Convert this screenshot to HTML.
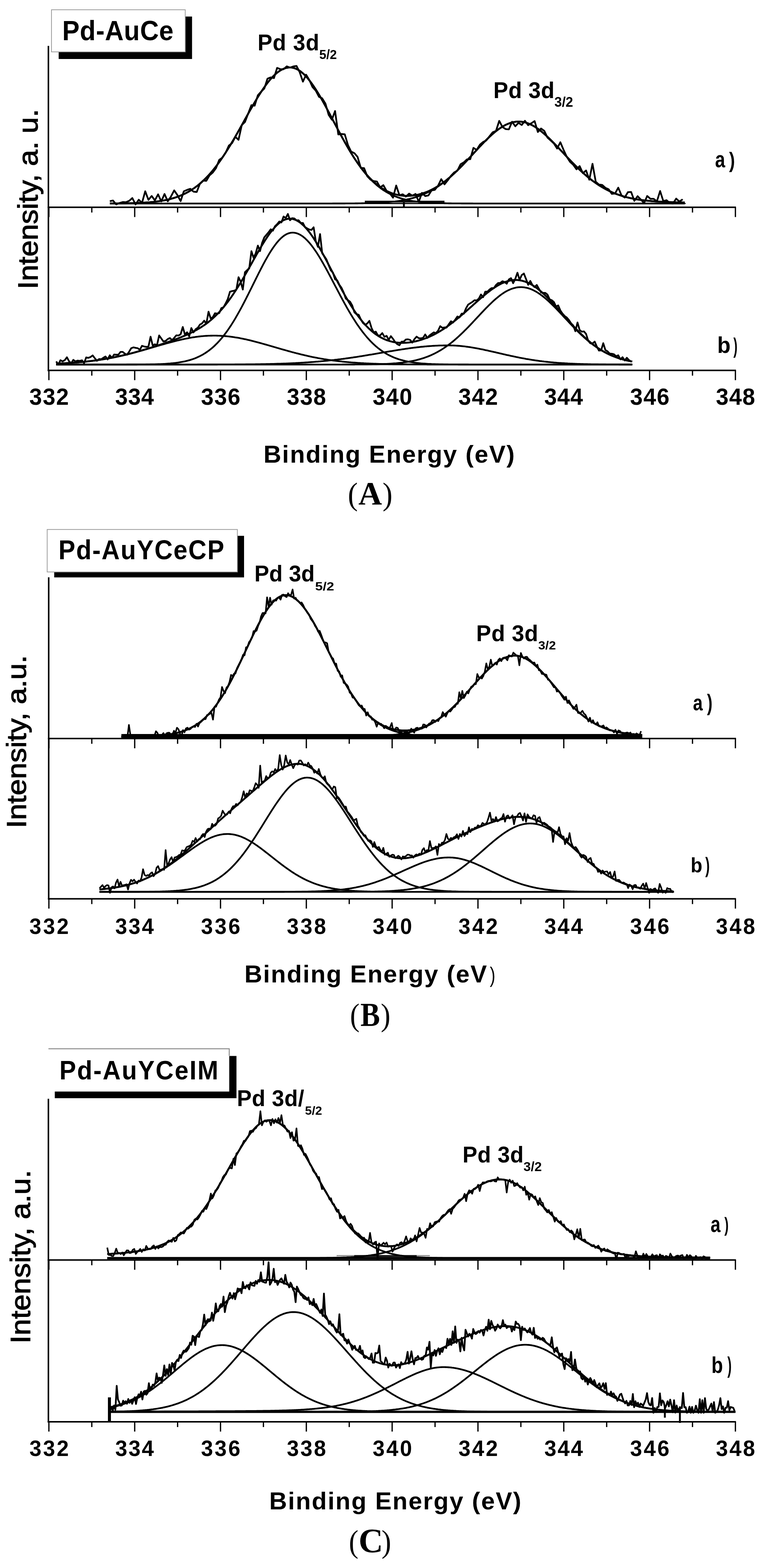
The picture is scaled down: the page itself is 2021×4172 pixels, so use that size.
<!DOCTYPE html>
<html><head><meta charset="utf-8"><title>Pd 3d XPS spectra</title>
<style>html,body{margin:0;padding:0;background:#fff;overflow:hidden;}svg{display:block;}</style></head>
<body>
<svg width="2021" height="4172" viewBox="0 0 2021 4172">
<rect width="2021" height="4172" fill="#fff"/>
<line x1="128.7" y1="122" x2="128.7" y2="987.5" stroke="#000" stroke-width="4"/>
<line x1="126.69999999999999" y1="551.5" x2="1957.1" y2="551.5" stroke="#000" stroke-width="4"/>
<line x1="130.0" y1="551.5" x2="130.0" y2="577.5" stroke="#000" stroke-width="3.4"/>
<line x1="244.1" y1="551.5" x2="244.1" y2="565.5" stroke="#000" stroke-width="3.4"/>
<line x1="358.2" y1="551.5" x2="358.2" y2="577.5" stroke="#000" stroke-width="3.4"/>
<line x1="472.3" y1="551.5" x2="472.3" y2="565.5" stroke="#000" stroke-width="3.4"/>
<line x1="586.4" y1="551.5" x2="586.4" y2="577.5" stroke="#000" stroke-width="3.4"/>
<line x1="700.5" y1="551.5" x2="700.5" y2="565.5" stroke="#000" stroke-width="3.4"/>
<line x1="814.6" y1="551.5" x2="814.6" y2="577.5" stroke="#000" stroke-width="3.4"/>
<line x1="928.7" y1="551.5" x2="928.7" y2="565.5" stroke="#000" stroke-width="3.4"/>
<line x1="1042.8" y1="551.5" x2="1042.8" y2="577.5" stroke="#000" stroke-width="3.4"/>
<line x1="1156.9" y1="551.5" x2="1156.9" y2="565.5" stroke="#000" stroke-width="3.4"/>
<line x1="1271.0" y1="551.5" x2="1271.0" y2="577.5" stroke="#000" stroke-width="3.4"/>
<line x1="1385.1" y1="551.5" x2="1385.1" y2="565.5" stroke="#000" stroke-width="3.4"/>
<line x1="1499.2" y1="551.5" x2="1499.2" y2="577.5" stroke="#000" stroke-width="3.4"/>
<line x1="1613.3" y1="551.5" x2="1613.3" y2="565.5" stroke="#000" stroke-width="3.4"/>
<line x1="1727.4" y1="551.5" x2="1727.4" y2="577.5" stroke="#000" stroke-width="3.4"/>
<line x1="1841.5" y1="551.5" x2="1841.5" y2="565.5" stroke="#000" stroke-width="3.4"/>
<line x1="1955.6" y1="551.5" x2="1955.6" y2="577.5" stroke="#000" stroke-width="3.4"/>
<line x1="126.69999999999999" y1="985.5" x2="1957.1" y2="985.5" stroke="#000" stroke-width="4"/>
<line x1="130.0" y1="985.5" x2="130.0" y2="1011.5" stroke="#000" stroke-width="3.4"/>
<line x1="244.1" y1="985.5" x2="244.1" y2="999.5" stroke="#000" stroke-width="3.4"/>
<line x1="358.2" y1="985.5" x2="358.2" y2="1011.5" stroke="#000" stroke-width="3.4"/>
<line x1="472.3" y1="985.5" x2="472.3" y2="999.5" stroke="#000" stroke-width="3.4"/>
<line x1="586.4" y1="985.5" x2="586.4" y2="1011.5" stroke="#000" stroke-width="3.4"/>
<line x1="700.5" y1="985.5" x2="700.5" y2="999.5" stroke="#000" stroke-width="3.4"/>
<line x1="814.6" y1="985.5" x2="814.6" y2="1011.5" stroke="#000" stroke-width="3.4"/>
<line x1="928.7" y1="985.5" x2="928.7" y2="999.5" stroke="#000" stroke-width="3.4"/>
<line x1="1042.8" y1="985.5" x2="1042.8" y2="1011.5" stroke="#000" stroke-width="3.4"/>
<line x1="1156.9" y1="985.5" x2="1156.9" y2="999.5" stroke="#000" stroke-width="3.4"/>
<line x1="1271.0" y1="985.5" x2="1271.0" y2="1011.5" stroke="#000" stroke-width="3.4"/>
<line x1="1385.1" y1="985.5" x2="1385.1" y2="999.5" stroke="#000" stroke-width="3.4"/>
<line x1="1499.2" y1="985.5" x2="1499.2" y2="1011.5" stroke="#000" stroke-width="3.4"/>
<line x1="1613.3" y1="985.5" x2="1613.3" y2="999.5" stroke="#000" stroke-width="3.4"/>
<line x1="1727.4" y1="985.5" x2="1727.4" y2="1011.5" stroke="#000" stroke-width="3.4"/>
<line x1="1841.5" y1="985.5" x2="1841.5" y2="999.5" stroke="#000" stroke-width="3.4"/>
<line x1="1955.6" y1="985.5" x2="1955.6" y2="1011.5" stroke="#000" stroke-width="3.4"/>
<line x1="292.0" y1="541.5" x2="1823.2" y2="541.5" stroke="#000" stroke-width="3"/>
<line x1="1074" y1="528" x2="1074" y2="551" stroke="#000" stroke-width="5"/>
<line x1="970" y1="536.5" x2="1182" y2="536.5" stroke="#111" stroke-width="5"/>
<polyline points="292.0 541.3 294.9 541.3 297.7 541.3 300.6 541.3 303.4 541.3 306.3 541.2 309.1 541.2 312.0 541.2 314.8 541.2 317.7 541.1 320.5 541.1 323.4 541.1 326.3 541.0 329.1 541.0 332.0 540.9 334.8 540.9 337.7 540.8 340.5 540.8 343.4 540.7 346.2 540.7 349.1 540.6 351.9 540.5 354.8 540.4 357.6 540.3 360.5 540.2 363.3 540.1 366.2 540.0 369.0 539.9 371.9 539.8 374.7 539.6 377.6 539.5 380.4 539.3 383.3 539.2 386.2 539.0 389.0 538.8 391.9 538.6 394.7 538.4 397.6 538.2 400.4 537.9 403.3 537.6 406.1 537.4 409.0 537.1 411.8 536.7 414.7 536.4 417.5 536.0 420.4 535.7 423.2 535.3 426.1 534.8 428.9 534.4 431.8 533.9 434.6 533.4 437.5 532.9 440.4 532.3 443.2 531.7 446.1 531.1 448.9 530.4 451.8 529.7 454.6 529.0 457.5 528.2 460.3 527.4 463.2 526.5 466.0 525.6 468.9 524.6 471.7 523.6 474.6 522.6 477.4 521.5 480.3 520.3 483.1 519.1 486.0 517.9 488.8 516.5 491.7 515.2 494.5 513.7 497.4 512.2 500.3 510.7 503.1 509.0 506.0 507.3 508.8 505.6 511.7 503.7 514.5 501.8 517.4 499.8 520.2 497.7 523.1 495.6 525.9 493.4 528.8 491.1 531.6 488.7 534.5 486.3 537.3 483.7 540.2 481.1 543.0 478.4 545.9 475.6 548.7 472.7 551.6 469.7 554.5 466.6 557.3 463.5 560.2 460.3 563.0 456.9 565.9 453.5 568.7 450.0 571.6 446.4 574.4 442.8 577.3 439.0 580.1 435.2 583.0 431.2 585.8 427.2 588.7 423.1 591.5 418.9 594.4 414.7 597.2 410.4 600.1 406.0 602.9 401.5 605.8 396.9 608.6 392.3 611.5 387.7 614.4 382.9 617.2 378.1 620.1 373.3 622.9 368.4 625.8 363.5 628.6 358.5 631.5 353.5 634.3 348.4 637.2 343.4 640.0 338.3 642.9 333.2 645.7 328.1 648.6 322.9 651.4 317.8 654.3 312.7 657.1 307.6 660.0 302.5 662.8 297.4 665.7 292.3 668.6 287.3 671.4 282.4 674.3 277.4 677.1 272.6 680.0 267.7 682.8 263.0 685.7 258.3 688.5 253.7 691.4 249.2 694.2 244.8 697.1 240.5 699.9 236.3 702.8 232.2 705.6 228.2 708.5 224.3 711.3 220.5 714.2 216.9 717.0 213.5 719.9 210.1 722.7 207.0 725.6 203.9 728.5 201.1 731.3 198.4 734.2 195.8 737.0 193.4 739.9 191.3 742.7 189.2 745.6 187.4 748.4 185.8 751.3 184.3 754.1 183.0 757.0 182.0 759.8 181.1 762.7 180.4 765.5 179.9 768.4 179.6 771.2 179.5 774.1 179.6 776.9 179.9 779.8 180.5 782.7 181.3 785.5 182.3 788.4 183.5 791.2 184.9 794.1 186.5 796.9 188.4 799.8 190.4 802.6 192.7 805.5 195.1 808.3 197.7 811.2 200.6 814.0 203.6 816.9 206.8 819.7 210.1 822.6 213.7 825.4 217.3 828.3 221.2 831.1 225.2 834.0 229.3 836.8 233.6 839.7 238.0 842.6 242.5 845.4 247.1 848.3 251.9 851.1 256.7 854.0 261.6 856.8 266.6 859.7 271.7 862.5 276.9 865.4 282.1 868.2 287.3 871.1 292.6 873.9 298.0 876.8 303.4 879.6 308.8 882.5 314.2 885.3 319.6 888.2 325.0 891.0 330.5 893.9 335.9 896.8 341.3 899.6 346.7 902.5 352.0 905.3 357.3 908.2 362.6 911.0 367.8 913.9 373.0 916.7 378.1 919.6 383.2 922.4 388.2 925.3 393.1 928.1 398.0 931.0 402.8 933.8 407.5 936.7 412.1 939.5 416.7 942.4 421.2 945.2 425.5 948.1 429.8 950.9 434.0 953.8 438.1 956.7 442.1 959.5 446.0 962.4 449.8 965.2 453.5 968.1 457.1 970.9 460.6 973.8 464.1 976.6 467.4 979.5 470.6 982.3 473.7 985.2 476.7 988.0 479.7 990.9 482.5 993.7 485.2 996.6 487.9 999.4 490.4 1002.3 492.9 1005.1 495.2 1008.0 497.5 1010.9 499.7 1013.7 501.8 1016.6 503.8 1019.4 505.8 1022.3 507.6 1025.1 509.4 1028.0 511.1 1030.8 512.8 1033.7 514.3 1036.5 515.8 1039.4 517.2 1042.2 518.6 1045.1 519.9 1047.9 521.1 1050.8 522.3 1053.6 523.4 1056.5 524.5 1059.3 525.5 1062.2 526.5 1065.0 527.4 1067.9 528.3 1070.8 529.1 1073.6 529.9 1076.5 530.6 1079.3 531.3 1082.2 531.9 1085.0 532.6 1087.9 533.1 1090.7 533.7 1093.6 534.2 1096.4 534.7 1099.3 535.2 1102.1 535.6 1105.0 536.0 1107.8 536.4 1110.7 536.7 1113.5 537.1 1116.4 537.4 1119.2 537.7 1122.1 538.0 1125.0 538.2 1127.8 538.5 1130.7 538.7 1133.5 538.9 1136.4 539.1 1139.2 539.3 1142.1 539.4 1144.9 539.6 1147.8 539.7 1150.6 539.9 1153.5 540.0 1156.3 540.1 1159.2 540.2 1162.0 540.3 1164.9 540.4 1167.7 540.5 1170.6 540.6 1173.4 540.7 1176.3 540.7 1179.1 540.8 1182.0 540.9 1184.9 540.9 1187.7 541.0 1190.6 541.0 1193.4 541.1 1196.3 541.1 1199.1 541.1 1202.0 541.2 1204.8 541.2 1207.7 541.2 1210.5 541.2 1213.4 541.3 1216.2 541.3 1219.1 541.3 1221.9 541.3 1224.8 541.3 1227.6 541.4 1230.5 541.4 1233.3 541.4 1236.2 541.4 1239.1 541.4 1241.9 541.4 1244.8 541.4 1247.6 541.4 1250.5 541.4 1253.3 541.4 1256.2 541.4 1259.0 541.5 1261.9 541.5 1264.7 541.5 1267.6 541.5 1270.4 541.5 1273.3 541.5 1276.1 541.5 1279.0 541.5 1281.8 541.5 1284.7 541.5 1287.5 541.5 1290.4 541.5 1293.2 541.5 1296.1 541.5 1299.0 541.5 1301.8 541.5 1304.7 541.5 1307.5 541.5 1310.4 541.5 1313.2 541.5 1316.1 541.5 1318.9 541.5 1321.8 541.5 1324.6 541.5 1327.5 541.5 1330.3 541.5 1333.2 541.5 1336.0 541.5 1338.9 541.5 1341.7 541.5 1344.6 541.5 1347.4 541.5 1350.3 541.5 1353.2 541.5 1356.0 541.5 1358.9 541.5 1361.7 541.5 1364.6 541.5 1367.4 541.5 1370.3 541.5 1373.1 541.5 1376.0 541.5 1378.8 541.5 1381.7 541.5 1384.5 541.5 1387.4 541.5 1390.2 541.5 1393.1 541.5 1395.9 541.5 1398.8 541.5 1401.6 541.5 1404.5 541.5 1407.3 541.5 1410.2 541.5 1413.1 541.5 1415.9 541.5 1418.8 541.5 1421.6 541.5 1424.5 541.5 1427.3 541.5 1430.2 541.5 1433.0 541.5 1435.9 541.5 1438.7 541.5 1441.6 541.5 1444.4 541.5 1447.3 541.5 1450.1 541.5 1453.0 541.5 1455.8 541.5 1458.7 541.5 1461.5 541.5 1464.4 541.5 1467.3 541.5 1470.1 541.5 1473.0 541.5 1475.8 541.5 1478.7 541.5 1481.5 541.5 1484.4 541.5 1487.2 541.5 1490.1 541.5 1492.9 541.5 1495.8 541.5 1498.6 541.5 1501.5 541.5 1504.3 541.5 1507.2 541.5 1510.0 541.5 1512.9 541.5 1515.7 541.5 1518.6 541.5 1521.4 541.5 1524.3 541.5 1527.2 541.5 1530.0 541.5 1532.9 541.5 1535.7 541.5 1538.6 541.5 1541.4 541.5 1544.3 541.5 1547.1 541.5 1550.0 541.5 1552.8 541.5 1555.7 541.5 1558.5 541.5 1561.4 541.5 1564.2 541.5 1567.1 541.5 1569.9 541.5 1572.8 541.5 1575.6 541.5 1578.5 541.5 1581.4 541.5 1584.2 541.5 1587.1 541.5 1589.9 541.5 1592.8 541.5 1595.6 541.5 1598.5 541.5 1601.3 541.5 1604.2 541.5 1607.0 541.5 1609.9 541.5 1612.7 541.5 1615.6 541.5 1618.4 541.5 1621.3 541.5 1624.1 541.5 1627.0 541.5 1629.8 541.5 1632.7 541.5 1635.5 541.5 1638.4 541.5 1641.3 541.5 1644.1 541.5 1647.0 541.5 1649.8 541.5 1652.7 541.5 1655.5 541.5 1658.4 541.5 1661.2 541.5 1664.1 541.5 1666.9 541.5 1669.8 541.5 1672.6 541.5 1675.5 541.5 1678.3 541.5 1681.2 541.5 1684.0 541.5 1686.9 541.5 1689.7 541.5 1692.6 541.5 1695.5 541.5 1698.3 541.5 1701.2 541.5 1704.0 541.5 1706.9 541.5 1709.7 541.5 1712.6 541.5 1715.4 541.5 1718.3 541.5 1721.1 541.5 1724.0 541.5 1726.8 541.5 1729.7 541.5 1732.5 541.5 1735.4 541.5 1738.2 541.5 1741.1 541.5 1743.9 541.5 1746.8 541.5 1749.6 541.5 1752.5 541.5 1755.4 541.5 1758.2 541.5 1761.1 541.5 1763.9 541.5 1766.8 541.5 1769.6 541.5 1772.5 541.5 1775.3 541.5 1778.2 541.5 1781.0 541.5 1783.9 541.5 1786.7 541.5 1789.6 541.5 1792.4 541.5 1795.3 541.5 1798.1 541.5 1801.0 541.5 1803.8 541.5 1806.7 541.5 1809.6 541.5 1812.4 541.5 1815.3 541.5 1818.1 541.5 1821.0 541.5" fill="none" stroke="#000" stroke-width="4.6" stroke-linejoin="round"/>
<polyline points="292.0 541.5 294.9 541.5 297.7 541.5 300.6 541.5 303.4 541.5 306.3 541.5 309.1 541.5 312.0 541.5 314.8 541.5 317.7 541.5 320.5 541.5 323.4 541.5 326.3 541.5 329.1 541.5 332.0 541.5 334.8 541.5 337.7 541.5 340.5 541.5 343.4 541.5 346.2 541.5 349.1 541.5 351.9 541.5 354.8 541.5 357.6 541.5 360.5 541.5 363.3 541.5 366.2 541.5 369.0 541.5 371.9 541.5 374.7 541.5 377.6 541.5 380.4 541.5 383.3 541.5 386.2 541.5 389.0 541.5 391.9 541.5 394.7 541.5 397.6 541.5 400.4 541.5 403.3 541.5 406.1 541.5 409.0 541.5 411.8 541.5 414.7 541.5 417.5 541.5 420.4 541.5 423.2 541.5 426.1 541.5 428.9 541.5 431.8 541.5 434.6 541.5 437.5 541.5 440.4 541.5 443.2 541.5 446.1 541.5 448.9 541.5 451.8 541.5 454.6 541.5 457.5 541.5 460.3 541.5 463.2 541.5 466.0 541.5 468.9 541.5 471.7 541.5 474.6 541.5 477.4 541.5 480.3 541.5 483.1 541.5 486.0 541.5 488.8 541.5 491.7 541.5 494.5 541.5 497.4 541.5 500.3 541.5 503.1 541.5 506.0 541.5 508.8 541.5 511.7 541.5 514.5 541.5 517.4 541.5 520.2 541.5 523.1 541.5 525.9 541.5 528.8 541.5 531.6 541.5 534.5 541.5 537.3 541.5 540.2 541.5 543.0 541.5 545.9 541.5 548.7 541.5 551.6 541.5 554.5 541.5 557.3 541.5 560.2 541.5 563.0 541.5 565.9 541.5 568.7 541.5 571.6 541.5 574.4 541.5 577.3 541.5 580.1 541.5 583.0 541.5 585.8 541.5 588.7 541.5 591.5 541.5 594.4 541.5 597.2 541.5 600.1 541.5 602.9 541.5 605.8 541.5 608.6 541.5 611.5 541.5 614.4 541.5 617.2 541.5 620.1 541.5 622.9 541.5 625.8 541.5 628.6 541.5 631.5 541.5 634.3 541.5 637.2 541.5 640.0 541.5 642.9 541.5 645.7 541.5 648.6 541.5 651.4 541.5 654.3 541.5 657.1 541.5 660.0 541.5 662.8 541.5 665.7 541.5 668.6 541.5 671.4 541.5 674.3 541.5 677.1 541.5 680.0 541.5 682.8 541.5 685.7 541.5 688.5 541.5 691.4 541.5 694.2 541.5 697.1 541.5 699.9 541.5 702.8 541.5 705.6 541.5 708.5 541.5 711.3 541.5 714.2 541.5 717.0 541.5 719.9 541.5 722.7 541.5 725.6 541.5 728.5 541.5 731.3 541.5 734.2 541.5 737.0 541.5 739.9 541.5 742.7 541.5 745.6 541.5 748.4 541.5 751.3 541.5 754.1 541.5 757.0 541.5 759.8 541.5 762.7 541.5 765.5 541.5 768.4 541.5 771.2 541.5 774.1 541.5 776.9 541.5 779.8 541.5 782.7 541.5 785.5 541.5 788.4 541.5 791.2 541.5 794.1 541.5 796.9 541.5 799.8 541.5 802.6 541.5 805.5 541.5 808.3 541.5 811.2 541.5 814.0 541.5 816.9 541.5 819.7 541.5 822.6 541.5 825.4 541.5 828.3 541.5 831.1 541.5 834.0 541.5 836.8 541.5 839.7 541.5 842.6 541.5 845.4 541.5 848.3 541.5 851.1 541.5 854.0 541.5 856.8 541.5 859.7 541.5 862.5 541.5 865.4 541.5 868.2 541.5 871.1 541.5 873.9 541.5 876.8 541.5 879.6 541.5 882.5 541.5 885.3 541.4 888.2 541.4 891.0 541.4 893.9 541.4 896.8 541.4 899.6 541.4 902.5 541.4 905.3 541.4 908.2 541.4 911.0 541.4 913.9 541.4 916.7 541.4 919.6 541.3 922.4 541.3 925.3 541.3 928.1 541.3 931.0 541.3 933.8 541.2 936.7 541.2 939.5 541.2 942.4 541.2 945.2 541.1 948.1 541.1 950.9 541.1 953.8 541.0 956.7 541.0 959.5 541.0 962.4 540.9 965.2 540.9 968.1 540.8 970.9 540.8 973.8 540.7 976.6 540.6 979.5 540.6 982.3 540.5 985.2 540.4 988.0 540.3 990.9 540.2 993.7 540.1 996.6 540.0 999.4 539.9 1002.3 539.8 1005.1 539.7 1008.0 539.5 1010.9 539.4 1013.7 539.2 1016.6 539.0 1019.4 538.9 1022.3 538.7 1025.1 538.5 1028.0 538.3 1030.8 538.0 1033.7 537.8 1036.5 537.5 1039.4 537.3 1042.2 537.0 1045.1 536.7 1047.9 536.3 1050.8 536.0 1053.6 535.6 1056.5 535.3 1059.3 534.9 1062.2 534.4 1065.0 534.0 1067.9 533.5 1070.8 533.0 1073.6 532.5 1076.5 531.9 1079.3 531.4 1082.2 530.8 1085.0 530.1 1087.9 529.5 1090.7 528.8 1093.6 528.0 1096.4 527.3 1099.3 526.5 1102.1 525.6 1105.0 524.7 1107.8 523.8 1110.7 522.9 1113.5 521.9 1116.4 520.9 1119.2 519.8 1122.1 518.7 1125.0 517.5 1127.8 516.3 1130.7 515.0 1133.5 513.7 1136.4 512.4 1139.2 511.0 1142.1 509.5 1144.9 508.0 1147.8 506.5 1150.6 504.9 1153.5 503.2 1156.3 501.5 1159.2 499.7 1162.0 497.9 1164.9 496.1 1167.7 494.1 1170.6 492.2 1173.4 490.1 1176.3 488.0 1179.1 485.9 1182.0 483.7 1184.9 481.5 1187.7 479.2 1190.6 476.8 1193.4 474.4 1196.3 472.0 1199.1 469.5 1202.0 466.9 1204.8 464.3 1207.7 461.7 1210.5 459.0 1213.4 456.3 1216.2 453.5 1219.1 450.7 1221.9 447.8 1224.8 445.0 1227.6 442.0 1230.5 439.1 1233.3 436.1 1236.2 433.1 1239.1 430.1 1241.9 427.0 1244.8 424.0 1247.6 420.9 1250.5 417.8 1253.3 414.7 1256.2 411.6 1259.0 408.4 1261.9 405.3 1264.7 402.2 1267.6 399.1 1270.4 396.0 1273.3 393.0 1276.1 389.9 1279.0 386.9 1281.8 383.9 1284.7 380.9 1287.5 378.0 1290.4 375.1 1293.2 372.2 1296.1 369.4 1299.0 366.6 1301.8 363.9 1304.7 361.3 1307.5 358.7 1310.4 356.2 1313.2 353.7 1316.1 351.3 1318.9 349.0 1321.8 346.8 1324.6 344.7 1327.5 342.6 1330.3 340.7 1333.2 338.8 1336.0 337.0 1338.9 335.4 1341.7 333.8 1344.6 332.3 1347.4 331.0 1350.3 329.7 1353.2 328.6 1356.0 327.5 1358.9 326.6 1361.7 325.8 1364.6 325.1 1367.4 324.6 1370.3 324.1 1373.1 323.8 1376.0 323.6 1378.8 323.5 1381.7 323.5 1384.5 323.7 1387.4 324.0 1390.2 324.4 1393.1 325.0 1395.9 325.6 1398.8 326.4 1401.6 327.3 1404.5 328.4 1407.3 329.5 1410.2 330.8 1413.1 332.1 1415.9 333.6 1418.8 335.2 1421.6 336.9 1424.5 338.7 1427.3 340.6 1430.2 342.6 1433.0 344.6 1435.9 346.8 1438.7 349.0 1441.6 351.4 1444.4 353.8 1447.3 356.2 1450.1 358.7 1453.0 361.3 1455.8 364.0 1458.7 366.7 1461.5 369.4 1464.4 372.2 1467.3 375.1 1470.1 377.9 1473.0 380.8 1475.8 383.8 1478.7 386.8 1481.5 389.7 1484.4 392.7 1487.2 395.8 1490.1 398.8 1492.9 401.8 1495.8 404.9 1498.6 407.9 1501.5 411.0 1504.3 414.0 1507.2 417.0 1510.0 420.0 1512.9 423.0 1515.7 426.0 1518.6 429.0 1521.4 431.9 1524.3 434.8 1527.2 437.7 1530.0 440.6 1532.9 443.4 1535.7 446.2 1538.6 448.9 1541.4 451.7 1544.3 454.3 1547.1 457.0 1550.0 459.6 1552.8 462.1 1555.7 464.6 1558.5 467.1 1561.4 469.5 1564.2 471.9 1567.1 474.2 1569.9 476.4 1572.8 478.7 1575.6 480.8 1578.5 482.9 1581.4 485.0 1584.2 487.0 1587.1 489.0 1589.9 490.9 1592.8 492.8 1595.6 494.6 1598.5 496.3 1601.3 498.0 1604.2 499.7 1607.0 501.3 1609.9 502.9 1612.7 504.4 1615.6 505.8 1618.4 507.3 1621.3 508.6 1624.1 509.9 1627.0 511.2 1629.8 512.5 1632.7 513.7 1635.5 514.8 1638.4 515.9 1641.3 517.0 1644.1 518.0 1647.0 519.0 1649.8 519.9 1652.7 520.8 1655.5 521.7 1658.4 522.6 1661.2 523.4 1664.1 524.1 1666.9 524.9 1669.8 525.6 1672.6 526.3 1675.5 526.9 1678.3 527.5 1681.2 528.1 1684.0 528.7 1686.9 529.2 1689.7 529.7 1692.6 530.2 1695.5 530.7 1698.3 531.1 1701.2 531.6 1704.0 532.0 1706.9 532.4 1709.7 532.7 1712.6 533.1 1715.4 533.4 1718.3 533.7 1721.1 534.0 1724.0 534.3 1726.8 534.6 1729.7 534.8 1732.5 535.1 1735.4 535.3 1738.2 535.5 1741.1 535.8 1743.9 536.0 1746.8 536.1 1749.6 536.3 1752.5 536.5 1755.4 536.7 1758.2 536.8 1761.1 537.0 1763.9 537.1 1766.8 537.2 1769.6 537.3 1772.5 537.5 1775.3 537.6 1778.2 537.7 1781.0 537.8 1783.9 537.9 1786.7 538.0 1789.6 538.1 1792.4 538.1 1795.3 538.2 1798.1 538.3 1801.0 538.4 1803.8 538.4 1806.7 538.5 1809.6 538.6 1812.4 538.6 1815.3 538.7 1818.1 538.7 1821.0 538.8" fill="none" stroke="#000" stroke-width="4.6" stroke-linejoin="round"/>
<polyline points="292.0 541.3 294.9 541.3 297.7 541.3 300.6 541.3 303.4 541.3 306.3 541.2 309.1 541.2 312.0 541.2 314.8 541.2 317.7 541.1 320.5 541.1 323.4 541.1 326.3 541.0 329.1 541.0 332.0 540.9 334.8 540.9 337.7 540.8 340.5 540.8 343.4 540.7 346.2 540.7 349.1 540.6 351.9 540.5 354.8 540.4 357.6 540.3 360.5 540.2 363.3 540.1 366.2 540.0 369.0 539.9 371.9 539.8 374.7 539.6 377.6 539.5 380.4 539.3 383.3 539.2 386.2 539.0 389.0 538.8 391.9 538.6 394.7 538.4 397.6 538.2 400.4 537.9 403.3 537.6 406.1 537.4 409.0 537.1 411.8 536.7 414.7 536.4 417.5 536.0 420.4 535.7 423.2 535.3 426.1 534.8 428.9 534.4 431.8 533.9 434.6 533.4 437.5 532.9 440.4 532.3 443.2 531.7 446.1 531.1 448.9 530.4 451.8 529.7 454.6 529.0 457.5 528.2 460.3 527.4 463.2 526.5 466.0 525.6 468.9 524.6 471.7 523.6 474.6 522.6 477.4 521.5 480.3 520.3 483.1 519.1 486.0 517.9 488.8 516.5 491.7 515.2 494.5 513.7 497.4 512.2 500.3 510.7 503.1 509.0 506.0 507.3 508.8 505.6 511.7 503.7 514.5 501.8 517.4 499.8 520.2 497.7 523.1 495.6 525.9 493.4 528.8 491.1 531.6 488.7 534.5 486.3 537.3 483.7 540.2 481.1 543.0 478.4 545.9 475.6 548.7 472.7 551.6 469.7 554.5 466.6 557.3 463.5 560.2 460.3 563.0 456.9 565.9 453.5 568.7 450.0 571.6 446.4 574.4 442.8 577.3 439.0 580.1 435.2 583.0 431.2 585.8 427.2 588.7 423.1 591.5 418.9 594.4 414.7 597.2 410.4 600.1 406.0 602.9 401.5 605.8 396.9 608.6 392.3 611.5 387.7 614.4 382.9 617.2 378.1 620.1 373.3 622.9 368.4 625.8 363.5 628.6 358.5 631.5 353.5 634.3 348.4 637.2 343.4 640.0 338.3 642.9 333.2 645.7 328.1 648.6 322.9 651.4 317.8 654.3 312.7 657.1 307.6 660.0 302.5 662.8 297.4 665.7 292.3 668.6 287.3 671.4 282.4 674.3 277.4 677.1 272.6 680.0 267.7 682.8 263.0 685.7 258.3 688.5 253.7 691.4 249.2 694.2 244.8 697.1 240.5 699.9 236.3 702.8 232.2 705.6 228.2 708.5 224.3 711.3 220.5 714.2 216.9 717.0 213.5 719.9 210.1 722.7 207.0 725.6 203.9 728.5 201.1 731.3 198.4 734.2 195.8 737.0 193.4 739.9 191.3 742.7 189.2 745.6 187.4 748.4 185.8 751.3 184.3 754.1 183.0 757.0 182.0 759.8 181.1 762.7 180.4 765.5 179.9 768.4 179.6 771.2 179.5 774.1 179.6 776.9 179.9 779.8 180.5 782.7 181.3 785.5 182.3 788.4 183.5 791.2 184.9 794.1 186.5 796.9 188.4 799.8 190.4 802.6 192.7 805.5 195.1 808.3 197.7 811.2 200.6 814.0 203.6 816.9 206.8 819.7 210.1 822.6 213.7 825.4 217.3 828.3 221.2 831.1 225.2 834.0 229.3 836.8 233.6 839.7 238.0 842.6 242.5 845.4 247.1 848.3 251.8 851.1 256.7 854.0 261.6 856.8 266.6 859.7 271.7 862.5 276.8 865.4 282.0 868.2 287.3 871.1 292.6 873.9 297.9 876.8 303.3 879.6 308.7 882.5 314.1 885.3 319.6 888.2 325.0 891.0 330.4 893.9 335.8 896.8 341.2 899.6 346.6 902.5 351.9 905.3 357.2 908.2 362.5 911.0 367.7 913.9 372.9 916.7 378.0 919.6 383.0 922.4 388.0 925.3 393.0 928.1 397.8 931.0 402.6 933.8 407.3 936.7 411.9 939.5 416.4 942.4 420.8 945.2 425.2 948.1 429.4 950.9 433.6 953.8 437.6 956.7 441.6 959.5 445.5 962.4 449.2 965.2 452.9 968.1 456.4 970.9 459.9 973.8 463.3 976.6 466.5 979.5 469.7 982.3 472.7 985.2 475.6 988.0 478.5 990.9 481.2 993.7 483.8 996.6 486.4 999.4 488.8 1002.3 491.1 1005.1 493.4 1008.0 495.5 1010.9 497.6 1013.7 499.5 1016.6 501.4 1019.4 503.1 1022.3 504.8 1025.1 506.4 1028.0 507.9 1030.8 509.3 1033.7 510.6 1036.5 511.8 1039.4 513.0 1042.2 514.1 1045.1 515.1 1047.9 516.0 1050.8 516.8 1053.6 517.6 1056.5 518.3 1059.3 518.9 1062.2 519.4 1065.0 519.9 1067.9 520.3 1070.8 520.6 1073.6 520.9 1076.5 521.0 1079.3 521.2 1082.2 521.2 1085.0 521.2 1087.9 521.1 1090.7 521.0 1093.6 520.7 1096.4 520.5 1099.3 520.1 1102.1 519.7 1105.0 519.2 1107.8 518.7 1110.7 518.1 1113.5 517.5 1116.4 516.7 1119.2 516.0 1122.1 515.1 1125.0 514.2 1127.8 513.2 1130.7 512.2 1133.5 511.1 1136.4 510.0 1139.2 508.7 1142.1 507.5 1144.9 506.1 1147.8 504.7 1150.6 503.2 1153.5 501.7 1156.3 500.1 1159.2 498.5 1162.0 496.8 1164.9 495.0 1167.7 493.1 1170.6 491.3 1173.4 489.3 1176.3 487.3 1179.1 485.2 1182.0 483.1 1184.9 480.9 1187.7 478.6 1190.6 476.3 1193.4 474.0 1196.3 471.6 1199.1 469.1 1202.0 466.6 1204.8 464.0 1207.7 461.4 1210.5 458.7 1213.4 456.0 1216.2 453.3 1219.1 450.5 1221.9 447.7 1224.8 444.8 1227.6 441.9 1230.5 439.0 1233.3 436.0 1236.2 433.0 1239.1 430.0 1241.9 426.9 1244.8 423.9 1247.6 420.8 1250.5 417.7 1253.3 414.6 1256.2 411.5 1259.0 408.4 1261.9 405.3 1264.7 402.2 1267.6 399.1 1270.4 396.0 1273.3 392.9 1276.1 389.9 1279.0 386.9 1281.8 383.9 1284.7 380.9 1287.5 377.9 1290.4 375.1 1293.2 372.2 1296.1 369.4 1299.0 366.6 1301.8 363.9 1304.7 361.3 1307.5 358.7 1310.4 356.2 1313.2 353.7 1316.1 351.3 1318.9 349.0 1321.8 346.8 1324.6 344.7 1327.5 342.6 1330.3 340.7 1333.2 338.8 1336.0 337.0 1338.9 335.4 1341.7 333.8 1344.6 332.3 1347.4 331.0 1350.3 329.7 1353.2 328.6 1356.0 327.5 1358.9 326.6 1361.7 325.8 1364.6 325.1 1367.4 324.6 1370.3 324.1 1373.1 323.8 1376.0 323.6 1378.8 323.5 1381.7 323.5 1384.5 323.7 1387.4 324.0 1390.2 324.4 1393.1 325.0 1395.9 325.6 1398.8 326.4 1401.6 327.3 1404.5 328.4 1407.3 329.5 1410.2 330.8 1413.1 332.1 1415.9 333.6 1418.8 335.2 1421.6 336.9 1424.5 338.7 1427.3 340.6 1430.2 342.6 1433.0 344.6 1435.9 346.8 1438.7 349.0 1441.6 351.4 1444.4 353.8 1447.3 356.2 1450.1 358.7 1453.0 361.3 1455.8 364.0 1458.7 366.7 1461.5 369.4 1464.4 372.2 1467.3 375.1 1470.1 377.9 1473.0 380.8 1475.8 383.8 1478.7 386.8 1481.5 389.7 1484.4 392.7 1487.2 395.8 1490.1 398.8 1492.9 401.8 1495.8 404.9 1498.6 407.9 1501.5 411.0 1504.3 414.0 1507.2 417.0 1510.0 420.0 1512.9 423.0 1515.7 426.0 1518.6 429.0 1521.4 431.9 1524.3 434.8 1527.2 437.7 1530.0 440.6 1532.9 443.4 1535.7 446.2 1538.6 448.9 1541.4 451.7 1544.3 454.3 1547.1 457.0 1550.0 459.6 1552.8 462.1 1555.7 464.6 1558.5 467.1 1561.4 469.5 1564.2 471.9 1567.1 474.2 1569.9 476.4 1572.8 478.7 1575.6 480.8 1578.5 482.9 1581.4 485.0 1584.2 487.0 1587.1 489.0 1589.9 490.9 1592.8 492.8 1595.6 494.6 1598.5 496.3 1601.3 498.0 1604.2 499.7 1607.0 501.3 1609.9 502.9 1612.7 504.4 1615.6 505.8 1618.4 507.3 1621.3 508.6 1624.1 509.9 1627.0 511.2 1629.8 512.5 1632.7 513.7 1635.5 514.8 1638.4 515.9 1641.3 517.0 1644.1 518.0 1647.0 519.0 1649.8 519.9 1652.7 520.8 1655.5 521.7 1658.4 522.6 1661.2 523.4 1664.1 524.1 1666.9 524.9 1669.8 525.6 1672.6 526.3 1675.5 526.9 1678.3 527.5 1681.2 528.1 1684.0 528.7 1686.9 529.2 1689.7 529.7 1692.6 530.2 1695.5 530.7 1698.3 531.1 1701.2 531.6 1704.0 532.0 1706.9 532.4 1709.7 532.7 1712.6 533.1 1715.4 533.4 1718.3 533.7 1721.1 534.0 1724.0 534.3 1726.8 534.6 1729.7 534.8 1732.5 535.1 1735.4 535.3 1738.2 535.5 1741.1 535.8 1743.9 536.0 1746.8 536.1 1749.6 536.3 1752.5 536.5 1755.4 536.7 1758.2 536.8 1761.1 537.0 1763.9 537.1 1766.8 537.2 1769.6 537.3 1772.5 537.5 1775.3 537.6 1778.2 537.7 1781.0 537.8 1783.9 537.9 1786.7 538.0 1789.6 538.1 1792.4 538.1 1795.3 538.2 1798.1 538.3 1801.0 538.4 1803.8 538.4 1806.7 538.5 1809.6 538.6 1812.4 538.6 1815.3 538.7 1818.1 538.7 1821.0 538.8" fill="none" stroke="#000" stroke-width="5" stroke-linejoin="round"/>
<polyline points="292.0 535.3 300.6 533.6 309.1 544.0 317.7 540.1 326.3 537.6 334.8 538.0 343.4 534.4 351.9 527.0 360.5 544.0 369.0 531.3 377.6 539.8 386.2 508.9 394.7 531.8 403.3 521.4 411.8 533.2 420.4 517.1 428.9 535.9 437.5 516.1 446.1 535.7 454.6 522.9 463.2 506.6 471.7 518.9 480.3 535.2 488.8 509.0 497.4 505.3 506.0 502.4 514.5 509.9 523.1 510.9 531.6 489.0 540.2 480.4 548.7 481.2 557.3 466.4 565.9 459.0 574.4 447.3 583.0 425.3 591.5 419.3 600.1 406.1 608.6 387.4 617.2 380.8 625.8 364.1 634.3 372.0 642.9 332.8 651.4 324.7 660.0 302.0 668.6 279.7 677.1 281.2 685.7 253.5 694.2 244.1 702.8 235.7 711.3 209.3 719.9 205.9 728.5 207.8 737.0 180.5 745.6 184.2 754.1 184.1 762.7 176.6 771.2 179.9 779.8 176.8 788.4 175.4 796.9 191.9 805.5 217.2 814.0 198.8 822.6 212.9 831.1 231.8 839.7 241.2 848.3 257.6 856.8 261.6 865.4 275.6 873.9 305.4 882.5 318.6 891.0 295.3 899.6 357.7 908.2 356.6 916.7 357.2 925.3 385.9 933.8 403.4 942.4 407.6 950.9 417.6 959.5 446.9 968.1 447.2 976.6 468.9 985.2 478.0 993.7 481.9 1002.3 483.0 1010.9 498.7 1019.4 492.7 1028.0 507.9 1036.5 514.3 1045.1 526.0 1053.6 493.6 1062.2 519.6 1070.8 516.9 1079.3 523.1 1087.9 515.2 1096.4 520.5 1105.0 516.0 1113.5 537.0 1122.1 513.2 1130.7 521.7 1139.2 520.1 1147.8 506.4 1156.3 505.2 1164.9 494.1 1173.4 476.7 1182.0 490.6 1190.6 479.8 1199.1 467.9 1207.7 458.7 1216.2 454.3 1224.8 437.1 1233.3 432.1 1241.9 424.0 1250.5 423.5 1259.0 393.4 1267.6 398.9 1276.1 385.1 1284.7 377.7 1293.2 373.6 1301.8 362.5 1310.4 351.8 1318.9 348.5 1327.5 321.7 1336.0 337.7 1344.6 343.5 1353.2 344.2 1361.7 323.8 1370.3 336.0 1378.8 326.9 1387.4 332.7 1395.9 321.4 1404.5 333.1 1413.1 327.8 1421.6 322.2 1430.2 351.2 1438.7 342.0 1447.3 348.1 1455.8 366.1 1464.4 373.8 1473.0 381.7 1481.5 395.2 1490.1 378.5 1498.6 398.6 1507.2 417.3 1515.7 430.5 1524.3 438.3 1532.9 450.5 1541.4 442.0 1550.0 460.7 1558.5 453.6 1567.1 478.2 1575.6 435.8 1584.2 483.5 1592.8 491.1 1601.3 492.0 1609.9 499.8 1618.4 503.6 1627.0 515.8 1635.5 515.0 1644.1 499.3 1652.7 520.0 1661.2 525.5 1669.8 511.3 1678.3 510.7 1686.9 534.4 1695.5 522.0 1704.0 530.8 1712.6 540.6 1721.1 521.5 1729.7 529.0 1738.2 529.0 1746.8 535.9 1755.4 508.3 1763.9 535.2 1772.5 532.6 1781.0 540.3 1789.6 541.4 1798.1 528.5 1806.7 536.4 1815.3 530.4" fill="none" stroke="#000" stroke-width="4.6" stroke-linejoin="round"/>
<line x1="149.4" y1="970" x2="1681.8" y2="970" stroke="#000" stroke-width="3"/>
<polyline points="149.4 967.6 152.2 967.4 155.1 967.3 158.0 967.2 160.8 967.1 163.7 966.9 166.5 966.8 169.4 966.6 172.2 966.5 175.1 966.3 177.9 966.1 180.8 966.0 183.6 965.8 186.5 965.6 189.3 965.4 192.2 965.2 195.0 965.0 197.9 964.8 200.7 964.6 203.6 964.4 206.4 964.1 209.3 963.9 212.2 963.6 215.0 963.4 217.9 963.1 220.7 962.8 223.6 962.6 226.4 962.3 229.3 962.0 232.1 961.7 235.0 961.3 237.8 961.0 240.7 960.7 243.5 960.3 246.4 960.0 249.2 959.6 252.1 959.2 254.9 958.9 257.8 958.5 260.6 958.0 263.5 957.6 266.3 957.2 269.2 956.8 272.1 956.3 274.9 955.9 277.8 955.4 280.6 954.9 283.5 954.4 286.3 953.9 289.2 953.4 292.0 952.9 294.9 952.3 297.7 951.8 300.6 951.2 303.4 950.7 306.3 950.1 309.1 949.5 312.0 948.9 314.8 948.3 317.7 947.7 320.5 947.0 323.4 946.4 326.3 945.7 329.1 945.1 332.0 944.4 334.8 943.7 337.7 943.0 340.5 942.3 343.4 941.6 346.2 940.9 349.1 940.2 351.9 939.4 354.8 938.7 357.6 937.9 360.5 937.2 363.3 936.4 366.2 935.6 369.0 934.8 371.9 934.1 374.7 933.3 377.6 932.5 380.4 931.7 383.3 930.9 386.2 930.0 389.0 929.2 391.9 928.4 394.7 927.6 397.6 926.7 400.4 925.9 403.3 925.1 406.1 924.3 409.0 923.4 411.8 922.6 414.7 921.8 417.5 920.9 420.4 920.1 423.2 919.3 426.1 918.4 428.9 917.6 431.8 916.8 434.6 916.0 437.5 915.2 440.4 914.4 443.2 913.6 446.1 912.8 448.9 912.0 451.8 911.2 454.6 910.5 457.5 909.7 460.3 909.0 463.2 908.2 466.0 907.5 468.9 906.8 471.7 906.1 474.6 905.4 477.4 904.7 480.3 904.0 483.1 903.4 486.0 902.8 488.8 902.2 491.7 901.6 494.5 901.0 497.4 900.4 500.3 899.9 503.1 899.3 506.0 898.8 508.8 898.3 511.7 897.8 514.5 897.4 517.4 897.0 520.2 896.5 523.1 896.1 525.9 895.8 528.8 895.4 531.6 895.1 534.5 894.8 537.3 894.5 540.2 894.3 543.0 894.0 545.9 893.8 548.7 893.6 551.6 893.5 554.5 893.3 557.3 893.2 560.2 893.1 563.0 893.1 565.9 893.0 568.7 893.0 571.6 893.0 574.4 893.0 577.3 893.1 580.1 893.2 583.0 893.3 585.8 893.4 588.7 893.6 591.5 893.7 594.4 893.9 597.2 894.2 600.1 894.4 602.9 894.7 605.8 895.0 608.6 895.3 611.5 895.6 614.4 896.0 617.2 896.4 620.1 896.8 622.9 897.2 625.8 897.7 628.6 898.1 631.5 898.6 634.3 899.1 637.2 899.6 640.0 900.2 642.9 900.7 645.7 901.3 648.6 901.9 651.4 902.5 654.3 903.1 657.1 903.8 660.0 904.4 662.8 905.1 665.7 905.8 668.6 906.5 671.4 907.2 674.3 907.9 677.1 908.7 680.0 909.4 682.8 910.2 685.7 910.9 688.5 911.7 691.4 912.5 694.2 913.3 697.1 914.1 699.9 914.9 702.8 915.7 705.6 916.5 708.5 917.3 711.3 918.1 714.2 918.9 717.0 919.8 719.9 920.6 722.7 921.4 725.6 922.3 728.5 923.1 731.3 923.9 734.2 924.7 737.0 925.6 739.9 926.4 742.7 927.2 745.6 928.1 748.4 928.9 751.3 929.7 754.1 930.5 757.0 931.3 759.8 932.1 762.7 932.9 765.5 933.7 768.4 934.5 771.2 935.3 774.1 936.1 776.9 936.9 779.8 937.6 782.7 938.4 785.5 939.1 788.4 939.9 791.2 940.6 794.1 941.3 796.9 942.0 799.8 942.8 802.6 943.4 805.5 944.1 808.3 944.8 811.2 945.5 814.0 946.1 816.9 946.8 819.7 947.4 822.6 948.0 825.4 948.7 828.3 949.3 831.1 949.9 834.0 950.4 836.8 951.0 839.7 951.6 842.6 952.1 845.4 952.7 848.3 953.2 851.1 953.7 854.0 954.2 856.8 954.7 859.7 955.2 862.5 955.7 865.4 956.1 868.2 956.6 871.1 957.0 873.9 957.5 876.8 957.9 879.6 958.3 882.5 958.7 885.3 959.1 888.2 959.5 891.0 959.8 893.9 960.2 896.8 960.5 899.6 960.9 902.5 961.2 905.3 961.5 908.2 961.8 911.0 962.2 913.9 962.4 916.7 962.7 919.6 963.0 922.4 963.3 925.3 963.5 928.1 963.8 931.0 964.0 933.8 964.3 936.7 964.5 939.5 964.7 942.4 964.9 945.2 965.1 948.1 965.3 950.9 965.5 953.8 965.7 956.7 965.9 959.5 966.1 962.4 966.2 965.2 966.4 968.1 966.6 970.9 966.7 973.8 966.9 976.6 967.0 979.5 967.1 982.3 967.3 985.2 967.4 988.0 967.5 990.9 967.6 993.7 967.7 996.6 967.8 999.4 967.9 1002.3 968.0 1005.1 968.1 1008.0 968.2 1010.9 968.3 1013.7 968.4 1016.6 968.5 1019.4 968.5 1022.3 968.6 1025.1 968.7 1028.0 968.7 1030.8 968.8 1033.7 968.9 1036.5 968.9 1039.4 969.0 1042.2 969.0 1045.1 969.1 1047.9 969.1 1050.8 969.2 1053.6 969.2 1056.5 969.3 1059.3 969.3 1062.2 969.3 1065.0 969.4 1067.9 969.4 1070.8 969.4 1073.6 969.5 1076.5 969.5 1079.3 969.5 1082.2 969.6 1085.0 969.6 1087.9 969.6 1090.7 969.6 1093.6 969.6 1096.4 969.7 1099.3 969.7 1102.1 969.7 1105.0 969.7 1107.8 969.7 1110.7 969.8 1113.5 969.8 1116.4 969.8 1119.2 969.8 1122.1 969.8 1125.0 969.8 1127.8 969.8 1130.7 969.8 1133.5 969.8 1136.4 969.9 1139.2 969.9 1142.1 969.9 1144.9 969.9 1147.8 969.9 1150.6 969.9 1153.5 969.9 1156.3 969.9 1159.2 969.9 1162.0 969.9 1164.9 969.9 1167.7 969.9 1170.6 969.9 1173.4 969.9 1176.3 969.9 1179.1 969.9 1182.0 970.0 1184.9 970.0 1187.7 970.0 1190.6 970.0 1193.4 970.0 1196.3 970.0 1199.1 970.0 1202.0 970.0 1204.8 970.0 1207.7 970.0 1210.5 970.0 1213.4 970.0 1216.2 970.0 1219.1 970.0 1221.9 970.0 1224.8 970.0 1227.6 970.0 1230.5 970.0 1233.3 970.0 1236.2 970.0 1239.1 970.0 1241.9 970.0 1244.8 970.0 1247.6 970.0 1250.5 970.0 1253.3 970.0 1256.2 970.0 1259.0 970.0 1261.9 970.0 1264.7 970.0 1267.6 970.0 1270.4 970.0 1273.3 970.0 1276.1 970.0 1279.0 970.0 1281.8 970.0 1284.7 970.0 1287.5 970.0 1290.4 970.0 1293.2 970.0 1296.1 970.0 1299.0 970.0 1301.8 970.0 1304.7 970.0 1307.5 970.0 1310.4 970.0 1313.2 970.0 1316.1 970.0 1318.9 970.0 1321.8 970.0 1324.6 970.0 1327.5 970.0 1330.3 970.0 1333.2 970.0 1336.0 970.0 1338.9 970.0 1341.7 970.0 1344.6 970.0 1347.4 970.0 1350.3 970.0 1353.2 970.0 1356.0 970.0 1358.9 970.0 1361.7 970.0 1364.6 970.0 1367.4 970.0 1370.3 970.0 1373.1 970.0 1376.0 970.0 1378.8 970.0 1381.7 970.0 1384.5 970.0 1387.4 970.0 1390.2 970.0 1393.1 970.0 1395.9 970.0 1398.8 970.0 1401.6 970.0 1404.5 970.0 1407.3 970.0 1410.2 970.0 1413.1 970.0 1415.9 970.0 1418.8 970.0 1421.6 970.0 1424.5 970.0 1427.3 970.0 1430.2 970.0 1433.0 970.0 1435.9 970.0 1438.7 970.0 1441.6 970.0 1444.4 970.0 1447.3 970.0 1450.1 970.0 1453.0 970.0 1455.8 970.0 1458.7 970.0 1461.5 970.0 1464.4 970.0 1467.3 970.0 1470.1 970.0 1473.0 970.0 1475.8 970.0 1478.7 970.0 1481.5 970.0 1484.4 970.0 1487.2 970.0 1490.1 970.0 1492.9 970.0 1495.8 970.0 1498.6 970.0 1501.5 970.0 1504.3 970.0 1507.2 970.0 1510.0 970.0 1512.9 970.0 1515.7 970.0 1518.6 970.0 1521.4 970.0 1524.3 970.0 1527.2 970.0 1530.0 970.0 1532.9 970.0 1535.7 970.0 1538.6 970.0 1541.4 970.0 1544.3 970.0 1547.1 970.0 1550.0 970.0 1552.8 970.0 1555.7 970.0 1558.5 970.0 1561.4 970.0 1564.2 970.0 1567.1 970.0 1569.9 970.0 1572.8 970.0 1575.6 970.0 1578.5 970.0 1581.4 970.0 1584.2 970.0 1587.1 970.0 1589.9 970.0 1592.8 970.0 1595.6 970.0 1598.5 970.0 1601.3 970.0 1604.2 970.0 1607.0 970.0 1609.9 970.0 1612.7 970.0 1615.6 970.0 1618.4 970.0 1621.3 970.0 1624.1 970.0 1627.0 970.0 1629.8 970.0 1632.7 970.0 1635.5 970.0 1638.4 970.0 1641.3 970.0 1644.1 970.0 1647.0 970.0 1649.8 970.0 1652.7 970.0 1655.5 970.0 1658.4 970.0 1661.2 970.0 1664.1 970.0 1666.9 970.0 1669.8 970.0 1672.6 970.0 1675.5 970.0 1678.3 970.0 1681.2 970.0" fill="none" stroke="#000" stroke-width="4.6" stroke-linejoin="round"/>
<polyline points="149.4 970.0 152.2 970.0 155.1 970.0 158.0 970.0 160.8 970.0 163.7 970.0 166.5 970.0 169.4 970.0 172.2 970.0 175.1 970.0 177.9 970.0 180.8 970.0 183.6 970.0 186.5 970.0 189.3 970.0 192.2 970.0 195.0 970.0 197.9 970.0 200.7 970.0 203.6 970.0 206.4 970.0 209.3 970.0 212.2 970.0 215.0 970.0 217.9 970.0 220.7 970.0 223.6 970.0 226.4 970.0 229.3 970.0 232.1 970.0 235.0 970.0 237.8 970.0 240.7 970.0 243.5 970.0 246.4 970.0 249.2 970.0 252.1 970.0 254.9 970.0 257.8 970.0 260.6 970.0 263.5 970.0 266.3 970.0 269.2 970.0 272.1 970.0 274.9 970.0 277.8 970.0 280.6 970.0 283.5 970.0 286.3 970.0 289.2 970.0 292.0 970.0 294.9 970.0 297.7 970.0 300.6 970.0 303.4 970.0 306.3 970.0 309.1 970.0 312.0 970.0 314.8 970.0 317.7 970.0 320.5 970.0 323.4 970.0 326.3 970.0 329.1 970.0 332.0 970.0 334.8 970.0 337.7 969.9 340.5 969.9 343.4 969.9 346.2 969.9 349.1 969.9 351.9 969.9 354.8 969.9 357.6 969.9 360.5 969.9 363.3 969.9 366.2 969.8 369.0 969.8 371.9 969.8 374.7 969.8 377.6 969.8 380.4 969.7 383.3 969.7 386.2 969.7 389.0 969.6 391.9 969.6 394.7 969.5 397.6 969.5 400.4 969.4 403.3 969.4 406.1 969.3 409.0 969.3 411.8 969.2 414.7 969.1 417.5 969.0 420.4 968.9 423.2 968.8 426.1 968.7 428.9 968.6 431.8 968.5 434.6 968.3 437.5 968.2 440.4 968.0 443.2 967.8 446.1 967.6 448.9 967.4 451.8 967.2 454.6 966.9 457.5 966.6 460.3 966.4 463.2 966.0 466.0 965.7 468.9 965.4 471.7 965.0 474.6 964.6 477.4 964.1 480.3 963.6 483.1 963.1 486.0 962.6 488.8 962.0 491.7 961.4 494.5 960.7 497.4 960.0 500.3 959.3 503.1 958.5 506.0 957.7 508.8 956.8 511.7 955.8 514.5 954.8 517.4 953.8 520.2 952.7 523.1 951.5 525.9 950.2 528.8 948.9 531.6 947.5 534.5 946.0 537.3 944.5 540.2 942.9 543.0 941.1 545.9 939.4 548.7 937.5 551.6 935.5 554.5 933.4 557.3 931.3 560.2 929.0 563.0 926.7 565.9 924.2 568.7 921.7 571.6 919.0 574.4 916.2 577.3 913.3 580.1 910.4 583.0 907.3 585.8 904.0 588.7 900.7 591.5 897.3 594.4 893.7 597.2 890.0 600.1 886.2 602.9 882.3 605.8 878.3 608.6 874.2 611.5 869.9 614.4 865.6 617.2 861.1 620.1 856.6 622.9 851.9 625.8 847.1 628.6 842.2 631.5 837.2 634.3 832.2 637.2 827.0 640.0 821.8 642.9 816.5 645.7 811.1 648.6 805.6 651.4 800.1 654.3 794.5 657.1 788.9 660.0 783.2 662.8 777.5 665.7 771.7 668.6 766.0 671.4 760.2 674.3 754.4 677.1 748.7 680.0 742.9 682.8 737.2 685.7 731.5 688.5 725.8 691.4 720.2 694.2 714.6 697.1 709.1 699.9 703.7 702.8 698.4 705.6 693.2 708.5 688.1 711.3 683.1 714.2 678.2 717.0 673.4 719.9 668.8 722.7 664.4 725.6 660.1 728.5 656.0 731.3 652.1 734.2 648.3 737.0 644.8 739.9 641.4 742.7 638.3 745.6 635.4 748.4 632.7 751.3 630.2 754.1 628.0 757.0 626.0 759.8 624.3 762.7 622.7 765.5 621.5 768.4 620.5 771.2 619.7 774.1 619.3 776.9 619.0 779.8 619.0 782.7 619.3 785.5 619.8 788.4 620.5 791.2 621.4 794.1 622.6 796.9 624.0 799.8 625.6 802.6 627.4 805.5 629.4 808.3 631.7 811.2 634.1 814.0 636.8 816.9 639.6 819.7 642.7 822.6 645.9 825.4 649.3 828.3 652.9 831.1 656.6 834.0 660.5 836.8 664.6 839.7 668.7 842.6 673.1 845.4 677.5 848.3 682.1 851.1 686.8 854.0 691.6 856.8 696.5 859.7 701.5 862.5 706.6 865.4 711.7 868.2 716.9 871.1 722.2 873.9 727.5 876.8 732.9 879.6 738.3 882.5 743.7 885.3 749.1 888.2 754.6 891.0 760.0 893.9 765.4 896.8 770.9 899.6 776.3 902.5 781.7 905.3 787.1 908.2 792.4 911.0 797.7 913.9 802.9 916.7 808.1 919.6 813.2 922.4 818.3 925.3 823.3 928.1 828.2 931.0 833.0 933.8 837.8 936.7 842.5 939.5 847.1 942.4 851.6 945.2 856.0 948.1 860.4 950.9 864.6 953.8 868.7 956.7 872.8 959.5 876.7 962.4 880.5 965.2 884.3 968.1 887.9 970.9 891.4 973.8 894.9 976.6 898.2 979.5 901.4 982.3 904.5 985.2 907.6 988.0 910.5 990.9 913.3 993.7 916.0 996.6 918.6 999.4 921.2 1002.3 923.6 1005.1 926.0 1008.0 928.2 1010.9 930.4 1013.7 932.4 1016.6 934.4 1019.4 936.3 1022.3 938.2 1025.1 939.9 1028.0 941.6 1030.8 943.2 1033.7 944.7 1036.5 946.1 1039.4 947.5 1042.2 948.8 1045.1 950.1 1047.9 951.3 1050.8 952.4 1053.6 953.5 1056.5 954.5 1059.3 955.5 1062.2 956.4 1065.0 957.2 1067.9 958.1 1070.8 958.8 1073.6 959.6 1076.5 960.3 1079.3 960.9 1082.2 961.5 1085.0 962.1 1087.9 962.6 1090.7 963.1 1093.6 963.6 1096.4 964.1 1099.3 964.5 1102.1 964.9 1105.0 965.2 1107.8 965.6 1110.7 965.9 1113.5 966.2 1116.4 966.5 1119.2 966.8 1122.1 967.0 1125.0 967.2 1127.8 967.4 1130.7 967.6 1133.5 967.8 1136.4 968.0 1139.2 968.2 1142.1 968.3 1144.9 968.4 1147.8 968.6 1150.6 968.7 1153.5 968.8 1156.3 968.9 1159.2 969.0 1162.0 969.1 1164.9 969.1 1167.7 969.2 1170.6 969.3 1173.4 969.4 1176.3 969.4 1179.1 969.5 1182.0 969.5 1184.9 969.6 1187.7 969.6 1190.6 969.6 1193.4 969.7 1196.3 969.7 1199.1 969.7 1202.0 969.7 1204.8 969.8 1207.7 969.8 1210.5 969.8 1213.4 969.8 1216.2 969.8 1219.1 969.9 1221.9 969.9 1224.8 969.9 1227.6 969.9 1230.5 969.9 1233.3 969.9 1236.2 969.9 1239.1 969.9 1241.9 969.9 1244.8 969.9 1247.6 970.0 1250.5 970.0 1253.3 970.0 1256.2 970.0 1259.0 970.0 1261.9 970.0 1264.7 970.0 1267.6 970.0 1270.4 970.0 1273.3 970.0 1276.1 970.0 1279.0 970.0 1281.8 970.0 1284.7 970.0 1287.5 970.0 1290.4 970.0 1293.2 970.0 1296.1 970.0 1299.0 970.0 1301.8 970.0 1304.7 970.0 1307.5 970.0 1310.4 970.0 1313.2 970.0 1316.1 970.0 1318.9 970.0 1321.8 970.0 1324.6 970.0 1327.5 970.0 1330.3 970.0 1333.2 970.0 1336.0 970.0 1338.9 970.0 1341.7 970.0 1344.6 970.0 1347.4 970.0 1350.3 970.0 1353.2 970.0 1356.0 970.0 1358.9 970.0 1361.7 970.0 1364.6 970.0 1367.4 970.0 1370.3 970.0 1373.1 970.0 1376.0 970.0 1378.8 970.0 1381.7 970.0 1384.5 970.0 1387.4 970.0 1390.2 970.0 1393.1 970.0 1395.9 970.0 1398.8 970.0 1401.6 970.0 1404.5 970.0 1407.3 970.0 1410.2 970.0 1413.1 970.0 1415.9 970.0 1418.8 970.0 1421.6 970.0 1424.5 970.0 1427.3 970.0 1430.2 970.0 1433.0 970.0 1435.9 970.0 1438.7 970.0 1441.6 970.0 1444.4 970.0 1447.3 970.0 1450.1 970.0 1453.0 970.0 1455.8 970.0 1458.7 970.0 1461.5 970.0 1464.4 970.0 1467.3 970.0 1470.1 970.0 1473.0 970.0 1475.8 970.0 1478.7 970.0 1481.5 970.0 1484.4 970.0 1487.2 970.0 1490.1 970.0 1492.9 970.0 1495.8 970.0 1498.6 970.0 1501.5 970.0 1504.3 970.0 1507.2 970.0 1510.0 970.0 1512.9 970.0 1515.7 970.0 1518.6 970.0 1521.4 970.0 1524.3 970.0 1527.2 970.0 1530.0 970.0 1532.9 970.0 1535.7 970.0 1538.6 970.0 1541.4 970.0 1544.3 970.0 1547.1 970.0 1550.0 970.0 1552.8 970.0 1555.7 970.0 1558.5 970.0 1561.4 970.0 1564.2 970.0 1567.1 970.0 1569.9 970.0 1572.8 970.0 1575.6 970.0 1578.5 970.0 1581.4 970.0 1584.2 970.0 1587.1 970.0 1589.9 970.0 1592.8 970.0 1595.6 970.0 1598.5 970.0 1601.3 970.0 1604.2 970.0 1607.0 970.0 1609.9 970.0 1612.7 970.0 1615.6 970.0 1618.4 970.0 1621.3 970.0 1624.1 970.0 1627.0 970.0 1629.8 970.0 1632.7 970.0 1635.5 970.0 1638.4 970.0 1641.3 970.0 1644.1 970.0 1647.0 970.0 1649.8 970.0 1652.7 970.0 1655.5 970.0 1658.4 970.0 1661.2 970.0 1664.1 970.0 1666.9 970.0 1669.8 970.0 1672.6 970.0 1675.5 970.0 1678.3 970.0 1681.2 970.0" fill="none" stroke="#000" stroke-width="4.6" stroke-linejoin="round"/>
<polyline points="149.4 970.0 152.2 970.0 155.1 970.0 158.0 970.0 160.8 970.0 163.7 970.0 166.5 970.0 169.4 970.0 172.2 970.0 175.1 970.0 177.9 970.0 180.8 970.0 183.6 970.0 186.5 970.0 189.3 970.0 192.2 970.0 195.0 970.0 197.9 970.0 200.7 970.0 203.6 970.0 206.4 970.0 209.3 970.0 212.2 970.0 215.0 970.0 217.9 970.0 220.7 970.0 223.6 970.0 226.4 970.0 229.3 970.0 232.1 970.0 235.0 970.0 237.8 970.0 240.7 970.0 243.5 970.0 246.4 970.0 249.2 970.0 252.1 970.0 254.9 970.0 257.8 970.0 260.6 970.0 263.5 970.0 266.3 970.0 269.2 970.0 272.1 970.0 274.9 970.0 277.8 970.0 280.6 970.0 283.5 970.0 286.3 970.0 289.2 970.0 292.0 970.0 294.9 970.0 297.7 970.0 300.6 970.0 303.4 970.0 306.3 970.0 309.1 970.0 312.0 970.0 314.8 970.0 317.7 970.0 320.5 970.0 323.4 970.0 326.3 970.0 329.1 970.0 332.0 970.0 334.8 970.0 337.7 970.0 340.5 970.0 343.4 970.0 346.2 970.0 349.1 970.0 351.9 970.0 354.8 970.0 357.6 970.0 360.5 970.0 363.3 970.0 366.2 970.0 369.0 970.0 371.9 970.0 374.7 970.0 377.6 970.0 380.4 970.0 383.3 970.0 386.2 970.0 389.0 970.0 391.9 970.0 394.7 970.0 397.6 970.0 400.4 970.0 403.3 970.0 406.1 970.0 409.0 970.0 411.8 970.0 414.7 970.0 417.5 970.0 420.4 970.0 423.2 970.0 426.1 970.0 428.9 970.0 431.8 970.0 434.6 970.0 437.5 970.0 440.4 970.0 443.2 970.0 446.1 970.0 448.9 970.0 451.8 970.0 454.6 970.0 457.5 970.0 460.3 970.0 463.2 970.0 466.0 970.0 468.9 970.0 471.7 970.0 474.6 970.0 477.4 970.0 480.3 970.0 483.1 970.0 486.0 970.0 488.8 970.0 491.7 970.0 494.5 970.0 497.4 970.0 500.3 970.0 503.1 970.0 506.0 970.0 508.8 970.0 511.7 970.0 514.5 970.0 517.4 970.0 520.2 970.0 523.1 970.0 525.9 969.9 528.8 969.9 531.6 969.9 534.5 969.9 537.3 969.9 540.2 969.9 543.0 969.9 545.9 969.9 548.7 969.9 551.6 969.9 554.5 969.9 557.3 969.9 560.2 969.9 563.0 969.9 565.9 969.9 568.7 969.9 571.6 969.9 574.4 969.9 577.3 969.9 580.1 969.8 583.0 969.8 585.8 969.8 588.7 969.8 591.5 969.8 594.4 969.8 597.2 969.8 600.1 969.8 602.9 969.8 605.8 969.8 608.6 969.7 611.5 969.7 614.4 969.7 617.2 969.7 620.1 969.7 622.9 969.7 625.8 969.6 628.6 969.6 631.5 969.6 634.3 969.6 637.2 969.6 640.0 969.5 642.9 969.5 645.7 969.5 648.6 969.5 651.4 969.5 654.3 969.4 657.1 969.4 660.0 969.4 662.8 969.3 665.7 969.3 668.6 969.3 671.4 969.2 674.3 969.2 677.1 969.2 680.0 969.1 682.8 969.1 685.7 969.0 688.5 969.0 691.4 969.0 694.2 968.9 697.1 968.9 699.9 968.8 702.8 968.8 705.6 968.7 708.5 968.6 711.3 968.6 714.2 968.5 717.0 968.5 719.9 968.4 722.7 968.3 725.6 968.2 728.5 968.2 731.3 968.1 734.2 968.0 737.0 967.9 739.9 967.9 742.7 967.8 745.6 967.7 748.4 967.6 751.3 967.5 754.1 967.4 757.0 967.3 759.8 967.2 762.7 967.1 765.5 967.0 768.4 966.8 771.2 966.7 774.1 966.6 776.9 966.5 779.8 966.3 782.7 966.2 785.5 966.1 788.4 965.9 791.2 965.8 794.1 965.6 796.9 965.5 799.8 965.3 802.6 965.1 805.5 965.0 808.3 964.8 811.2 964.6 814.0 964.4 816.9 964.2 819.7 964.0 822.6 963.8 825.4 963.6 828.3 963.4 831.1 963.2 834.0 963.0 836.8 962.8 839.7 962.5 842.6 962.3 845.4 962.1 848.3 961.8 851.1 961.6 854.0 961.3 856.8 961.0 859.7 960.8 862.5 960.5 865.4 960.2 868.2 959.9 871.1 959.6 873.9 959.3 876.8 959.0 879.6 958.7 882.5 958.4 885.3 958.1 888.2 957.8 891.0 957.4 893.9 957.1 896.8 956.8 899.6 956.4 902.5 956.0 905.3 955.7 908.2 955.3 911.0 955.0 913.9 954.6 916.7 954.2 919.6 953.8 922.4 953.4 925.3 953.0 928.1 952.6 931.0 952.2 933.8 951.8 936.7 951.4 939.5 950.9 942.4 950.5 945.2 950.1 948.1 949.7 950.9 949.2 953.8 948.8 956.7 948.3 959.5 947.9 962.4 947.4 965.2 946.9 968.1 946.5 970.9 946.0 973.8 945.5 976.6 945.1 979.5 944.6 982.3 944.1 985.2 943.6 988.0 943.2 990.9 942.7 993.7 942.2 996.6 941.7 999.4 941.2 1002.3 940.7 1005.1 940.2 1008.0 939.7 1010.9 939.2 1013.7 938.7 1016.6 938.3 1019.4 937.8 1022.3 937.3 1025.1 936.8 1028.0 936.3 1030.8 935.8 1033.7 935.3 1036.5 934.8 1039.4 934.4 1042.2 933.9 1045.1 933.4 1047.9 932.9 1050.8 932.5 1053.6 932.0 1056.5 931.5 1059.3 931.1 1062.2 930.6 1065.0 930.2 1067.9 929.7 1070.8 929.3 1073.6 928.9 1076.5 928.4 1079.3 928.0 1082.2 927.6 1085.0 927.2 1087.9 926.8 1090.7 926.4 1093.6 926.0 1096.4 925.6 1099.3 925.3 1102.1 924.9 1105.0 924.6 1107.8 924.2 1110.7 923.9 1113.5 923.6 1116.4 923.2 1119.2 922.9 1122.1 922.6 1125.0 922.4 1127.8 922.1 1130.7 921.8 1133.5 921.6 1136.4 921.3 1139.2 921.1 1142.1 920.9 1144.9 920.7 1147.8 920.5 1150.6 920.3 1153.5 920.1 1156.3 920.0 1159.2 919.8 1162.0 919.7 1164.9 919.5 1167.7 919.4 1170.6 919.3 1173.4 919.2 1176.3 919.2 1179.1 919.1 1182.0 919.1 1184.9 919.0 1187.7 919.0 1190.6 919.0 1193.4 919.0 1196.3 919.0 1199.1 919.1 1202.0 919.2 1204.8 919.3 1207.7 919.4 1210.5 919.5 1213.4 919.7 1216.2 919.9 1219.1 920.1 1221.9 920.3 1224.8 920.6 1227.6 920.9 1230.5 921.2 1233.3 921.5 1236.2 921.8 1239.1 922.2 1241.9 922.6 1244.8 923.0 1247.6 923.4 1250.5 923.8 1253.3 924.3 1256.2 924.7 1259.0 925.2 1261.9 925.7 1264.7 926.2 1267.6 926.7 1270.4 927.3 1273.3 927.8 1276.1 928.4 1279.0 929.0 1281.8 929.5 1284.7 930.1 1287.5 930.7 1290.4 931.4 1293.2 932.0 1296.1 932.6 1299.0 933.2 1301.8 933.9 1304.7 934.5 1307.5 935.2 1310.4 935.8 1313.2 936.5 1316.1 937.1 1318.9 937.8 1321.8 938.5 1324.6 939.1 1327.5 939.8 1330.3 940.4 1333.2 941.1 1336.0 941.8 1338.9 942.4 1341.7 943.1 1344.6 943.7 1347.4 944.4 1350.3 945.0 1353.2 945.6 1356.0 946.3 1358.9 946.9 1361.7 947.5 1364.6 948.1 1367.4 948.7 1370.3 949.3 1373.1 949.9 1376.0 950.5 1378.8 951.1 1381.7 951.7 1384.5 952.2 1387.4 952.8 1390.2 953.3 1393.1 953.8 1395.9 954.3 1398.8 954.9 1401.6 955.4 1404.5 955.8 1407.3 956.3 1410.2 956.8 1413.1 957.3 1415.9 957.7 1418.8 958.1 1421.6 958.6 1424.5 959.0 1427.3 959.4 1430.2 959.8 1433.0 960.2 1435.9 960.6 1438.7 960.9 1441.6 961.3 1444.4 961.6 1447.3 962.0 1450.1 962.3 1453.0 962.6 1455.8 962.9 1458.7 963.2 1461.5 963.5 1464.4 963.8 1467.3 964.0 1470.1 964.3 1473.0 964.6 1475.8 964.8 1478.7 965.0 1481.5 965.3 1484.4 965.5 1487.2 965.7 1490.1 965.9 1492.9 966.1 1495.8 966.3 1498.6 966.4 1501.5 966.6 1504.3 966.8 1507.2 966.9 1510.0 967.1 1512.9 967.2 1515.7 967.4 1518.6 967.5 1521.4 967.6 1524.3 967.8 1527.2 967.9 1530.0 968.0 1532.9 968.1 1535.7 968.2 1538.6 968.3 1541.4 968.4 1544.3 968.5 1547.1 968.6 1550.0 968.6 1552.8 968.7 1555.7 968.8 1558.5 968.9 1561.4 968.9 1564.2 969.0 1567.1 969.0 1569.9 969.1 1572.8 969.2 1575.6 969.2 1578.5 969.3 1581.4 969.3 1584.2 969.3 1587.1 969.4 1589.9 969.4 1592.8 969.5 1595.6 969.5 1598.5 969.5 1601.3 969.6 1604.2 969.6 1607.0 969.6 1609.9 969.6 1612.7 969.7 1615.6 969.7 1618.4 969.7 1621.3 969.7 1624.1 969.7 1627.0 969.8 1629.8 969.8 1632.7 969.8 1635.5 969.8 1638.4 969.8 1641.3 969.8 1644.1 969.8 1647.0 969.9 1649.8 969.9 1652.7 969.9 1655.5 969.9 1658.4 969.9 1661.2 969.9 1664.1 969.9 1666.9 969.9 1669.8 969.9 1672.6 969.9 1675.5 969.9 1678.3 969.9 1681.2 969.9" fill="none" stroke="#000" stroke-width="4.6" stroke-linejoin="round"/>
<polyline points="149.4 970.0 152.2 970.0 155.1 970.0 158.0 970.0 160.8 970.0 163.7 970.0 166.5 970.0 169.4 970.0 172.2 970.0 175.1 970.0 177.9 970.0 180.8 970.0 183.6 970.0 186.5 970.0 189.3 970.0 192.2 970.0 195.0 970.0 197.9 970.0 200.7 970.0 203.6 970.0 206.4 970.0 209.3 970.0 212.2 970.0 215.0 970.0 217.9 970.0 220.7 970.0 223.6 970.0 226.4 970.0 229.3 970.0 232.1 970.0 235.0 970.0 237.8 970.0 240.7 970.0 243.5 970.0 246.4 970.0 249.2 970.0 252.1 970.0 254.9 970.0 257.8 970.0 260.6 970.0 263.5 970.0 266.3 970.0 269.2 970.0 272.1 970.0 274.9 970.0 277.8 970.0 280.6 970.0 283.5 970.0 286.3 970.0 289.2 970.0 292.0 970.0 294.9 970.0 297.7 970.0 300.6 970.0 303.4 970.0 306.3 970.0 309.1 970.0 312.0 970.0 314.8 970.0 317.7 970.0 320.5 970.0 323.4 970.0 326.3 970.0 329.1 970.0 332.0 970.0 334.8 970.0 337.7 970.0 340.5 970.0 343.4 970.0 346.2 970.0 349.1 970.0 351.9 970.0 354.8 970.0 357.6 970.0 360.5 970.0 363.3 970.0 366.2 970.0 369.0 970.0 371.9 970.0 374.7 970.0 377.6 970.0 380.4 970.0 383.3 970.0 386.2 970.0 389.0 970.0 391.9 970.0 394.7 970.0 397.6 970.0 400.4 970.0 403.3 970.0 406.1 970.0 409.0 970.0 411.8 970.0 414.7 970.0 417.5 970.0 420.4 970.0 423.2 970.0 426.1 970.0 428.9 970.0 431.8 970.0 434.6 970.0 437.5 970.0 440.4 970.0 443.2 970.0 446.1 970.0 448.9 970.0 451.8 970.0 454.6 970.0 457.5 970.0 460.3 970.0 463.2 970.0 466.0 970.0 468.9 970.0 471.7 970.0 474.6 970.0 477.4 970.0 480.3 970.0 483.1 970.0 486.0 970.0 488.8 970.0 491.7 970.0 494.5 970.0 497.4 970.0 500.3 970.0 503.1 970.0 506.0 970.0 508.8 970.0 511.7 970.0 514.5 970.0 517.4 970.0 520.2 970.0 523.1 970.0 525.9 970.0 528.8 970.0 531.6 970.0 534.5 970.0 537.3 970.0 540.2 970.0 543.0 970.0 545.9 970.0 548.7 970.0 551.6 970.0 554.5 970.0 557.3 970.0 560.2 970.0 563.0 970.0 565.9 970.0 568.7 970.0 571.6 970.0 574.4 970.0 577.3 970.0 580.1 970.0 583.0 970.0 585.8 970.0 588.7 970.0 591.5 970.0 594.4 970.0 597.2 970.0 600.1 970.0 602.9 970.0 605.8 970.0 608.6 970.0 611.5 970.0 614.4 970.0 617.2 970.0 620.1 970.0 622.9 970.0 625.8 970.0 628.6 970.0 631.5 970.0 634.3 970.0 637.2 970.0 640.0 970.0 642.9 970.0 645.7 970.0 648.6 970.0 651.4 970.0 654.3 970.0 657.1 970.0 660.0 970.0 662.8 970.0 665.7 970.0 668.6 970.0 671.4 970.0 674.3 970.0 677.1 970.0 680.0 970.0 682.8 970.0 685.7 970.0 688.5 970.0 691.4 970.0 694.2 970.0 697.1 970.0 699.9 970.0 702.8 970.0 705.6 970.0 708.5 970.0 711.3 970.0 714.2 970.0 717.0 970.0 719.9 970.0 722.7 970.0 725.6 970.0 728.5 970.0 731.3 970.0 734.2 970.0 737.0 970.0 739.9 970.0 742.7 970.0 745.6 970.0 748.4 970.0 751.3 970.0 754.1 970.0 757.0 970.0 759.8 970.0 762.7 970.0 765.5 970.0 768.4 970.0 771.2 970.0 774.1 970.0 776.9 970.0 779.8 970.0 782.7 970.0 785.5 970.0 788.4 970.0 791.2 970.0 794.1 970.0 796.9 970.0 799.8 970.0 802.6 970.0 805.5 970.0 808.3 970.0 811.2 970.0 814.0 970.0 816.9 970.0 819.7 970.0 822.6 970.0 825.4 970.0 828.3 970.0 831.1 970.0 834.0 970.0 836.8 970.0 839.7 970.0 842.6 970.0 845.4 970.0 848.3 970.0 851.1 970.0 854.0 970.0 856.8 970.0 859.7 970.0 862.5 970.0 865.4 970.0 868.2 970.0 871.1 970.0 873.9 970.0 876.8 970.0 879.6 970.0 882.5 970.0 885.3 970.0 888.2 970.0 891.0 970.0 893.9 970.0 896.8 970.0 899.6 970.0 902.5 970.0 905.3 970.0 908.2 970.0 911.0 969.9 913.9 969.9 916.7 969.9 919.6 969.9 922.4 969.9 925.3 969.9 928.1 969.9 931.0 969.9 933.8 969.9 936.7 969.9 939.5 969.9 942.4 969.9 945.2 969.8 948.1 969.8 950.9 969.8 953.8 969.8 956.7 969.8 959.5 969.7 962.4 969.7 965.2 969.7 968.1 969.7 970.9 969.6 973.8 969.6 976.6 969.6 979.5 969.5 982.3 969.5 985.2 969.4 988.0 969.4 990.9 969.3 993.7 969.3 996.6 969.2 999.4 969.2 1002.3 969.1 1005.1 969.0 1008.0 968.9 1010.9 968.8 1013.7 968.7 1016.6 968.6 1019.4 968.5 1022.3 968.4 1025.1 968.3 1028.0 968.2 1030.8 968.0 1033.7 967.9 1036.5 967.7 1039.4 967.5 1042.2 967.3 1045.1 967.1 1047.9 966.9 1050.8 966.7 1053.6 966.5 1056.5 966.2 1059.3 965.9 1062.2 965.6 1065.0 965.3 1067.9 965.0 1070.8 964.7 1073.6 964.3 1076.5 963.9 1079.3 963.5 1082.2 963.1 1085.0 962.6 1087.9 962.1 1090.7 961.6 1093.6 961.1 1096.4 960.5 1099.3 960.0 1102.1 959.3 1105.0 958.7 1107.8 958.0 1110.7 957.3 1113.5 956.5 1116.4 955.7 1119.2 954.9 1122.1 954.0 1125.0 953.1 1127.8 952.2 1130.7 951.2 1133.5 950.2 1136.4 949.1 1139.2 948.0 1142.1 946.8 1144.9 945.6 1147.8 944.3 1150.6 943.0 1153.5 941.7 1156.3 940.2 1159.2 938.8 1162.0 937.3 1164.9 935.7 1167.7 934.1 1170.6 932.4 1173.4 930.7 1176.3 928.9 1179.1 927.1 1182.0 925.2 1184.9 923.2 1187.7 921.2 1190.6 919.2 1193.4 917.1 1196.3 914.9 1199.1 912.7 1202.0 910.4 1204.8 908.1 1207.7 905.7 1210.5 903.2 1213.4 900.8 1216.2 898.2 1219.1 895.6 1221.9 893.0 1224.8 890.3 1227.6 887.6 1230.5 884.9 1233.3 882.1 1236.2 879.2 1239.1 876.4 1241.9 873.5 1244.8 870.6 1247.6 867.6 1250.5 864.6 1253.3 861.6 1256.2 858.6 1259.0 855.5 1261.9 852.5 1264.7 849.4 1267.6 846.4 1270.4 843.3 1273.3 840.3 1276.1 837.2 1279.0 834.1 1281.8 831.1 1284.7 828.1 1287.5 825.1 1290.4 822.1 1293.2 819.2 1296.1 816.3 1299.0 813.4 1301.8 810.6 1304.7 807.8 1307.5 805.1 1310.4 802.4 1313.2 799.8 1316.1 797.3 1318.9 794.8 1321.8 792.4 1324.6 790.1 1327.5 787.8 1330.3 785.6 1333.2 783.5 1336.0 781.5 1338.9 779.6 1341.7 777.8 1344.6 776.1 1347.4 774.5 1350.3 773.0 1353.2 771.6 1356.0 770.3 1358.9 769.2 1361.7 768.1 1364.6 767.2 1367.4 766.4 1370.3 765.7 1373.1 765.1 1376.0 764.6 1378.8 764.3 1381.7 764.1 1384.5 764.0 1387.4 764.0 1390.2 764.2 1393.1 764.5 1395.9 764.9 1398.8 765.4 1401.6 766.1 1404.5 766.8 1407.3 767.7 1410.2 768.7 1413.1 769.9 1415.9 771.1 1418.8 772.5 1421.6 773.9 1424.5 775.5 1427.3 777.1 1430.2 778.9 1433.0 780.8 1435.9 782.7 1438.7 784.8 1441.6 786.9 1444.4 789.1 1447.3 791.4 1450.1 793.8 1453.0 796.3 1455.8 798.8 1458.7 801.4 1461.5 804.0 1464.4 806.7 1467.3 809.5 1470.1 812.3 1473.0 815.1 1475.8 818.0 1478.7 821.0 1481.5 823.9 1484.4 826.9 1487.2 829.9 1490.1 832.9 1492.9 836.0 1495.8 839.0 1498.6 842.1 1501.5 845.2 1504.3 848.2 1507.2 851.3 1510.0 854.3 1512.9 857.4 1515.7 860.4 1518.6 863.4 1521.4 866.4 1524.3 869.4 1527.2 872.3 1530.0 875.2 1532.9 878.1 1535.7 881.0 1538.6 883.8 1541.4 886.5 1544.3 889.3 1547.1 892.0 1550.0 894.6 1552.8 897.2 1555.7 899.8 1558.5 902.3 1561.4 904.7 1564.2 907.1 1567.1 909.5 1569.9 911.8 1572.8 914.0 1575.6 916.2 1578.5 918.3 1581.4 920.4 1584.2 922.4 1587.1 924.4 1589.9 926.3 1592.8 928.2 1595.6 930.0 1598.5 931.7 1601.3 933.4 1604.2 935.1 1607.0 936.7 1609.9 938.2 1612.7 939.7 1615.6 941.1 1618.4 942.5 1621.3 943.8 1624.1 945.1 1627.0 946.3 1629.8 947.5 1632.7 948.6 1635.5 949.7 1638.4 950.8 1641.3 951.8 1644.1 952.8 1647.0 953.7 1649.8 954.6 1652.7 955.4 1655.5 956.2 1658.4 957.0 1661.2 957.7 1664.1 958.4 1666.9 959.1 1669.8 959.7 1672.6 960.3 1675.5 960.9 1678.3 961.4 1681.2 961.9" fill="none" stroke="#000" stroke-width="4.6" stroke-linejoin="round"/>
<polyline points="149.4 967.6 152.2 967.4 155.1 967.3 158.0 967.2 160.8 967.1 163.7 966.9 166.5 966.8 169.4 966.6 172.2 966.5 175.1 966.3 177.9 966.1 180.8 966.0 183.6 965.8 186.5 965.6 189.3 965.4 192.2 965.2 195.0 965.0 197.9 964.8 200.7 964.6 203.6 964.4 206.4 964.1 209.3 963.9 212.2 963.6 215.0 963.4 217.9 963.1 220.7 962.8 223.6 962.6 226.4 962.3 229.3 962.0 232.1 961.7 235.0 961.3 237.8 961.0 240.7 960.7 243.5 960.3 246.4 960.0 249.2 959.6 252.1 959.2 254.9 958.8 257.8 958.5 260.6 958.0 263.5 957.6 266.3 957.2 269.2 956.8 272.1 956.3 274.9 955.9 277.8 955.4 280.6 954.9 283.5 954.4 286.3 953.9 289.2 953.4 292.0 952.9 294.9 952.3 297.7 951.8 300.6 951.2 303.4 950.7 306.3 950.1 309.1 949.5 312.0 948.9 314.8 948.3 317.7 947.6 320.5 947.0 323.4 946.4 326.3 945.7 329.1 945.0 332.0 944.4 334.8 943.7 337.7 943.0 340.5 942.3 343.4 941.6 346.2 940.8 349.1 940.1 351.9 939.3 354.8 938.6 357.6 937.8 360.5 937.0 363.3 936.3 366.2 935.5 369.0 934.7 371.9 933.9 374.7 933.0 377.6 932.2 380.4 931.4 383.3 930.5 386.2 929.7 389.0 928.8 391.9 928.0 394.7 927.1 397.6 926.2 400.4 925.4 403.3 924.5 406.1 923.6 409.0 922.7 411.8 921.8 414.7 920.9 417.5 919.9 420.4 919.0 423.2 918.1 426.1 917.1 428.9 916.2 431.8 915.2 434.6 914.3 437.5 913.3 440.4 912.3 443.2 911.4 446.1 910.4 448.9 909.4 451.8 908.4 454.6 907.4 457.5 906.3 460.3 905.3 463.2 904.2 466.0 903.2 468.9 902.1 471.7 901.0 474.6 899.9 477.4 898.8 480.3 897.7 483.1 896.5 486.0 895.3 488.8 894.1 491.7 892.9 494.5 891.7 497.4 890.4 500.3 889.1 503.1 887.8 506.0 886.4 508.8 885.1 511.7 883.6 514.5 882.2 517.4 880.7 520.2 879.1 523.1 877.6 525.9 875.9 528.8 874.3 531.6 872.5 534.5 870.8 537.3 868.9 540.2 867.0 543.0 865.1 545.9 863.1 548.7 861.0 551.6 858.9 554.5 856.7 557.3 854.4 560.2 852.1 563.0 849.6 565.9 847.1 568.7 844.5 571.6 841.9 574.4 839.1 577.3 836.3 580.1 833.4 583.0 830.4 585.8 827.3 588.7 824.1 591.5 820.8 594.4 817.4 597.2 814.0 600.1 810.4 602.9 806.8 605.8 803.1 608.6 799.2 611.5 795.3 614.4 791.3 617.2 787.2 620.1 783.0 622.9 778.7 625.8 774.4 628.6 770.0 631.5 765.5 634.3 760.9 637.2 756.2 640.0 751.5 642.9 746.7 645.7 741.9 648.6 737.0 651.4 732.0 654.3 727.1 657.1 722.1 660.0 717.0 662.8 711.9 665.7 706.9 668.6 701.8 671.4 696.7 674.3 691.6 677.1 686.5 680.0 681.4 682.8 676.4 685.7 671.4 688.5 666.5 691.4 661.6 694.2 656.8 697.1 652.0 699.9 647.4 702.8 642.8 705.6 638.3 708.5 634.0 711.3 629.7 714.2 625.6 717.0 621.6 719.9 617.8 722.7 614.1 725.6 610.6 728.5 607.3 731.3 604.1 734.2 601.1 737.0 598.3 739.9 595.7 742.7 593.3 745.6 591.1 748.4 589.2 751.3 587.4 754.1 585.9 757.0 584.6 759.8 583.6 762.7 582.8 765.5 582.2 768.4 581.9 771.2 581.8 774.1 581.9 776.9 582.4 779.8 583.0 782.7 583.9 785.5 585.0 788.4 586.3 791.2 587.8 794.1 589.5 796.9 591.5 799.8 593.6 802.6 596.0 805.5 598.5 808.3 601.3 811.2 604.2 814.0 607.3 816.9 610.6 819.7 614.1 822.6 617.8 825.4 621.6 828.3 625.6 831.1 629.7 834.0 633.9 836.8 638.3 839.7 642.8 842.6 647.5 845.4 652.3 848.3 657.1 851.1 662.1 854.0 667.1 856.8 672.3 859.7 677.5 862.5 682.7 865.4 688.1 868.2 693.4 871.1 698.8 873.9 704.3 876.8 709.8 879.6 715.3 882.5 720.8 885.3 726.3 888.2 731.8 891.0 737.2 893.9 742.7 896.8 748.1 899.6 753.6 902.5 758.9 905.3 764.2 908.2 769.5 911.0 774.7 913.9 779.9 916.7 784.9 919.6 790.0 922.4 794.9 925.3 799.7 928.1 804.5 931.0 809.2 933.8 813.8 936.7 818.2 939.5 822.6 942.4 826.9 945.2 831.1 948.1 835.2 950.9 839.1 953.8 843.0 956.7 846.8 959.5 850.4 962.4 853.9 965.2 857.3 968.1 860.6 970.9 863.8 973.8 866.9 976.6 869.8 979.5 872.7 982.3 875.4 985.2 878.0 988.0 880.5 990.9 882.9 993.7 885.2 996.6 887.4 999.4 889.5 1002.3 891.4 1005.1 893.3 1008.0 895.1 1010.9 896.7 1013.7 898.3 1016.6 899.8 1019.4 901.2 1022.3 902.5 1025.1 903.7 1028.0 904.8 1030.8 905.8 1033.7 906.7 1036.5 907.6 1039.4 908.4 1042.2 909.1 1045.1 909.7 1047.9 910.3 1050.8 910.7 1053.6 911.2 1056.5 911.5 1059.3 911.8 1062.2 912.0 1065.0 912.1 1067.9 912.2 1070.8 912.2 1073.6 912.2 1076.5 912.1 1079.3 911.9 1082.2 911.7 1085.0 911.5 1087.9 911.2 1090.7 910.8 1093.6 910.4 1096.4 909.9 1099.3 909.4 1102.1 908.8 1105.0 908.2 1107.8 907.5 1110.7 906.8 1113.5 906.1 1116.4 905.2 1119.2 904.4 1122.1 903.5 1125.0 902.5 1127.8 901.5 1130.7 900.5 1133.5 899.4 1136.4 898.3 1139.2 897.1 1142.1 895.9 1144.9 894.6 1147.8 893.3 1150.6 891.9 1153.5 890.5 1156.3 889.0 1159.2 887.5 1162.0 885.9 1164.9 884.3 1167.7 882.7 1170.6 881.0 1173.4 879.2 1176.3 877.4 1179.1 875.6 1182.0 873.7 1184.9 871.8 1187.7 869.8 1190.6 867.8 1193.4 865.7 1196.3 863.6 1199.1 861.4 1202.0 859.3 1204.8 857.1 1207.7 854.8 1210.5 852.6 1213.4 850.3 1216.2 847.9 1219.1 845.6 1221.9 843.2 1224.8 840.8 1227.6 838.4 1230.5 835.9 1233.3 833.5 1236.2 831.0 1239.1 828.5 1241.9 826.0 1244.8 823.5 1247.6 820.9 1250.5 818.4 1253.3 815.8 1256.2 813.3 1259.0 810.7 1261.9 808.2 1264.7 805.6 1267.6 803.1 1270.4 800.6 1273.3 798.1 1276.1 795.6 1279.0 793.1 1281.8 790.6 1284.7 788.2 1287.5 785.8 1290.4 783.5 1293.2 781.2 1296.1 778.9 1299.0 776.7 1301.8 774.5 1304.7 772.3 1307.5 770.3 1310.4 768.3 1313.2 766.3 1316.1 764.4 1318.9 762.6 1321.8 760.8 1324.6 759.2 1327.5 757.6 1330.3 756.1 1333.2 754.6 1336.0 753.3 1338.9 752.1 1341.7 750.9 1344.6 749.8 1347.4 748.9 1350.3 748.0 1353.2 747.3 1356.0 746.6 1358.9 746.1 1361.7 745.6 1364.6 745.3 1367.4 745.1 1370.3 745.0 1373.1 745.0 1376.0 745.1 1378.8 745.4 1381.7 745.7 1384.5 746.2 1387.4 746.8 1390.2 747.5 1393.1 748.3 1395.9 749.2 1398.8 750.3 1401.6 751.4 1404.5 752.7 1407.3 754.1 1410.2 755.5 1413.1 757.1 1415.9 758.8 1418.8 760.6 1421.6 762.5 1424.5 764.5 1427.3 766.5 1430.2 768.7 1433.0 771.0 1435.9 773.3 1438.7 775.7 1441.6 778.2 1444.4 780.8 1447.3 783.4 1450.1 786.1 1453.0 788.9 1455.8 791.7 1458.7 794.6 1461.5 797.5 1464.4 800.5 1467.3 803.5 1470.1 806.6 1473.0 809.7 1475.8 812.8 1478.7 816.0 1481.5 819.2 1484.4 822.4 1487.2 825.6 1490.1 828.8 1492.9 832.1 1495.8 835.3 1498.6 838.5 1501.5 841.8 1504.3 845.0 1507.2 848.2 1510.0 851.4 1512.9 854.6 1515.7 857.8 1518.6 860.9 1521.4 864.0 1524.3 867.1 1527.2 870.2 1530.0 873.2 1532.9 876.2 1535.7 879.2 1538.6 882.1 1541.4 884.9 1544.3 887.7 1547.1 890.5 1550.0 893.2 1552.8 895.9 1555.7 898.5 1558.5 901.1 1561.4 903.6 1564.2 906.1 1567.1 908.5 1569.9 910.9 1572.8 913.2 1575.6 915.4 1578.5 917.6 1581.4 919.7 1584.2 921.8 1587.1 923.8 1589.9 925.7 1592.8 927.6 1595.6 929.5 1598.5 931.3 1601.3 933.0 1604.2 934.6 1607.0 936.3 1609.9 937.8 1612.7 939.3 1615.6 940.8 1618.4 942.2 1621.3 943.5 1624.1 944.8 1627.0 946.1 1629.8 947.3 1632.7 948.4 1635.5 949.5 1638.4 950.6 1641.3 951.6 1644.1 952.6 1647.0 953.5 1649.8 954.4 1652.7 955.3 1655.5 956.1 1658.4 956.9 1661.2 957.6 1664.1 958.3 1666.9 959.0 1669.8 959.6 1672.6 960.2 1675.5 960.8 1678.3 961.4 1681.2 961.9" fill="none" stroke="#000" stroke-width="5" stroke-linejoin="round"/>
<polyline points="149.4 961.6 155.1 969.8 160.8 958.4 166.5 961.6 172.2 958.3 177.9 950.7 183.6 961.2 189.3 966.5 195.0 957.5 200.7 961.7 206.4 959.5 212.2 960.2 217.9 958.6 223.6 966.3 229.3 950.9 235.0 952.2 240.7 950.0 246.4 945.7 252.1 953.1 257.8 960.0 263.5 955.4 269.2 955.8 274.9 952.0 280.6 948.6 286.3 956.3 292.0 945.4 297.7 952.1 303.4 943.4 309.1 943.9 314.8 943.6 320.5 936.3 326.3 936.2 332.0 940.9 337.7 944.0 343.4 935.7 349.1 926.3 354.8 924.3 360.5 925.5 366.2 926.5 371.9 930.7 377.6 920.2 383.3 921.9 389.0 923.1 394.7 922.3 400.4 895.9 406.1 919.4 411.8 916.1 417.5 918.5 423.2 892.6 428.9 900.6 434.6 908.6 440.4 907.3 446.1 902.1 451.8 899.4 457.5 905.0 463.2 899.1 468.9 892.3 474.6 892.8 480.3 889.5 486.0 870.0 491.7 889.8 497.4 884.1 503.1 895.0 508.8 872.8 514.5 884.4 520.2 876.0 525.9 872.2 531.6 863.8 537.3 860.4 543.0 853.2 548.7 861.6 554.5 829.3 560.2 847.3 565.9 843.9 571.6 833.6 577.3 834.2 583.0 833.1 588.7 819.6 594.4 817.7 600.1 807.2 605.8 795.5 611.5 776.3 617.2 774.5 622.9 773.6 628.6 770.4 634.3 737.6 640.0 749.4 645.7 770.4 651.4 724.2 657.1 718.8 662.8 714.2 668.6 668.2 674.3 686.0 680.0 673.9 685.7 653.5 691.4 668.2 697.1 645.9 702.8 631.6 708.5 624.8 714.2 618.0 719.9 610.1 725.6 613.7 731.3 601.8 737.0 596.4 742.7 589.4 748.4 591.9 754.1 576.0 759.8 580.1 765.5 569.3 771.2 586.0 776.9 580.5 782.7 581.3 788.4 586.3 794.1 586.1 799.8 593.3 805.5 593.2 811.2 604.3 816.9 607.8 822.6 610.7 828.3 611.7 834.0 604.7 839.7 641.8 845.4 656.8 851.1 622.7 856.8 674.1 862.5 681.8 868.2 690.6 873.9 705.4 879.6 719.1 885.3 725.3 891.0 743.1 896.8 746.0 902.5 757.7 908.2 765.9 913.9 778.3 919.6 794.4 925.3 798.7 931.0 802.8 936.7 812.9 942.4 830.9 948.1 835.9 953.8 837.4 959.5 849.8 965.2 859.2 970.9 864.2 976.6 860.7 982.3 853.8 988.0 872.7 993.7 884.2 999.4 882.5 1005.1 892.8 1010.9 892.3 1016.6 886.3 1022.3 896.2 1028.0 893.6 1033.7 904.1 1039.4 894.4 1045.1 901.6 1050.8 910.3 1056.5 915.8 1062.2 918.7 1067.9 909.1 1073.6 908.7 1079.3 903.4 1085.0 902.9 1090.7 904.4 1096.4 911.5 1102.1 902.2 1107.8 895.7 1113.5 899.8 1119.2 900.3 1125.0 898.9 1130.7 890.0 1136.4 899.2 1142.1 892.6 1147.8 888.3 1153.5 884.3 1159.2 886.3 1164.9 880.0 1170.6 867.9 1176.3 872.3 1182.0 871.3 1187.7 871.6 1193.4 862.8 1199.1 854.8 1204.8 858.1 1210.5 850.6 1216.2 842.2 1221.9 844.7 1227.6 834.6 1233.3 834.9 1239.1 820.7 1244.8 810.7 1250.5 806.9 1256.2 803.4 1261.9 798.8 1267.6 799.6 1273.3 794.6 1279.0 783.6 1284.7 790.8 1290.4 776.1 1296.1 776.1 1301.8 770.5 1307.5 766.5 1313.2 766.9 1318.9 758.4 1324.6 753.1 1330.3 752.9 1336.0 748.3 1341.7 750.1 1347.4 754.9 1353.2 743.5 1358.9 740.1 1364.6 753.5 1370.3 741.7 1376.0 725.6 1381.7 744.7 1387.4 731.8 1393.1 727.8 1398.8 742.3 1404.5 757.8 1410.2 747.5 1415.9 758.5 1421.6 764.1 1427.3 758.2 1433.0 768.4 1438.7 778.2 1444.4 779.3 1450.1 779.2 1455.8 783.7 1461.5 796.3 1467.3 798.8 1473.0 803.7 1478.7 815.7 1484.4 812.6 1490.1 825.9 1495.8 834.5 1501.5 840.8 1507.2 844.9 1512.9 851.5 1518.6 860.3 1524.3 865.9 1530.0 881.3 1535.7 858.0 1541.4 878.2 1547.1 882.5 1552.8 881.8 1558.5 888.6 1564.2 906.6 1569.9 913.4 1575.6 913.7 1581.4 908.9 1587.1 922.1 1592.8 932.8 1598.5 932.3 1604.2 913.2 1609.9 931.5 1615.6 934.7 1621.3 940.8 1627.0 941.2 1632.7 942.7 1638.4 947.9 1644.1 945.3 1649.8 956.2 1655.5 950.4 1661.2 959.0 1666.9 952.0 1672.6 958.2 1678.3 962.1" fill="none" stroke="#000" stroke-width="4.6" stroke-linejoin="round"/>
<line x1="129.5" y1="1536" x2="129.5" y2="2393.5" stroke="#000" stroke-width="4"/>
<line x1="127.5" y1="1965" x2="1957.1" y2="1965" stroke="#000" stroke-width="4"/>
<line x1="130.0" y1="1965" x2="130.0" y2="1991" stroke="#000" stroke-width="3.4"/>
<line x1="244.1" y1="1965" x2="244.1" y2="1979" stroke="#000" stroke-width="3.4"/>
<line x1="358.2" y1="1965" x2="358.2" y2="1991" stroke="#000" stroke-width="3.4"/>
<line x1="472.3" y1="1965" x2="472.3" y2="1979" stroke="#000" stroke-width="3.4"/>
<line x1="586.4" y1="1965" x2="586.4" y2="1991" stroke="#000" stroke-width="3.4"/>
<line x1="700.5" y1="1965" x2="700.5" y2="1979" stroke="#000" stroke-width="3.4"/>
<line x1="814.6" y1="1965" x2="814.6" y2="1991" stroke="#000" stroke-width="3.4"/>
<line x1="928.7" y1="1965" x2="928.7" y2="1979" stroke="#000" stroke-width="3.4"/>
<line x1="1042.8" y1="1965" x2="1042.8" y2="1991" stroke="#000" stroke-width="3.4"/>
<line x1="1156.9" y1="1965" x2="1156.9" y2="1979" stroke="#000" stroke-width="3.4"/>
<line x1="1271.0" y1="1965" x2="1271.0" y2="1991" stroke="#000" stroke-width="3.4"/>
<line x1="1385.1" y1="1965" x2="1385.1" y2="1979" stroke="#000" stroke-width="3.4"/>
<line x1="1499.2" y1="1965" x2="1499.2" y2="1991" stroke="#000" stroke-width="3.4"/>
<line x1="1613.3" y1="1965" x2="1613.3" y2="1979" stroke="#000" stroke-width="3.4"/>
<line x1="1727.4" y1="1965" x2="1727.4" y2="1991" stroke="#000" stroke-width="3.4"/>
<line x1="1841.5" y1="1965" x2="1841.5" y2="1979" stroke="#000" stroke-width="3.4"/>
<line x1="1955.6" y1="1965" x2="1955.6" y2="1991" stroke="#000" stroke-width="3.4"/>
<line x1="127.5" y1="2391.5" x2="1957.1" y2="2391.5" stroke="#000" stroke-width="4"/>
<line x1="130.0" y1="2391.5" x2="130.0" y2="2417.5" stroke="#000" stroke-width="3.4"/>
<line x1="244.1" y1="2391.5" x2="244.1" y2="2405.5" stroke="#000" stroke-width="3.4"/>
<line x1="358.2" y1="2391.5" x2="358.2" y2="2417.5" stroke="#000" stroke-width="3.4"/>
<line x1="472.3" y1="2391.5" x2="472.3" y2="2405.5" stroke="#000" stroke-width="3.4"/>
<line x1="586.4" y1="2391.5" x2="586.4" y2="2417.5" stroke="#000" stroke-width="3.4"/>
<line x1="700.5" y1="2391.5" x2="700.5" y2="2405.5" stroke="#000" stroke-width="3.4"/>
<line x1="814.6" y1="2391.5" x2="814.6" y2="2417.5" stroke="#000" stroke-width="3.4"/>
<line x1="928.7" y1="2391.5" x2="928.7" y2="2405.5" stroke="#000" stroke-width="3.4"/>
<line x1="1042.8" y1="2391.5" x2="1042.8" y2="2417.5" stroke="#000" stroke-width="3.4"/>
<line x1="1156.9" y1="2391.5" x2="1156.9" y2="2405.5" stroke="#000" stroke-width="3.4"/>
<line x1="1271.0" y1="2391.5" x2="1271.0" y2="2417.5" stroke="#000" stroke-width="3.4"/>
<line x1="1385.1" y1="2391.5" x2="1385.1" y2="2405.5" stroke="#000" stroke-width="3.4"/>
<line x1="1499.2" y1="2391.5" x2="1499.2" y2="2417.5" stroke="#000" stroke-width="3.4"/>
<line x1="1613.3" y1="2391.5" x2="1613.3" y2="2405.5" stroke="#000" stroke-width="3.4"/>
<line x1="1727.4" y1="2391.5" x2="1727.4" y2="2417.5" stroke="#000" stroke-width="3.4"/>
<line x1="1841.5" y1="2391.5" x2="1841.5" y2="2405.5" stroke="#000" stroke-width="3.4"/>
<line x1="1955.6" y1="2391.5" x2="1955.6" y2="2417.5" stroke="#000" stroke-width="3.4"/>
<line x1="322.8" y1="1958" x2="1708.0" y2="1958" stroke="#000" stroke-width="10"/>
<polyline points="322.8 1959.4 325.7 1959.4 328.5 1959.4 331.4 1959.4 334.2 1959.4 337.1 1959.4 339.9 1959.3 342.8 1959.3 345.6 1959.3 348.5 1959.3 351.4 1959.3 354.2 1959.2 357.1 1959.2 359.9 1959.2 362.8 1959.1 365.6 1959.1 368.5 1959.1 371.3 1959.0 374.2 1959.0 377.0 1958.9 379.9 1958.8 382.7 1958.8 385.6 1958.7 388.4 1958.6 391.3 1958.5 394.1 1958.5 397.0 1958.4 399.8 1958.2 402.7 1958.1 405.6 1958.0 408.4 1957.9 411.3 1957.7 414.1 1957.5 417.0 1957.4 419.8 1957.2 422.7 1957.0 425.5 1956.7 428.4 1956.5 431.2 1956.3 434.1 1956.0 436.9 1955.7 439.8 1955.4 442.6 1955.0 445.5 1954.6 448.3 1954.2 451.2 1953.8 454.0 1953.4 456.9 1952.9 459.7 1952.3 462.6 1951.8 465.5 1951.2 468.3 1950.6 471.2 1949.9 474.0 1949.2 476.9 1948.4 479.7 1947.6 482.6 1946.7 485.4 1945.8 488.3 1944.8 491.1 1943.8 494.0 1942.7 496.8 1941.6 499.7 1940.4 502.5 1939.1 505.4 1937.7 508.2 1936.3 511.1 1934.8 513.9 1933.2 516.8 1931.5 519.7 1929.8 522.5 1928.0 525.4 1926.0 528.2 1924.0 531.1 1921.9 533.9 1919.7 536.8 1917.4 539.6 1915.0 542.5 1912.5 545.3 1909.9 548.2 1907.1 551.0 1904.3 553.9 1901.3 556.7 1898.3 559.6 1895.1 562.4 1891.8 565.3 1888.4 568.1 1884.9 571.0 1881.2 573.8 1877.4 576.7 1873.5 579.6 1869.5 582.4 1865.4 585.3 1861.1 588.1 1856.8 591.0 1852.3 593.8 1847.7 596.7 1843.0 599.5 1838.1 602.4 1833.2 605.2 1828.2 608.1 1823.0 610.9 1817.8 613.8 1812.4 616.6 1807.0 619.5 1801.4 622.3 1795.8 625.2 1790.1 628.0 1784.4 630.9 1778.6 633.8 1772.7 636.6 1766.7 639.5 1760.8 642.3 1754.7 645.2 1748.7 648.0 1742.6 650.9 1736.5 653.7 1730.4 656.6 1724.3 659.4 1718.2 662.3 1712.1 665.1 1706.1 668.0 1700.1 670.8 1694.1 673.7 1688.2 676.5 1682.4 679.4 1676.7 682.2 1671.0 685.1 1665.4 687.9 1660.0 690.8 1654.6 693.7 1649.4 696.5 1644.3 699.4 1639.4 702.2 1634.6 705.1 1630.0 707.9 1625.5 710.8 1621.3 713.6 1617.2 716.5 1613.4 719.3 1609.7 722.2 1606.2 725.0 1603.0 727.9 1600.0 730.7 1597.2 733.6 1594.7 736.4 1592.4 739.3 1590.4 742.1 1588.6 745.0 1587.1 747.9 1585.9 750.7 1584.9 753.6 1584.2 756.4 1583.7 759.3 1583.5 762.1 1583.6 765.0 1583.9 767.8 1584.4 770.7 1585.2 773.5 1586.3 776.4 1587.5 779.2 1589.0 782.1 1590.7 784.9 1592.7 787.8 1594.9 790.6 1597.2 793.5 1599.8 796.3 1602.7 799.2 1605.7 802.0 1608.9 804.9 1612.3 807.8 1615.9 810.6 1619.7 813.5 1623.6 816.3 1627.7 819.2 1632.0 822.0 1636.4 824.9 1641.0 827.7 1645.7 830.6 1650.5 833.4 1655.5 836.3 1660.5 839.1 1665.7 842.0 1671.0 844.8 1676.3 847.7 1681.7 850.5 1687.2 853.4 1692.8 856.2 1698.4 859.1 1704.0 862.0 1709.7 864.8 1715.5 867.7 1721.2 870.5 1727.0 873.4 1732.7 876.2 1738.5 879.1 1744.2 881.9 1750.0 884.8 1755.7 887.6 1761.4 890.5 1767.0 893.3 1772.6 896.2 1778.2 899.0 1783.7 901.9 1789.1 904.7 1794.5 907.6 1799.8 910.4 1805.1 913.3 1810.2 916.1 1815.3 919.0 1820.3 921.9 1825.2 924.7 1830.1 927.6 1834.8 930.4 1839.4 933.3 1844.0 936.1 1848.4 939.0 1852.7 941.8 1856.9 944.7 1861.1 947.5 1865.1 950.4 1869.0 953.2 1872.8 956.1 1876.5 958.9 1880.1 961.8 1883.6 964.6 1887.0 967.5 1890.2 970.3 1893.4 973.2 1896.5 976.1 1899.4 978.9 1902.3 981.8 1905.0 984.6 1907.7 987.5 1910.2 990.3 1912.7 993.2 1915.1 996.0 1917.3 998.9 1919.5 1001.7 1921.6 1004.6 1923.6 1007.4 1925.6 1010.3 1927.4 1013.1 1929.2 1016.0 1930.8 1018.8 1932.4 1021.7 1934.0 1024.5 1935.4 1027.4 1936.8 1030.2 1938.2 1033.1 1939.4 1036.0 1940.6 1038.8 1941.7 1041.7 1942.8 1044.5 1943.9 1047.4 1944.8 1050.2 1945.7 1053.1 1946.6 1055.9 1947.4 1058.8 1948.2 1061.6 1948.9 1064.5 1949.6 1067.3 1950.3 1070.2 1950.9 1073.0 1951.5 1075.9 1952.0 1078.7 1952.5 1081.6 1953.0 1084.4 1953.5 1087.3 1953.9 1090.2 1954.3 1093.0 1954.7 1095.9 1955.0 1098.7 1955.3 1101.6 1955.6 1104.4 1955.9 1107.3 1956.2 1110.1 1956.4 1113.0 1956.7 1115.8 1956.9 1118.7 1957.1 1121.5 1957.3 1124.4 1957.5 1127.2 1957.6 1130.1 1957.8 1132.9 1957.9 1135.8 1958.0 1138.6 1958.1 1141.5 1958.3 1144.3 1958.4 1147.2 1958.5 1150.1 1958.5 1152.9 1958.6 1155.8 1958.7 1158.6 1958.8 1161.5 1958.8 1164.3 1958.9 1167.2 1958.9 1170.0 1959.0 1172.9 1959.0 1175.7 1959.1 1178.6 1959.1 1181.4 1959.1 1184.3 1959.2 1187.1 1959.2 1190.0 1959.2 1192.8 1959.3 1195.7 1959.3 1198.5 1959.3 1201.4 1959.3 1204.3 1959.3 1207.1 1959.4 1210.0 1959.4 1212.8 1959.4 1215.7 1959.4 1218.5 1959.4 1221.4 1959.4 1224.2 1959.4 1227.1 1959.4 1229.9 1959.4 1232.8 1959.4 1235.6 1959.4 1238.5 1959.5 1241.3 1959.5 1244.2 1959.5 1247.0 1959.5 1249.9 1959.5 1252.7 1959.5 1255.6 1959.5 1258.4 1959.5 1261.3 1959.5 1264.2 1959.5 1267.0 1959.5 1269.9 1959.5 1272.7 1959.5 1275.6 1959.5 1278.4 1959.5 1281.3 1959.5 1284.1 1959.5 1287.0 1959.5 1289.8 1959.5 1292.7 1959.5 1295.5 1959.5 1298.4 1959.5 1301.2 1959.5 1304.1 1959.5 1306.9 1959.5 1309.8 1959.5 1312.6 1959.5 1315.5 1959.5 1318.4 1959.5 1321.2 1959.5 1324.1 1959.5 1326.9 1959.5 1329.8 1959.5 1332.6 1959.5 1335.5 1959.5 1338.3 1959.5 1341.2 1959.5 1344.0 1959.5 1346.9 1959.5 1349.7 1959.5 1352.6 1959.5 1355.4 1959.5 1358.3 1959.5 1361.1 1959.5 1364.0 1959.5 1366.8 1959.5 1369.7 1959.5 1372.5 1959.5 1375.4 1959.5 1378.3 1959.5 1381.1 1959.5 1384.0 1959.5 1386.8 1959.5 1389.7 1959.5 1392.5 1959.5 1395.4 1959.5 1398.2 1959.5 1401.1 1959.5 1403.9 1959.5 1406.8 1959.5 1409.6 1959.5 1412.5 1959.5 1415.3 1959.5 1418.2 1959.5 1421.0 1959.5 1423.9 1959.5 1426.7 1959.5 1429.6 1959.5 1432.5 1959.5 1435.3 1959.5 1438.2 1959.5 1441.0 1959.5 1443.9 1959.5 1446.7 1959.5 1449.6 1959.5 1452.4 1959.5 1455.3 1959.5 1458.1 1959.5 1461.0 1959.5 1463.8 1959.5 1466.7 1959.5 1469.5 1959.5 1472.4 1959.5 1475.2 1959.5 1478.1 1959.5 1480.9 1959.5 1483.8 1959.5 1486.6 1959.5 1489.5 1959.5 1492.4 1959.5 1495.2 1959.5 1498.1 1959.5 1500.9 1959.5 1503.8 1959.5 1506.6 1959.5 1509.5 1959.5 1512.3 1959.5 1515.2 1959.5 1518.0 1959.5 1520.9 1959.5 1523.7 1959.5 1526.6 1959.5 1529.4 1959.5 1532.3 1959.5 1535.1 1959.5 1538.0 1959.5 1540.8 1959.5 1543.7 1959.5 1546.6 1959.5 1549.4 1959.5 1552.3 1959.5 1555.1 1959.5 1558.0 1959.5 1560.8 1959.5 1563.7 1959.5 1566.5 1959.5 1569.4 1959.5 1572.2 1959.5 1575.1 1959.5 1577.9 1959.5 1580.8 1959.5 1583.6 1959.5 1586.5 1959.5 1589.3 1959.5 1592.2 1959.5 1595.0 1959.5 1597.9 1959.5 1600.7 1959.5 1603.6 1959.5 1606.5 1959.5 1609.3 1959.5 1612.2 1959.5 1615.0 1959.5 1617.9 1959.5 1620.7 1959.5 1623.6 1959.5 1626.4 1959.5 1629.3 1959.5 1632.1 1959.5 1635.0 1959.5 1637.8 1959.5 1640.7 1959.5 1643.5 1959.5 1646.4 1959.5 1649.2 1959.5 1652.1 1959.5 1654.9 1959.5 1657.8 1959.5 1660.7 1959.5 1663.5 1959.5 1666.4 1959.5 1669.2 1959.5 1672.1 1959.5 1674.9 1959.5 1677.8 1959.5 1680.6 1959.5 1683.5 1959.5 1686.3 1959.5 1689.2 1959.5 1692.0 1959.5 1694.9 1959.5 1697.7 1959.5 1700.6 1959.5 1703.4 1959.5 1706.3 1959.5" fill="none" stroke="#000" stroke-width="4.6" stroke-linejoin="round"/>
<polyline points="322.8 1959.5 325.7 1959.5 328.5 1959.5 331.4 1959.5 334.2 1959.5 337.1 1959.5 339.9 1959.5 342.8 1959.5 345.6 1959.5 348.5 1959.5 351.4 1959.5 354.2 1959.5 357.1 1959.5 359.9 1959.5 362.8 1959.5 365.6 1959.5 368.5 1959.5 371.3 1959.5 374.2 1959.5 377.0 1959.5 379.9 1959.5 382.7 1959.5 385.6 1959.5 388.4 1959.5 391.3 1959.5 394.1 1959.5 397.0 1959.5 399.8 1959.5 402.7 1959.5 405.6 1959.5 408.4 1959.5 411.3 1959.5 414.1 1959.5 417.0 1959.5 419.8 1959.5 422.7 1959.5 425.5 1959.5 428.4 1959.5 431.2 1959.5 434.1 1959.5 436.9 1959.5 439.8 1959.5 442.6 1959.5 445.5 1959.5 448.3 1959.5 451.2 1959.5 454.0 1959.5 456.9 1959.5 459.7 1959.5 462.6 1959.5 465.5 1959.5 468.3 1959.5 471.2 1959.5 474.0 1959.5 476.9 1959.5 479.7 1959.5 482.6 1959.5 485.4 1959.5 488.3 1959.5 491.1 1959.5 494.0 1959.5 496.8 1959.5 499.7 1959.5 502.5 1959.5 505.4 1959.5 508.2 1959.5 511.1 1959.5 513.9 1959.5 516.8 1959.5 519.7 1959.5 522.5 1959.5 525.4 1959.5 528.2 1959.5 531.1 1959.5 533.9 1959.5 536.8 1959.5 539.6 1959.5 542.5 1959.5 545.3 1959.5 548.2 1959.5 551.0 1959.5 553.9 1959.5 556.7 1959.5 559.6 1959.5 562.4 1959.5 565.3 1959.5 568.1 1959.5 571.0 1959.5 573.8 1959.5 576.7 1959.5 579.6 1959.5 582.4 1959.5 585.3 1959.5 588.1 1959.5 591.0 1959.5 593.8 1959.5 596.7 1959.5 599.5 1959.5 602.4 1959.5 605.2 1959.5 608.1 1959.5 610.9 1959.5 613.8 1959.5 616.6 1959.5 619.5 1959.5 622.3 1959.5 625.2 1959.5 628.0 1959.5 630.9 1959.5 633.8 1959.5 636.6 1959.5 639.5 1959.5 642.3 1959.5 645.2 1959.5 648.0 1959.5 650.9 1959.5 653.7 1959.5 656.6 1959.5 659.4 1959.5 662.3 1959.5 665.1 1959.5 668.0 1959.5 670.8 1959.5 673.7 1959.5 676.5 1959.5 679.4 1959.5 682.2 1959.5 685.1 1959.5 687.9 1959.5 690.8 1959.5 693.7 1959.5 696.5 1959.5 699.4 1959.5 702.2 1959.5 705.1 1959.5 707.9 1959.5 710.8 1959.5 713.6 1959.5 716.5 1959.5 719.3 1959.5 722.2 1959.5 725.0 1959.5 727.9 1959.5 730.7 1959.5 733.6 1959.5 736.4 1959.5 739.3 1959.5 742.1 1959.5 745.0 1959.5 747.9 1959.5 750.7 1959.5 753.6 1959.5 756.4 1959.5 759.3 1959.5 762.1 1959.5 765.0 1959.5 767.8 1959.5 770.7 1959.5 773.5 1959.5 776.4 1959.5 779.2 1959.5 782.1 1959.5 784.9 1959.5 787.8 1959.5 790.6 1959.5 793.5 1959.5 796.3 1959.5 799.2 1959.5 802.0 1959.5 804.9 1959.5 807.8 1959.5 810.6 1959.5 813.5 1959.5 816.3 1959.5 819.2 1959.5 822.0 1959.5 824.9 1959.5 827.7 1959.5 830.6 1959.5 833.4 1959.5 836.3 1959.5 839.1 1959.5 842.0 1959.5 844.8 1959.5 847.7 1959.5 850.5 1959.5 853.4 1959.5 856.2 1959.5 859.1 1959.5 862.0 1959.5 864.8 1959.5 867.7 1959.5 870.5 1959.5 873.4 1959.5 876.2 1959.5 879.1 1959.5 881.9 1959.5 884.8 1959.5 887.6 1959.5 890.5 1959.5 893.3 1959.5 896.2 1959.5 899.0 1959.4 901.9 1959.4 904.7 1959.4 907.6 1959.4 910.4 1959.4 913.3 1959.4 916.1 1959.4 919.0 1959.4 921.9 1959.4 924.7 1959.4 927.6 1959.4 930.4 1959.3 933.3 1959.3 936.1 1959.3 939.0 1959.3 941.8 1959.3 944.7 1959.3 947.5 1959.2 950.4 1959.2 953.2 1959.2 956.1 1959.1 958.9 1959.1 961.8 1959.1 964.6 1959.0 967.5 1959.0 970.3 1959.0 973.2 1958.9 976.1 1958.9 978.9 1958.8 981.8 1958.7 984.6 1958.7 987.5 1958.6 990.3 1958.5 993.2 1958.4 996.0 1958.4 998.9 1958.3 1001.7 1958.2 1004.6 1958.0 1007.4 1957.9 1010.3 1957.8 1013.1 1957.7 1016.0 1957.5 1018.8 1957.4 1021.7 1957.2 1024.5 1957.0 1027.4 1956.8 1030.2 1956.6 1033.1 1956.4 1036.0 1956.2 1038.8 1955.9 1041.7 1955.7 1044.5 1955.4 1047.4 1955.1 1050.2 1954.8 1053.1 1954.5 1055.9 1954.1 1058.8 1953.7 1061.6 1953.4 1064.5 1952.9 1067.3 1952.5 1070.2 1952.0 1073.0 1951.5 1075.9 1951.0 1078.7 1950.5 1081.6 1949.9 1084.4 1949.3 1087.3 1948.6 1090.2 1948.0 1093.0 1947.3 1095.9 1946.5 1098.7 1945.7 1101.6 1944.9 1104.4 1944.1 1107.3 1943.2 1110.1 1942.2 1113.0 1941.3 1115.8 1940.2 1118.7 1939.2 1121.5 1938.0 1124.4 1936.9 1127.2 1935.7 1130.1 1934.4 1132.9 1933.1 1135.8 1931.7 1138.6 1930.3 1141.5 1928.9 1144.3 1927.3 1147.2 1925.8 1150.1 1924.1 1152.9 1922.4 1155.8 1920.7 1158.6 1918.9 1161.5 1917.0 1164.3 1915.1 1167.2 1913.1 1170.0 1911.1 1172.9 1909.0 1175.7 1906.8 1178.6 1904.6 1181.4 1902.3 1184.3 1900.0 1187.1 1897.6 1190.0 1895.2 1192.8 1892.7 1195.7 1890.1 1198.5 1887.5 1201.4 1884.8 1204.3 1882.1 1207.1 1879.4 1210.0 1876.6 1212.8 1873.7 1215.7 1870.8 1218.5 1867.9 1221.4 1864.9 1224.2 1861.9 1227.1 1858.8 1229.9 1855.7 1232.8 1852.6 1235.6 1849.5 1238.5 1846.3 1241.3 1843.1 1244.2 1839.9 1247.0 1836.7 1249.9 1833.5 1252.7 1830.3 1255.6 1827.1 1258.4 1823.8 1261.3 1820.6 1264.2 1817.4 1267.0 1814.2 1269.9 1811.1 1272.7 1807.9 1275.6 1804.8 1278.4 1801.7 1281.3 1798.7 1284.1 1795.6 1287.0 1792.7 1289.8 1789.8 1292.7 1786.9 1295.5 1784.1 1298.4 1781.4 1301.2 1778.7 1304.1 1776.1 1306.9 1773.6 1309.8 1771.2 1312.6 1768.8 1315.5 1766.5 1318.4 1764.4 1321.2 1762.3 1324.1 1760.3 1326.9 1758.4 1329.8 1756.7 1332.6 1755.0 1335.5 1753.5 1338.3 1752.0 1341.2 1750.7 1344.0 1749.5 1346.9 1748.5 1349.7 1747.5 1352.6 1746.7 1355.4 1746.0 1358.3 1745.4 1361.1 1745.0 1364.0 1744.7 1366.8 1744.5 1369.7 1744.5 1372.5 1744.6 1375.4 1744.9 1378.3 1745.3 1381.1 1745.9 1384.0 1746.6 1386.8 1747.5 1389.7 1748.5 1392.5 1749.6 1395.4 1750.9 1398.2 1752.4 1401.1 1754.0 1403.9 1755.7 1406.8 1757.5 1409.6 1759.5 1412.5 1761.6 1415.3 1763.8 1418.2 1766.1 1421.0 1768.5 1423.9 1771.0 1426.7 1773.6 1429.6 1776.3 1432.5 1779.0 1435.3 1781.9 1438.2 1784.8 1441.0 1787.8 1443.9 1790.8 1446.7 1793.9 1449.6 1797.1 1452.4 1800.3 1455.3 1803.5 1458.1 1806.8 1461.0 1810.1 1463.8 1813.4 1466.7 1816.7 1469.5 1820.1 1472.4 1823.4 1475.2 1826.8 1478.1 1830.2 1480.9 1833.5 1483.8 1836.9 1486.6 1840.2 1489.5 1843.5 1492.4 1846.8 1495.2 1850.1 1498.1 1853.3 1500.9 1856.5 1503.8 1859.7 1506.6 1862.8 1509.5 1865.9 1512.3 1868.9 1515.2 1871.9 1518.0 1874.9 1520.9 1877.8 1523.7 1880.6 1526.6 1883.4 1529.4 1886.1 1532.3 1888.8 1535.1 1891.4 1538.0 1894.0 1540.8 1896.5 1543.7 1898.9 1546.6 1901.3 1549.4 1903.6 1552.3 1905.8 1555.1 1908.0 1558.0 1910.1 1560.8 1912.2 1563.7 1914.2 1566.5 1916.1 1569.4 1918.0 1572.2 1919.8 1575.1 1921.5 1577.9 1923.2 1580.8 1924.9 1583.6 1926.4 1586.5 1927.9 1589.3 1929.4 1592.2 1930.8 1595.0 1932.1 1597.9 1933.4 1600.7 1934.6 1603.6 1935.8 1606.5 1936.9 1609.3 1938.0 1612.2 1939.1 1615.0 1940.1 1617.9 1941.0 1620.7 1941.9 1623.6 1942.8 1626.4 1943.6 1629.3 1944.4 1632.1 1945.1 1635.0 1945.8 1637.8 1946.5 1640.7 1947.1 1643.5 1947.7 1646.4 1948.3 1649.2 1948.9 1652.1 1949.4 1654.9 1949.9 1657.8 1950.3 1660.7 1950.8 1663.5 1951.2 1666.4 1951.6 1669.2 1952.0 1672.1 1952.3 1674.9 1952.6 1677.8 1953.0 1680.6 1953.3 1683.5 1953.5 1686.3 1953.8 1689.2 1954.0 1692.0 1954.3 1694.9 1954.5 1697.7 1954.7 1700.6 1954.9 1703.4 1955.1 1706.3 1955.2" fill="none" stroke="#000" stroke-width="4.6" stroke-linejoin="round"/>
<polyline points="322.8 1959.4 325.7 1959.4 328.5 1959.4 331.4 1959.4 334.2 1959.4 337.1 1959.4 339.9 1959.3 342.8 1959.3 345.6 1959.3 348.5 1959.3 351.4 1959.3 354.2 1959.2 357.1 1959.2 359.9 1959.2 362.8 1959.1 365.6 1959.1 368.5 1959.1 371.3 1959.0 374.2 1959.0 377.0 1958.9 379.9 1958.8 382.7 1958.8 385.6 1958.7 388.4 1958.6 391.3 1958.5 394.1 1958.5 397.0 1958.4 399.8 1958.2 402.7 1958.1 405.6 1958.0 408.4 1957.9 411.3 1957.7 414.1 1957.5 417.0 1957.4 419.8 1957.2 422.7 1957.0 425.5 1956.7 428.4 1956.5 431.2 1956.3 434.1 1956.0 436.9 1955.7 439.8 1955.4 442.6 1955.0 445.5 1954.6 448.3 1954.2 451.2 1953.8 454.0 1953.4 456.9 1952.9 459.7 1952.3 462.6 1951.8 465.5 1951.2 468.3 1950.6 471.2 1949.9 474.0 1949.2 476.9 1948.4 479.7 1947.6 482.6 1946.7 485.4 1945.8 488.3 1944.8 491.1 1943.8 494.0 1942.7 496.8 1941.6 499.7 1940.4 502.5 1939.1 505.4 1937.7 508.2 1936.3 511.1 1934.8 513.9 1933.2 516.8 1931.5 519.7 1929.8 522.5 1928.0 525.4 1926.0 528.2 1924.0 531.1 1921.9 533.9 1919.7 536.8 1917.4 539.6 1915.0 542.5 1912.5 545.3 1909.9 548.2 1907.1 551.0 1904.3 553.9 1901.3 556.7 1898.3 559.6 1895.1 562.4 1891.8 565.3 1888.4 568.1 1884.9 571.0 1881.2 573.8 1877.4 576.7 1873.5 579.6 1869.5 582.4 1865.4 585.3 1861.1 588.1 1856.8 591.0 1852.3 593.8 1847.7 596.7 1843.0 599.5 1838.1 602.4 1833.2 605.2 1828.2 608.1 1823.0 610.9 1817.8 613.8 1812.4 616.6 1807.0 619.5 1801.4 622.3 1795.8 625.2 1790.1 628.0 1784.4 630.9 1778.6 633.8 1772.7 636.6 1766.7 639.5 1760.8 642.3 1754.7 645.2 1748.7 648.0 1742.6 650.9 1736.5 653.7 1730.4 656.6 1724.3 659.4 1718.2 662.3 1712.1 665.1 1706.1 668.0 1700.1 670.8 1694.1 673.7 1688.2 676.5 1682.4 679.4 1676.7 682.2 1671.0 685.1 1665.4 687.9 1660.0 690.8 1654.6 693.7 1649.4 696.5 1644.3 699.4 1639.4 702.2 1634.6 705.1 1630.0 707.9 1625.5 710.8 1621.3 713.6 1617.2 716.5 1613.4 719.3 1609.7 722.2 1606.2 725.0 1603.0 727.9 1600.0 730.7 1597.2 733.6 1594.7 736.4 1592.4 739.3 1590.4 742.1 1588.6 745.0 1587.1 747.9 1585.9 750.7 1584.9 753.6 1584.2 756.4 1583.7 759.3 1583.5 762.1 1583.6 765.0 1583.9 767.8 1584.4 770.7 1585.2 773.5 1586.3 776.4 1587.5 779.2 1589.0 782.1 1590.7 784.9 1592.7 787.8 1594.9 790.6 1597.2 793.5 1599.8 796.3 1602.7 799.2 1605.7 802.0 1608.9 804.9 1612.3 807.8 1615.9 810.6 1619.7 813.5 1623.6 816.3 1627.7 819.2 1632.0 822.0 1636.4 824.9 1641.0 827.7 1645.7 830.6 1650.5 833.4 1655.5 836.3 1660.5 839.1 1665.7 842.0 1671.0 844.8 1676.3 847.7 1681.7 850.5 1687.2 853.4 1692.8 856.2 1698.4 859.1 1704.0 862.0 1709.7 864.8 1715.4 867.7 1721.2 870.5 1726.9 873.4 1732.7 876.2 1738.5 879.1 1744.2 881.9 1749.9 884.8 1755.6 887.6 1761.3 890.5 1767.0 893.3 1772.6 896.2 1778.1 899.0 1783.6 901.9 1789.1 904.7 1794.4 907.6 1799.8 910.4 1805.0 913.3 1810.1 916.1 1815.2 919.0 1820.2 921.9 1825.1 924.7 1829.9 927.6 1834.6 930.4 1839.3 933.3 1843.8 936.1 1848.2 939.0 1852.5 941.8 1856.7 944.7 1860.8 947.5 1864.8 950.4 1868.7 953.2 1872.5 956.1 1876.2 958.9 1879.7 961.8 1883.2 964.6 1886.5 967.5 1889.7 970.3 1892.9 973.2 1895.9 976.1 1898.8 978.9 1901.6 981.8 1904.3 984.6 1906.9 987.5 1909.3 990.3 1911.7 993.2 1914.0 996.0 1916.2 998.9 1918.3 1001.7 1920.3 1004.6 1922.2 1007.4 1924.0 1010.3 1925.7 1013.1 1927.3 1016.0 1928.9 1018.8 1930.3 1021.7 1931.7 1024.5 1933.0 1027.4 1934.2 1030.2 1935.3 1033.1 1936.3 1036.0 1937.3 1038.8 1938.2 1041.7 1939.0 1044.5 1939.8 1047.4 1940.4 1050.2 1941.0 1053.1 1941.6 1055.9 1942.1 1058.8 1942.5 1061.6 1942.8 1064.5 1943.1 1067.3 1943.3 1070.2 1943.4 1073.0 1943.5 1075.9 1943.5 1078.7 1943.5 1081.6 1943.4 1084.4 1943.3 1087.3 1943.0 1090.2 1942.8 1093.0 1942.4 1095.9 1942.0 1098.7 1941.6 1101.6 1941.1 1104.4 1940.5 1107.3 1939.9 1110.1 1939.2 1113.0 1938.4 1115.8 1937.6 1118.7 1936.8 1121.5 1935.8 1124.4 1934.8 1127.2 1933.8 1130.1 1932.7 1132.9 1931.5 1135.8 1930.3 1138.6 1929.0 1141.5 1927.6 1144.3 1926.2 1147.2 1924.7 1150.1 1923.2 1152.9 1921.5 1155.8 1919.9 1158.6 1918.1 1161.5 1916.3 1164.3 1914.5 1167.2 1912.5 1170.0 1910.6 1172.9 1908.5 1175.7 1906.4 1178.6 1904.2 1181.4 1902.0 1184.3 1899.7 1187.1 1897.3 1190.0 1894.9 1192.8 1892.4 1195.7 1889.9 1198.5 1887.3 1201.4 1884.7 1204.3 1882.0 1207.1 1879.2 1210.0 1876.4 1212.8 1873.6 1215.7 1870.7 1218.5 1867.8 1221.4 1864.8 1224.2 1861.8 1227.1 1858.7 1229.9 1855.7 1232.8 1852.6 1235.6 1849.4 1238.5 1846.3 1241.3 1843.1 1244.2 1839.9 1247.0 1836.7 1249.9 1833.5 1252.7 1830.3 1255.6 1827.0 1258.4 1823.8 1261.3 1820.6 1264.2 1817.4 1267.0 1814.2 1269.9 1811.0 1272.7 1807.9 1275.6 1804.8 1278.4 1801.7 1281.3 1798.6 1284.1 1795.6 1287.0 1792.7 1289.8 1789.8 1292.7 1786.9 1295.5 1784.1 1298.4 1781.4 1301.2 1778.7 1304.1 1776.1 1306.9 1773.6 1309.8 1771.2 1312.6 1768.8 1315.5 1766.5 1318.4 1764.4 1321.2 1762.3 1324.1 1760.3 1326.9 1758.4 1329.8 1756.7 1332.6 1755.0 1335.5 1753.5 1338.3 1752.0 1341.2 1750.7 1344.0 1749.5 1346.9 1748.5 1349.7 1747.5 1352.6 1746.7 1355.4 1746.0 1358.3 1745.4 1361.1 1745.0 1364.0 1744.7 1366.8 1744.5 1369.7 1744.5 1372.5 1744.6 1375.4 1744.9 1378.3 1745.3 1381.1 1745.9 1384.0 1746.6 1386.8 1747.5 1389.7 1748.5 1392.5 1749.6 1395.4 1750.9 1398.2 1752.4 1401.1 1754.0 1403.9 1755.7 1406.8 1757.5 1409.6 1759.5 1412.5 1761.6 1415.3 1763.8 1418.2 1766.1 1421.0 1768.5 1423.9 1771.0 1426.7 1773.6 1429.6 1776.3 1432.5 1779.0 1435.3 1781.9 1438.2 1784.8 1441.0 1787.8 1443.9 1790.8 1446.7 1793.9 1449.6 1797.1 1452.4 1800.3 1455.3 1803.5 1458.1 1806.8 1461.0 1810.1 1463.8 1813.4 1466.7 1816.7 1469.5 1820.1 1472.4 1823.4 1475.2 1826.8 1478.1 1830.2 1480.9 1833.5 1483.8 1836.9 1486.6 1840.2 1489.5 1843.5 1492.4 1846.8 1495.2 1850.1 1498.1 1853.3 1500.9 1856.5 1503.8 1859.7 1506.6 1862.8 1509.5 1865.9 1512.3 1868.9 1515.2 1871.9 1518.0 1874.9 1520.9 1877.8 1523.7 1880.6 1526.6 1883.4 1529.4 1886.1 1532.3 1888.8 1535.1 1891.4 1538.0 1894.0 1540.8 1896.5 1543.7 1898.9 1546.6 1901.3 1549.4 1903.6 1552.3 1905.8 1555.1 1908.0 1558.0 1910.1 1560.8 1912.2 1563.7 1914.2 1566.5 1916.1 1569.4 1918.0 1572.2 1919.8 1575.1 1921.5 1577.9 1923.2 1580.8 1924.9 1583.6 1926.4 1586.5 1927.9 1589.3 1929.4 1592.2 1930.8 1595.0 1932.1 1597.9 1933.4 1600.7 1934.6 1603.6 1935.8 1606.5 1936.9 1609.3 1938.0 1612.2 1939.1 1615.0 1940.1 1617.9 1941.0 1620.7 1941.9 1623.6 1942.8 1626.4 1943.6 1629.3 1944.4 1632.1 1945.1 1635.0 1945.8 1637.8 1946.5 1640.7 1947.1 1643.5 1947.7 1646.4 1948.3 1649.2 1948.9 1652.1 1949.4 1654.9 1949.9 1657.8 1950.3 1660.7 1950.8 1663.5 1951.2 1666.4 1951.6 1669.2 1952.0 1672.1 1952.3 1674.9 1952.6 1677.8 1953.0 1680.6 1953.3 1683.5 1953.5 1686.3 1953.8 1689.2 1954.0 1692.0 1954.3 1694.9 1954.5 1697.7 1954.7 1700.6 1954.9 1703.4 1955.1 1706.3 1955.2" fill="none" stroke="#000" stroke-width="5" stroke-linejoin="round"/>
<polyline points="322.8 1959.4 326.8 1962.0 330.8 1957.6 334.8 1955.4 338.8 1961.5 342.8 1928.8 346.8 1955.7 350.8 1962.0 354.8 1962.0 358.8 1955.2 362.8 1962.0 366.8 1960.3 370.8 1962.0 374.7 1962.0 378.7 1962.0 382.7 1960.2 386.7 1957.3 390.7 1957.6 394.7 1955.5 398.7 1962.0 402.7 1962.0 406.7 1955.3 410.7 1958.0 414.7 1945.7 418.7 1950.2 422.7 1960.3 426.7 1955.7 430.7 1955.5 434.6 1950.5 438.6 1957.2 442.6 1951.1 446.6 1949.6 450.6 1949.6 454.6 1956.2 458.6 1954.0 462.6 1944.5 466.6 1949.7 470.6 1936.3 474.6 1940.4 478.6 1951.8 482.6 1959.3 486.6 1942.6 490.6 1948.6 494.5 1938.2 498.5 1936.2 502.5 1941.3 506.5 1939.6 510.5 1934.4 514.5 1932.8 518.5 1934.3 522.5 1925.8 526.5 1933.1 530.5 1924.0 534.5 1920.8 538.5 1917.0 542.5 1913.5 546.5 1913.5 550.5 1902.6 554.5 1901.4 558.4 1898.9 562.4 1897.1 566.4 1914.7 570.4 1880.6 574.4 1880.4 578.4 1870.9 582.4 1861.3 586.4 1855.4 590.4 1827.9 594.4 1838.5 598.4 1844.3 602.4 1829.3 606.4 1824.9 610.4 1814.5 614.4 1795.7 618.3 1799.1 622.3 1792.6 626.3 1791.6 630.3 1777.8 634.3 1770.0 638.3 1762.3 642.3 1753.9 646.3 1742.4 650.3 1743.5 654.3 1722.5 658.3 1721.1 662.3 1708.4 666.3 1704.0 670.3 1696.3 674.3 1679.2 678.3 1680.1 682.2 1678.0 686.2 1666.0 690.2 1656.9 694.2 1640.1 698.2 1631.0 702.2 1631.0 706.2 1632.0 710.2 1589.4 714.2 1613.8 718.2 1590.3 722.2 1608.9 726.2 1597.8 730.2 1596.6 734.2 1598.2 738.2 1591.3 742.1 1589.7 746.1 1595.5 750.1 1582.7 754.1 1582.0 758.1 1586.5 762.1 1588.7 766.1 1578.4 770.1 1584.0 774.1 1582.6 778.1 1568.5 782.1 1592.7 786.1 1590.4 790.1 1597.7 794.1 1600.6 798.1 1604.8 802.0 1603.0 806.0 1609.4 810.0 1618.4 814.0 1625.0 818.0 1631.3 822.0 1635.1 826.0 1646.3 830.0 1651.5 834.0 1656.7 838.0 1665.8 842.0 1671.4 846.0 1680.8 850.0 1678.4 854.0 1688.8 858.0 1700.0 862.0 1709.9 865.9 1709.3 869.9 1711.6 873.9 1734.2 877.9 1740.7 881.9 1748.8 885.9 1752.5 889.9 1765.9 893.9 1765.6 897.9 1784.8 901.9 1786.4 905.9 1800.4 909.9 1797.0 913.9 1816.8 917.9 1818.5 921.9 1821.6 925.8 1827.0 929.8 1842.6 933.8 1846.0 937.8 1856.2 941.8 1856.2 945.8 1862.8 949.8 1869.3 953.8 1875.9 957.8 1879.8 961.8 1877.1 965.8 1885.8 969.8 1886.4 973.8 1903.9 977.8 1895.2 981.8 1905.9 985.8 1906.0 989.7 1914.9 993.7 1915.0 997.7 1921.5 1001.7 1933.6 1005.7 1922.5 1009.7 1926.0 1013.7 1926.2 1017.7 1930.7 1021.7 1937.7 1025.7 1931.2 1029.7 1934.0 1033.7 1937.1 1037.7 1934.1 1041.7 1923.8 1045.7 1944.2 1049.6 1943.9 1053.6 1935.7 1057.6 1936.8 1061.6 1945.6 1065.6 1947.7 1069.6 1945.9 1073.6 1945.5 1077.6 1949.6 1081.6 1943.3 1085.6 1953.5 1089.6 1947.5 1093.6 1938.8 1097.6 1944.4 1101.6 1949.4 1105.6 1937.8 1109.5 1936.2 1113.5 1939.6 1117.5 1936.9 1121.5 1939.0 1125.5 1927.7 1129.5 1928.1 1133.5 1935.5 1137.5 1929.5 1141.5 1924.9 1145.5 1923.8 1149.5 1916.4 1153.5 1915.9 1157.5 1920.9 1161.5 1916.7 1165.5 1918.6 1169.5 1910.0 1173.4 1907.5 1177.4 1894.7 1181.4 1901.6 1185.4 1906.8 1189.4 1898.0 1193.4 1891.5 1197.4 1893.2 1201.4 1888.0 1205.4 1882.3 1209.4 1881.1 1213.4 1873.6 1217.4 1872.4 1221.4 1841.9 1225.4 1858.1 1229.4 1838.2 1233.3 1857.3 1237.3 1850.6 1241.3 1840.6 1245.3 1844.9 1249.3 1834.4 1253.3 1826.9 1257.3 1826.6 1261.3 1819.7 1265.3 1820.4 1269.3 1793.3 1273.3 1803.0 1277.3 1802.0 1281.3 1805.4 1285.3 1798.5 1289.3 1786.6 1293.2 1765.1 1297.2 1781.3 1301.2 1773.9 1305.2 1755.2 1309.2 1772.4 1313.2 1768.3 1317.2 1763.6 1321.2 1768.2 1325.2 1755.9 1329.2 1751.9 1333.2 1759.1 1337.2 1750.7 1341.2 1749.4 1345.2 1751.6 1349.2 1756.8 1353.2 1743.4 1357.1 1745.1 1361.1 1746.8 1365.1 1736.5 1369.1 1740.2 1373.1 1743.5 1377.1 1744.7 1381.1 1770.3 1385.1 1737.4 1389.1 1746.8 1393.1 1752.0 1397.1 1747.8 1401.1 1747.5 1405.1 1753.1 1409.1 1756.0 1413.1 1760.0 1417.0 1763.3 1421.0 1762.9 1425.0 1772.1 1429.0 1768.6 1433.0 1783.2 1437.0 1784.6 1441.0 1793.1 1445.0 1793.4 1449.0 1794.4 1453.0 1795.3 1457.0 1808.0 1461.0 1810.0 1465.0 1816.1 1469.0 1822.2 1473.0 1828.7 1477.0 1828.6 1480.9 1840.2 1484.9 1837.8 1488.9 1842.8 1492.9 1850.0 1496.9 1855.9 1500.9 1861.8 1504.9 1853.7 1508.9 1870.4 1512.9 1863.5 1516.9 1871.4 1520.9 1879.2 1524.9 1886.2 1528.9 1881.6 1532.9 1875.0 1536.9 1896.6 1540.8 1897.6 1544.8 1895.8 1548.8 1891.2 1552.8 1898.6 1556.8 1901.8 1560.8 1910.1 1564.8 1919.8 1568.8 1909.6 1572.8 1923.0 1576.8 1916.2 1580.8 1925.3 1584.8 1927.6 1588.8 1921.7 1592.8 1932.3 1596.8 1932.9 1600.7 1932.3 1604.7 1930.2 1608.7 1938.1 1612.7 1935.3 1616.7 1938.6 1620.7 1943.1 1624.7 1942.8 1628.7 1944.1 1632.7 1948.8 1636.7 1941.6 1640.7 1952.5 1644.7 1943.5 1648.7 1945.1 1652.7 1949.8 1656.7 1953.1 1660.7 1951.7 1664.6 1949.5 1668.6 1949.0 1672.6 1951.3 1676.6 1949.0 1680.6 1962.0 1684.6 1952.7 1688.6 1960.0 1692.6 1951.4 1696.6 1954.0 1700.6 1956.5 1704.6 1945.4" fill="none" stroke="#000" stroke-width="4.2" stroke-linejoin="round"/>
<line x1="264.6" y1="2373" x2="1792.4" y2="2373" stroke="#000" stroke-width="4"/>
<polyline points="264.6 2366.5 267.5 2366.2 270.3 2366.0 273.2 2365.7 276.0 2365.4 278.9 2365.1 281.8 2364.8 284.6 2364.5 287.5 2364.1 290.3 2363.8 293.2 2363.4 296.0 2363.0 298.9 2362.6 301.7 2362.2 304.6 2361.7 307.4 2361.3 310.3 2360.8 313.1 2360.3 316.0 2359.8 318.8 2359.2 321.7 2358.7 324.5 2358.1 327.4 2357.5 330.2 2356.8 333.1 2356.2 336.0 2355.5 338.8 2354.7 341.7 2354.0 344.5 2353.2 347.4 2352.4 350.2 2351.6 353.1 2350.7 355.9 2349.9 358.8 2348.9 361.6 2348.0 364.5 2347.0 367.3 2346.0 370.2 2345.0 373.0 2343.9 375.9 2342.8 378.7 2341.6 381.6 2340.5 384.4 2339.2 387.3 2338.0 390.1 2336.7 393.0 2335.4 395.9 2334.1 398.7 2332.7 401.6 2331.3 404.4 2329.8 407.3 2328.3 410.1 2326.8 413.0 2325.3 415.8 2323.7 418.7 2322.1 421.5 2320.4 424.4 2318.7 427.2 2317.0 430.1 2315.3 432.9 2313.5 435.8 2311.7 438.6 2309.9 441.5 2308.0 444.3 2306.2 447.2 2304.2 450.1 2302.3 452.9 2300.4 455.8 2298.4 458.6 2296.4 461.5 2294.4 464.3 2292.4 467.2 2290.3 470.0 2288.3 472.9 2286.2 475.7 2284.1 478.6 2282.0 481.4 2279.9 484.3 2277.8 487.1 2275.8 490.0 2273.7 492.8 2271.6 495.7 2269.5 498.5 2267.4 501.4 2265.3 504.2 2263.3 507.1 2261.2 510.0 2259.2 512.8 2257.2 515.7 2255.2 518.5 2253.2 521.4 2251.3 524.2 2249.4 527.1 2247.5 529.9 2245.7 532.8 2243.9 535.6 2242.2 538.5 2240.5 541.3 2238.8 544.2 2237.2 547.0 2235.6 549.9 2234.1 552.7 2232.7 555.6 2231.3 558.4 2230.0 561.3 2228.7 564.2 2227.5 567.0 2226.4 569.9 2225.3 572.7 2224.4 575.6 2223.5 578.4 2222.6 581.3 2221.9 584.1 2221.2 587.0 2220.7 589.8 2220.2 592.7 2219.8 595.5 2219.4 598.4 2219.2 601.2 2219.1 604.1 2219.0 606.9 2219.0 609.8 2219.1 612.6 2219.4 615.5 2219.7 618.3 2220.0 621.2 2220.5 624.1 2221.1 626.9 2221.7 629.8 2222.5 632.6 2223.3 635.5 2224.2 638.3 2225.2 641.2 2226.2 644.0 2227.4 646.9 2228.6 649.7 2229.9 652.6 2231.2 655.4 2232.7 658.3 2234.2 661.1 2235.7 664.0 2237.4 666.8 2239.0 669.7 2240.8 672.5 2242.6 675.4 2244.4 678.3 2246.3 681.1 2248.3 684.0 2250.2 686.8 2252.3 689.7 2254.3 692.5 2256.4 695.4 2258.5 698.2 2260.7 701.1 2262.9 703.9 2265.1 706.8 2267.3 709.6 2269.5 712.5 2271.7 715.3 2274.0 718.2 2276.3 721.0 2278.5 723.9 2280.8 726.7 2283.0 729.6 2285.3 732.4 2287.5 735.3 2289.8 738.2 2292.0 741.0 2294.2 743.9 2296.4 746.7 2298.6 749.6 2300.8 752.4 2302.9 755.3 2305.0 758.1 2307.1 761.0 2309.2 763.8 2311.2 766.7 2313.2 769.5 2315.2 772.4 2317.2 775.2 2319.1 778.1 2321.0 780.9 2322.8 783.8 2324.6 786.6 2326.4 789.5 2328.1 792.4 2329.8 795.2 2331.4 798.1 2333.0 800.9 2334.6 803.8 2336.1 806.6 2337.6 809.5 2339.1 812.3 2340.5 815.2 2341.9 818.0 2343.2 820.9 2344.5 823.7 2345.7 826.6 2346.9 829.4 2348.1 832.3 2349.2 835.1 2350.3 838.0 2351.4 840.8 2352.4 843.7 2353.4 846.5 2354.3 849.4 2355.2 852.3 2356.1 855.1 2357.0 858.0 2357.8 860.8 2358.6 863.7 2359.3 866.5 2360.0 869.4 2360.7 872.2 2361.4 875.1 2362.0 877.9 2362.6 880.8 2363.2 883.6 2363.7 886.5 2364.2 889.3 2364.7 892.2 2365.2 895.0 2365.6 897.9 2366.1 900.7 2366.5 903.6 2366.9 906.5 2367.2 909.3 2367.6 912.2 2367.9 915.0 2368.2 917.9 2368.5 920.7 2368.8 923.6 2369.1 926.4 2369.3 929.3 2369.6 932.1 2369.8 935.0 2370.0 937.8 2370.2 940.7 2370.4 943.5 2370.6 946.4 2370.7 949.2 2370.9 952.1 2371.0 954.9 2371.2 957.8 2371.3 960.6 2371.4 963.5 2371.5 966.4 2371.6 969.2 2371.7 972.1 2371.8 974.9 2371.9 977.8 2372.0 980.6 2372.1 983.5 2372.1 986.3 2372.2 989.2 2372.3 992.0 2372.3 994.9 2372.4 997.7 2372.4 1000.6 2372.5 1003.4 2372.5 1006.3 2372.5 1009.1 2372.6 1012.0 2372.6 1014.8 2372.6 1017.7 2372.7 1020.6 2372.7 1023.4 2372.7 1026.3 2372.7 1029.1 2372.8 1032.0 2372.8 1034.8 2372.8 1037.7 2372.8 1040.5 2372.8 1043.4 2372.9 1046.2 2372.9 1049.1 2372.9 1051.9 2372.9 1054.8 2372.9 1057.6 2372.9 1060.5 2372.9 1063.3 2372.9 1066.2 2372.9 1069.0 2372.9 1071.9 2372.9 1074.7 2372.9 1077.6 2373.0 1080.5 2373.0 1083.3 2373.0 1086.2 2373.0 1089.0 2373.0 1091.9 2373.0 1094.7 2373.0 1097.6 2373.0 1100.4 2373.0 1103.3 2373.0 1106.1 2373.0 1109.0 2373.0 1111.8 2373.0 1114.7 2373.0 1117.5 2373.0 1120.4 2373.0 1123.2 2373.0 1126.1 2373.0 1128.9 2373.0 1131.8 2373.0 1134.7 2373.0 1137.5 2373.0 1140.4 2373.0 1143.2 2373.0 1146.1 2373.0 1148.9 2373.0 1151.8 2373.0 1154.6 2373.0 1157.5 2373.0 1160.3 2373.0 1163.2 2373.0 1166.0 2373.0 1168.9 2373.0 1171.7 2373.0 1174.6 2373.0 1177.4 2373.0 1180.3 2373.0 1183.1 2373.0 1186.0 2373.0 1188.8 2373.0 1191.7 2373.0 1194.6 2373.0 1197.4 2373.0 1200.3 2373.0 1203.1 2373.0 1206.0 2373.0 1208.8 2373.0 1211.7 2373.0 1214.5 2373.0 1217.4 2373.0 1220.2 2373.0 1223.1 2373.0 1225.9 2373.0 1228.8 2373.0 1231.6 2373.0 1234.5 2373.0 1237.3 2373.0 1240.2 2373.0 1243.0 2373.0 1245.9 2373.0 1248.8 2373.0 1251.6 2373.0 1254.5 2373.0 1257.3 2373.0 1260.2 2373.0 1263.0 2373.0 1265.9 2373.0 1268.7 2373.0 1271.6 2373.0 1274.4 2373.0 1277.3 2373.0 1280.1 2373.0 1283.0 2373.0 1285.8 2373.0 1288.7 2373.0 1291.5 2373.0 1294.4 2373.0 1297.2 2373.0 1300.1 2373.0 1302.9 2373.0 1305.8 2373.0 1308.7 2373.0 1311.5 2373.0 1314.4 2373.0 1317.2 2373.0 1320.1 2373.0 1322.9 2373.0 1325.8 2373.0 1328.6 2373.0 1331.5 2373.0 1334.3 2373.0 1337.2 2373.0 1340.0 2373.0 1342.9 2373.0 1345.7 2373.0 1348.6 2373.0 1351.4 2373.0 1354.3 2373.0 1357.1 2373.0 1360.0 2373.0 1362.9 2373.0 1365.7 2373.0 1368.6 2373.0 1371.4 2373.0 1374.3 2373.0 1377.1 2373.0 1380.0 2373.0 1382.8 2373.0 1385.7 2373.0 1388.5 2373.0 1391.4 2373.0 1394.2 2373.0 1397.1 2373.0 1399.9 2373.0 1402.8 2373.0 1405.6 2373.0 1408.5 2373.0 1411.3 2373.0 1414.2 2373.0 1417.0 2373.0 1419.9 2373.0 1422.8 2373.0 1425.6 2373.0 1428.5 2373.0 1431.3 2373.0 1434.2 2373.0 1437.0 2373.0 1439.9 2373.0 1442.7 2373.0 1445.6 2373.0 1448.4 2373.0 1451.3 2373.0 1454.1 2373.0 1457.0 2373.0 1459.8 2373.0 1462.7 2373.0 1465.5 2373.0 1468.4 2373.0 1471.2 2373.0 1474.1 2373.0 1477.0 2373.0 1479.8 2373.0 1482.7 2373.0 1485.5 2373.0 1488.4 2373.0 1491.2 2373.0 1494.1 2373.0 1496.9 2373.0 1499.8 2373.0 1502.6 2373.0 1505.5 2373.0 1508.3 2373.0 1511.2 2373.0 1514.0 2373.0 1516.9 2373.0 1519.7 2373.0 1522.6 2373.0 1525.4 2373.0 1528.3 2373.0 1531.1 2373.0 1534.0 2373.0 1536.9 2373.0 1539.7 2373.0 1542.6 2373.0 1545.4 2373.0 1548.3 2373.0 1551.1 2373.0 1554.0 2373.0 1556.8 2373.0 1559.7 2373.0 1562.5 2373.0 1565.4 2373.0 1568.2 2373.0 1571.1 2373.0 1573.9 2373.0 1576.8 2373.0 1579.6 2373.0 1582.5 2373.0 1585.3 2373.0 1588.2 2373.0 1591.1 2373.0 1593.9 2373.0 1596.8 2373.0 1599.6 2373.0 1602.5 2373.0 1605.3 2373.0 1608.2 2373.0 1611.0 2373.0 1613.9 2373.0 1616.7 2373.0 1619.6 2373.0 1622.4 2373.0 1625.3 2373.0 1628.1 2373.0 1631.0 2373.0 1633.8 2373.0 1636.7 2373.0 1639.5 2373.0 1642.4 2373.0 1645.2 2373.0 1648.1 2373.0 1651.0 2373.0 1653.8 2373.0 1656.7 2373.0 1659.5 2373.0 1662.4 2373.0 1665.2 2373.0 1668.1 2373.0 1670.9 2373.0 1673.8 2373.0 1676.6 2373.0 1679.5 2373.0 1682.3 2373.0 1685.2 2373.0 1688.0 2373.0 1690.9 2373.0 1693.7 2373.0 1696.6 2373.0 1699.4 2373.0 1702.3 2373.0 1705.2 2373.0 1708.0 2373.0 1710.9 2373.0 1713.7 2373.0 1716.6 2373.0 1719.4 2373.0 1722.3 2373.0 1725.1 2373.0 1728.0 2373.0 1730.8 2373.0 1733.7 2373.0 1736.5 2373.0 1739.4 2373.0 1742.2 2373.0 1745.1 2373.0 1747.9 2373.0 1750.8 2373.0 1753.6 2373.0 1756.5 2373.0 1759.3 2373.0 1762.2 2373.0 1765.1 2373.0 1767.9 2373.0 1770.8 2373.0 1773.6 2373.0 1776.5 2373.0 1779.3 2373.0 1782.2 2373.0 1785.0 2373.0 1787.9 2373.0 1790.7 2373.0" fill="none" stroke="#000" stroke-width="4.6" stroke-linejoin="round"/>
<polyline points="264.6 2373.0 267.5 2373.0 270.3 2373.0 273.2 2373.0 276.0 2373.0 278.9 2373.0 281.8 2373.0 284.6 2373.0 287.5 2373.0 290.3 2373.0 293.2 2373.0 296.0 2373.0 298.9 2373.0 301.7 2373.0 304.6 2373.0 307.4 2373.0 310.3 2373.0 313.1 2373.0 316.0 2373.0 318.8 2373.0 321.7 2373.0 324.5 2373.0 327.4 2373.0 330.2 2373.0 333.1 2373.0 336.0 2373.0 338.8 2373.0 341.7 2372.9 344.5 2372.9 347.4 2372.9 350.2 2372.9 353.1 2372.9 355.9 2372.9 358.8 2372.9 361.6 2372.9 364.5 2372.9 367.3 2372.9 370.2 2372.9 373.0 2372.8 375.9 2372.8 378.7 2372.8 381.6 2372.8 384.4 2372.8 387.3 2372.7 390.1 2372.7 393.0 2372.7 395.9 2372.7 398.7 2372.6 401.6 2372.6 404.4 2372.5 407.3 2372.5 410.1 2372.5 413.0 2372.4 415.8 2372.4 418.7 2372.3 421.5 2372.2 424.4 2372.2 427.2 2372.1 430.1 2372.0 432.9 2371.9 435.8 2371.8 438.6 2371.7 441.5 2371.6 444.3 2371.5 447.2 2371.4 450.1 2371.2 452.9 2371.1 455.8 2370.9 458.6 2370.8 461.5 2370.6 464.3 2370.4 467.2 2370.2 470.0 2369.9 472.9 2369.7 475.7 2369.5 478.6 2369.2 481.4 2368.9 484.3 2368.6 487.1 2368.2 490.0 2367.9 492.8 2367.5 495.7 2367.1 498.5 2366.7 501.4 2366.2 504.2 2365.8 507.1 2365.3 510.0 2364.7 512.8 2364.1 515.7 2363.5 518.5 2362.9 521.4 2362.2 524.2 2361.5 527.1 2360.8 529.9 2360.0 532.8 2359.1 535.6 2358.2 538.5 2357.3 541.3 2356.3 544.2 2355.3 547.0 2354.2 549.9 2353.1 552.7 2351.9 555.6 2350.7 558.4 2349.4 561.3 2348.0 564.2 2346.6 567.0 2345.1 569.9 2343.5 572.7 2341.9 575.6 2340.2 578.4 2338.4 581.3 2336.6 584.1 2334.7 587.0 2332.7 589.8 2330.7 592.7 2328.5 595.5 2326.3 598.4 2324.0 601.2 2321.6 604.1 2319.2 606.9 2316.6 609.8 2314.0 612.6 2311.3 615.5 2308.5 618.3 2305.7 621.2 2302.7 624.1 2299.6 626.9 2296.5 629.8 2293.3 632.6 2290.0 635.5 2286.6 638.3 2283.2 641.2 2279.6 644.0 2276.0 646.9 2272.3 649.7 2268.6 652.6 2264.7 655.4 2260.8 658.3 2256.8 661.1 2252.8 664.0 2248.6 666.8 2244.5 669.7 2240.2 672.5 2235.9 675.4 2231.6 678.3 2227.2 681.1 2222.8 684.0 2218.3 686.8 2213.8 689.7 2209.3 692.5 2204.7 695.4 2200.2 698.2 2195.6 701.1 2191.0 703.9 2186.4 706.8 2181.8 709.6 2177.2 712.5 2172.6 715.3 2168.1 718.2 2163.5 721.0 2159.0 723.9 2154.6 726.7 2150.2 729.6 2145.8 732.4 2141.5 735.3 2137.3 738.2 2133.1 741.0 2129.1 743.9 2125.1 746.7 2121.2 749.6 2117.4 752.4 2113.7 755.3 2110.1 758.1 2106.6 761.0 2103.2 763.8 2100.0 766.7 2096.9 769.5 2094.0 772.4 2091.2 775.2 2088.5 778.1 2086.0 780.9 2083.7 783.8 2081.5 786.6 2079.4 789.5 2077.6 792.4 2075.9 795.2 2074.4 798.1 2073.1 800.9 2072.0 803.8 2071.0 806.6 2070.2 809.5 2069.6 812.3 2069.2 815.2 2069.0 818.0 2069.0 820.9 2069.2 823.7 2069.5 826.6 2070.0 829.4 2070.7 832.3 2071.6 835.1 2072.7 838.0 2073.9 840.8 2075.3 843.7 2076.8 846.5 2078.6 849.4 2080.5 852.3 2082.5 855.1 2084.7 858.0 2087.1 860.8 2089.6 863.7 2092.3 866.5 2095.0 869.4 2098.0 872.2 2101.0 875.1 2104.2 877.9 2107.5 880.8 2110.9 883.6 2114.5 886.5 2118.1 889.3 2121.8 892.2 2125.6 895.0 2129.6 897.9 2133.5 900.7 2137.6 903.6 2141.7 906.5 2145.9 909.3 2150.2 912.2 2154.5 915.0 2158.8 917.9 2163.2 920.7 2167.6 923.6 2172.0 926.4 2176.5 929.3 2181.0 932.1 2185.4 935.0 2189.9 937.8 2194.4 940.7 2198.9 943.5 2203.4 946.4 2207.8 949.2 2212.2 952.1 2216.6 954.9 2221.0 957.8 2225.3 960.6 2229.6 963.5 2233.9 966.4 2238.1 969.2 2242.3 972.1 2246.4 974.9 2250.4 977.8 2254.4 980.6 2258.3 983.5 2262.2 986.3 2266.0 989.2 2269.7 992.0 2273.4 994.9 2276.9 997.7 2280.5 1000.6 2283.9 1003.4 2287.2 1006.3 2290.5 1009.1 2293.7 1012.0 2296.9 1014.8 2299.9 1017.7 2302.9 1020.6 2305.7 1023.4 2308.5 1026.3 2311.3 1029.1 2313.9 1032.0 2316.5 1034.8 2318.9 1037.7 2321.4 1040.5 2323.7 1043.4 2325.9 1046.2 2328.1 1049.1 2330.2 1051.9 2332.2 1054.8 2334.2 1057.6 2336.1 1060.5 2337.9 1063.3 2339.6 1066.2 2341.3 1069.0 2342.9 1071.9 2344.4 1074.7 2345.9 1077.6 2347.3 1080.5 2348.7 1083.3 2350.0 1086.2 2351.2 1089.0 2352.4 1091.9 2353.6 1094.7 2354.6 1097.6 2355.7 1100.4 2356.7 1103.3 2357.6 1106.1 2358.5 1109.0 2359.3 1111.8 2360.1 1114.7 2360.9 1117.5 2361.6 1120.4 2362.3 1123.2 2363.0 1126.1 2363.6 1128.9 2364.2 1131.8 2364.7 1134.7 2365.3 1137.5 2365.8 1140.4 2366.2 1143.2 2366.7 1146.1 2367.1 1148.9 2367.5 1151.8 2367.9 1154.6 2368.2 1157.5 2368.5 1160.3 2368.8 1163.2 2369.1 1166.0 2369.4 1168.9 2369.6 1171.7 2369.9 1174.6 2370.1 1177.4 2370.3 1180.3 2370.5 1183.1 2370.7 1186.0 2370.9 1188.8 2371.0 1191.7 2371.2 1194.6 2371.3 1197.4 2371.4 1200.3 2371.5 1203.1 2371.7 1206.0 2371.8 1208.8 2371.9 1211.7 2371.9 1214.5 2372.0 1217.4 2372.1 1220.2 2372.2 1223.1 2372.2 1225.9 2372.3 1228.8 2372.4 1231.6 2372.4 1234.5 2372.5 1237.3 2372.5 1240.2 2372.6 1243.0 2372.6 1245.9 2372.6 1248.8 2372.7 1251.6 2372.7 1254.5 2372.7 1257.3 2372.7 1260.2 2372.8 1263.0 2372.8 1265.9 2372.8 1268.7 2372.8 1271.6 2372.8 1274.4 2372.8 1277.3 2372.9 1280.1 2372.9 1283.0 2372.9 1285.8 2372.9 1288.7 2372.9 1291.5 2372.9 1294.4 2372.9 1297.2 2372.9 1300.1 2372.9 1302.9 2372.9 1305.8 2372.9 1308.7 2373.0 1311.5 2373.0 1314.4 2373.0 1317.2 2373.0 1320.1 2373.0 1322.9 2373.0 1325.8 2373.0 1328.6 2373.0 1331.5 2373.0 1334.3 2373.0 1337.2 2373.0 1340.0 2373.0 1342.9 2373.0 1345.7 2373.0 1348.6 2373.0 1351.4 2373.0 1354.3 2373.0 1357.1 2373.0 1360.0 2373.0 1362.9 2373.0 1365.7 2373.0 1368.6 2373.0 1371.4 2373.0 1374.3 2373.0 1377.1 2373.0 1380.0 2373.0 1382.8 2373.0 1385.7 2373.0 1388.5 2373.0 1391.4 2373.0 1394.2 2373.0 1397.1 2373.0 1399.9 2373.0 1402.8 2373.0 1405.6 2373.0 1408.5 2373.0 1411.3 2373.0 1414.2 2373.0 1417.0 2373.0 1419.9 2373.0 1422.8 2373.0 1425.6 2373.0 1428.5 2373.0 1431.3 2373.0 1434.2 2373.0 1437.0 2373.0 1439.9 2373.0 1442.7 2373.0 1445.6 2373.0 1448.4 2373.0 1451.3 2373.0 1454.1 2373.0 1457.0 2373.0 1459.8 2373.0 1462.7 2373.0 1465.5 2373.0 1468.4 2373.0 1471.2 2373.0 1474.1 2373.0 1477.0 2373.0 1479.8 2373.0 1482.7 2373.0 1485.5 2373.0 1488.4 2373.0 1491.2 2373.0 1494.1 2373.0 1496.9 2373.0 1499.8 2373.0 1502.6 2373.0 1505.5 2373.0 1508.3 2373.0 1511.2 2373.0 1514.0 2373.0 1516.9 2373.0 1519.7 2373.0 1522.6 2373.0 1525.4 2373.0 1528.3 2373.0 1531.1 2373.0 1534.0 2373.0 1536.9 2373.0 1539.7 2373.0 1542.6 2373.0 1545.4 2373.0 1548.3 2373.0 1551.1 2373.0 1554.0 2373.0 1556.8 2373.0 1559.7 2373.0 1562.5 2373.0 1565.4 2373.0 1568.2 2373.0 1571.1 2373.0 1573.9 2373.0 1576.8 2373.0 1579.6 2373.0 1582.5 2373.0 1585.3 2373.0 1588.2 2373.0 1591.1 2373.0 1593.9 2373.0 1596.8 2373.0 1599.6 2373.0 1602.5 2373.0 1605.3 2373.0 1608.2 2373.0 1611.0 2373.0 1613.9 2373.0 1616.7 2373.0 1619.6 2373.0 1622.4 2373.0 1625.3 2373.0 1628.1 2373.0 1631.0 2373.0 1633.8 2373.0 1636.7 2373.0 1639.5 2373.0 1642.4 2373.0 1645.2 2373.0 1648.1 2373.0 1651.0 2373.0 1653.8 2373.0 1656.7 2373.0 1659.5 2373.0 1662.4 2373.0 1665.2 2373.0 1668.1 2373.0 1670.9 2373.0 1673.8 2373.0 1676.6 2373.0 1679.5 2373.0 1682.3 2373.0 1685.2 2373.0 1688.0 2373.0 1690.9 2373.0 1693.7 2373.0 1696.6 2373.0 1699.4 2373.0 1702.3 2373.0 1705.2 2373.0 1708.0 2373.0 1710.9 2373.0 1713.7 2373.0 1716.6 2373.0 1719.4 2373.0 1722.3 2373.0 1725.1 2373.0 1728.0 2373.0 1730.8 2373.0 1733.7 2373.0 1736.5 2373.0 1739.4 2373.0 1742.2 2373.0 1745.1 2373.0 1747.9 2373.0 1750.8 2373.0 1753.6 2373.0 1756.5 2373.0 1759.3 2373.0 1762.2 2373.0 1765.1 2373.0 1767.9 2373.0 1770.8 2373.0 1773.6 2373.0 1776.5 2373.0 1779.3 2373.0 1782.2 2373.0 1785.0 2373.0 1787.9 2373.0 1790.7 2373.0" fill="none" stroke="#000" stroke-width="4.6" stroke-linejoin="round"/>
<polyline points="264.6 2373.0 267.5 2373.0 270.3 2373.0 273.2 2373.0 276.0 2373.0 278.9 2373.0 281.8 2373.0 284.6 2373.0 287.5 2373.0 290.3 2373.0 293.2 2373.0 296.0 2373.0 298.9 2373.0 301.7 2373.0 304.6 2373.0 307.4 2373.0 310.3 2373.0 313.1 2373.0 316.0 2373.0 318.8 2373.0 321.7 2373.0 324.5 2373.0 327.4 2373.0 330.2 2373.0 333.1 2373.0 336.0 2373.0 338.8 2373.0 341.7 2373.0 344.5 2373.0 347.4 2373.0 350.2 2373.0 353.1 2373.0 355.9 2373.0 358.8 2373.0 361.6 2373.0 364.5 2373.0 367.3 2373.0 370.2 2373.0 373.0 2373.0 375.9 2373.0 378.7 2373.0 381.6 2373.0 384.4 2373.0 387.3 2373.0 390.1 2373.0 393.0 2373.0 395.9 2373.0 398.7 2373.0 401.6 2373.0 404.4 2373.0 407.3 2373.0 410.1 2373.0 413.0 2373.0 415.8 2373.0 418.7 2373.0 421.5 2373.0 424.4 2373.0 427.2 2373.0 430.1 2373.0 432.9 2373.0 435.8 2373.0 438.6 2373.0 441.5 2373.0 444.3 2373.0 447.2 2373.0 450.1 2373.0 452.9 2373.0 455.8 2373.0 458.6 2373.0 461.5 2373.0 464.3 2373.0 467.2 2373.0 470.0 2373.0 472.9 2373.0 475.7 2373.0 478.6 2373.0 481.4 2373.0 484.3 2373.0 487.1 2373.0 490.0 2373.0 492.8 2373.0 495.7 2373.0 498.5 2373.0 501.4 2373.0 504.2 2373.0 507.1 2373.0 510.0 2373.0 512.8 2373.0 515.7 2373.0 518.5 2373.0 521.4 2373.0 524.2 2373.0 527.1 2373.0 529.9 2373.0 532.8 2373.0 535.6 2373.0 538.5 2373.0 541.3 2373.0 544.2 2373.0 547.0 2373.0 549.9 2373.0 552.7 2373.0 555.6 2373.0 558.4 2373.0 561.3 2373.0 564.2 2373.0 567.0 2373.0 569.9 2373.0 572.7 2373.0 575.6 2373.0 578.4 2373.0 581.3 2373.0 584.1 2373.0 587.0 2373.0 589.8 2373.0 592.7 2373.0 595.5 2373.0 598.4 2373.0 601.2 2373.0 604.1 2373.0 606.9 2373.0 609.8 2373.0 612.6 2373.0 615.5 2373.0 618.3 2373.0 621.2 2373.0 624.1 2373.0 626.9 2373.0 629.8 2373.0 632.6 2373.0 635.5 2373.0 638.3 2373.0 641.2 2373.0 644.0 2373.0 646.9 2373.0 649.7 2373.0 652.6 2373.0 655.4 2373.0 658.3 2373.0 661.1 2373.0 664.0 2373.0 666.8 2373.0 669.7 2373.0 672.5 2373.0 675.4 2373.0 678.3 2373.0 681.1 2373.0 684.0 2373.0 686.8 2373.0 689.7 2373.0 692.5 2373.0 695.4 2373.0 698.2 2373.0 701.1 2373.0 703.9 2373.0 706.8 2373.0 709.6 2373.0 712.5 2373.0 715.3 2373.0 718.2 2373.0 721.0 2372.9 723.9 2372.9 726.7 2372.9 729.6 2372.9 732.4 2372.9 735.3 2372.9 738.2 2372.9 741.0 2372.9 743.9 2372.9 746.7 2372.9 749.6 2372.9 752.4 2372.9 755.3 2372.9 758.1 2372.8 761.0 2372.8 763.8 2372.8 766.7 2372.8 769.5 2372.8 772.4 2372.8 775.2 2372.7 778.1 2372.7 780.9 2372.7 783.8 2372.7 786.6 2372.6 789.5 2372.6 792.4 2372.6 795.2 2372.6 798.1 2372.5 800.9 2372.5 803.8 2372.4 806.6 2372.4 809.5 2372.3 812.3 2372.3 815.2 2372.2 818.0 2372.2 820.9 2372.1 823.7 2372.1 826.6 2372.0 829.4 2371.9 832.3 2371.8 835.1 2371.8 838.0 2371.7 840.8 2371.6 843.7 2371.5 846.5 2371.4 849.4 2371.3 852.3 2371.2 855.1 2371.0 858.0 2370.9 860.8 2370.8 863.7 2370.6 866.5 2370.5 869.4 2370.3 872.2 2370.1 875.1 2369.9 877.9 2369.8 880.8 2369.5 883.6 2369.3 886.5 2369.1 889.3 2368.9 892.2 2368.6 895.0 2368.4 897.9 2368.1 900.7 2367.8 903.6 2367.5 906.5 2367.2 909.3 2366.9 912.2 2366.6 915.0 2366.2 917.9 2365.8 920.7 2365.4 923.6 2365.0 926.4 2364.6 929.3 2364.2 932.1 2363.7 935.0 2363.3 937.8 2362.8 940.7 2362.3 943.5 2361.7 946.4 2361.2 949.2 2360.6 952.1 2360.0 954.9 2359.4 957.8 2358.8 960.6 2358.1 963.5 2357.5 966.4 2356.8 969.2 2356.0 972.1 2355.3 974.9 2354.5 977.8 2353.8 980.6 2353.0 983.5 2352.1 986.3 2351.3 989.2 2350.4 992.0 2349.5 994.9 2348.6 997.7 2347.7 1000.6 2346.7 1003.4 2345.7 1006.3 2344.7 1009.1 2343.7 1012.0 2342.7 1014.8 2341.6 1017.7 2340.5 1020.6 2339.4 1023.4 2338.3 1026.3 2337.2 1029.1 2336.0 1032.0 2334.8 1034.8 2333.6 1037.7 2332.4 1040.5 2331.2 1043.4 2330.0 1046.2 2328.8 1049.1 2327.5 1051.9 2326.2 1054.8 2325.0 1057.6 2323.7 1060.5 2322.4 1063.3 2321.1 1066.2 2319.8 1069.0 2318.5 1071.9 2317.2 1074.7 2315.9 1077.6 2314.6 1080.5 2313.4 1083.3 2312.1 1086.2 2310.8 1089.0 2309.5 1091.9 2308.3 1094.7 2307.0 1097.6 2305.8 1100.4 2304.5 1103.3 2303.3 1106.1 2302.1 1109.0 2301.0 1111.8 2299.8 1114.7 2298.7 1117.5 2297.6 1120.4 2296.5 1123.2 2295.4 1126.1 2294.4 1128.9 2293.4 1131.8 2292.4 1134.7 2291.5 1137.5 2290.6 1140.4 2289.7 1143.2 2288.9 1146.1 2288.1 1148.9 2287.4 1151.8 2286.7 1154.6 2286.0 1157.5 2285.4 1160.3 2284.8 1163.2 2284.3 1166.0 2283.8 1168.9 2283.3 1171.7 2282.9 1174.6 2282.6 1177.4 2282.3 1180.3 2282.0 1183.1 2281.8 1186.0 2281.7 1188.8 2281.6 1191.7 2281.5 1194.6 2281.5 1197.4 2281.6 1200.3 2281.7 1203.1 2281.8 1206.0 2282.1 1208.8 2282.4 1211.7 2282.7 1214.5 2283.1 1217.4 2283.6 1220.2 2284.1 1223.1 2284.7 1225.9 2285.3 1228.8 2286.0 1231.6 2286.7 1234.5 2287.5 1237.3 2288.3 1240.2 2289.2 1243.0 2290.1 1245.9 2291.0 1248.8 2292.0 1251.6 2293.1 1254.5 2294.1 1257.3 2295.3 1260.2 2296.4 1263.0 2297.6 1265.9 2298.8 1268.7 2300.0 1271.6 2301.3 1274.4 2302.6 1277.3 2303.9 1280.1 2305.2 1283.0 2306.6 1285.8 2307.9 1288.7 2309.3 1291.5 2310.7 1294.4 2312.1 1297.2 2313.5 1300.1 2314.9 1302.9 2316.3 1305.8 2317.7 1308.7 2319.1 1311.5 2320.6 1314.4 2322.0 1317.2 2323.4 1320.1 2324.8 1322.9 2326.1 1325.8 2327.5 1328.6 2328.9 1331.5 2330.2 1334.3 2331.6 1337.2 2332.9 1340.0 2334.2 1342.9 2335.5 1345.7 2336.8 1348.6 2338.0 1351.4 2339.2 1354.3 2340.4 1357.1 2341.6 1360.0 2342.8 1362.9 2343.9 1365.7 2345.0 1368.6 2346.1 1371.4 2347.2 1374.3 2348.2 1377.1 2349.2 1380.0 2350.2 1382.8 2351.1 1385.7 2352.1 1388.5 2353.0 1391.4 2353.9 1394.2 2354.7 1397.1 2355.5 1399.9 2356.3 1402.8 2357.1 1405.6 2357.8 1408.5 2358.6 1411.3 2359.3 1414.2 2359.9 1417.0 2360.6 1419.9 2361.2 1422.8 2361.8 1425.6 2362.4 1428.5 2362.9 1431.3 2363.4 1434.2 2363.9 1437.0 2364.4 1439.9 2364.9 1442.7 2365.3 1445.6 2365.8 1448.4 2366.2 1451.3 2366.6 1454.1 2366.9 1457.0 2367.3 1459.8 2367.6 1462.7 2367.9 1465.5 2368.2 1468.4 2368.5 1471.2 2368.8 1474.1 2369.1 1477.0 2369.3 1479.8 2369.5 1482.7 2369.8 1485.5 2370.0 1488.4 2370.2 1491.2 2370.3 1494.1 2370.5 1496.9 2370.7 1499.8 2370.8 1502.6 2371.0 1505.5 2371.1 1508.3 2371.3 1511.2 2371.4 1514.0 2371.5 1516.9 2371.6 1519.7 2371.7 1522.6 2371.8 1525.4 2371.9 1528.3 2372.0 1531.1 2372.0 1534.0 2372.1 1536.9 2372.2 1539.7 2372.2 1542.6 2372.3 1545.4 2372.3 1548.3 2372.4 1551.1 2372.4 1554.0 2372.5 1556.8 2372.5 1559.7 2372.6 1562.5 2372.6 1565.4 2372.6 1568.2 2372.7 1571.1 2372.7 1573.9 2372.7 1576.8 2372.7 1579.6 2372.8 1582.5 2372.8 1585.3 2372.8 1588.2 2372.8 1591.1 2372.8 1593.9 2372.8 1596.8 2372.9 1599.6 2372.9 1602.5 2372.9 1605.3 2372.9 1608.2 2372.9 1611.0 2372.9 1613.9 2372.9 1616.7 2372.9 1619.6 2372.9 1622.4 2372.9 1625.3 2372.9 1628.1 2373.0 1631.0 2373.0 1633.8 2373.0 1636.7 2373.0 1639.5 2373.0 1642.4 2373.0 1645.2 2373.0 1648.1 2373.0 1651.0 2373.0 1653.8 2373.0 1656.7 2373.0 1659.5 2373.0 1662.4 2373.0 1665.2 2373.0 1668.1 2373.0 1670.9 2373.0 1673.8 2373.0 1676.6 2373.0 1679.5 2373.0 1682.3 2373.0 1685.2 2373.0 1688.0 2373.0 1690.9 2373.0 1693.7 2373.0 1696.6 2373.0 1699.4 2373.0 1702.3 2373.0 1705.2 2373.0 1708.0 2373.0 1710.9 2373.0 1713.7 2373.0 1716.6 2373.0 1719.4 2373.0 1722.3 2373.0 1725.1 2373.0 1728.0 2373.0 1730.8 2373.0 1733.7 2373.0 1736.5 2373.0 1739.4 2373.0 1742.2 2373.0 1745.1 2373.0 1747.9 2373.0 1750.8 2373.0 1753.6 2373.0 1756.5 2373.0 1759.3 2373.0 1762.2 2373.0 1765.1 2373.0 1767.9 2373.0 1770.8 2373.0 1773.6 2373.0 1776.5 2373.0 1779.3 2373.0 1782.2 2373.0 1785.0 2373.0 1787.9 2373.0 1790.7 2373.0" fill="none" stroke="#000" stroke-width="4.6" stroke-linejoin="round"/>
<polyline points="264.6 2373.0 267.5 2373.0 270.3 2373.0 273.2 2373.0 276.0 2373.0 278.9 2373.0 281.8 2373.0 284.6 2373.0 287.5 2373.0 290.3 2373.0 293.2 2373.0 296.0 2373.0 298.9 2373.0 301.7 2373.0 304.6 2373.0 307.4 2373.0 310.3 2373.0 313.1 2373.0 316.0 2373.0 318.8 2373.0 321.7 2373.0 324.5 2373.0 327.4 2373.0 330.2 2373.0 333.1 2373.0 336.0 2373.0 338.8 2373.0 341.7 2373.0 344.5 2373.0 347.4 2373.0 350.2 2373.0 353.1 2373.0 355.9 2373.0 358.8 2373.0 361.6 2373.0 364.5 2373.0 367.3 2373.0 370.2 2373.0 373.0 2373.0 375.9 2373.0 378.7 2373.0 381.6 2373.0 384.4 2373.0 387.3 2373.0 390.1 2373.0 393.0 2373.0 395.9 2373.0 398.7 2373.0 401.6 2373.0 404.4 2373.0 407.3 2373.0 410.1 2373.0 413.0 2373.0 415.8 2373.0 418.7 2373.0 421.5 2373.0 424.4 2373.0 427.2 2373.0 430.1 2373.0 432.9 2373.0 435.8 2373.0 438.6 2373.0 441.5 2373.0 444.3 2373.0 447.2 2373.0 450.1 2373.0 452.9 2373.0 455.8 2373.0 458.6 2373.0 461.5 2373.0 464.3 2373.0 467.2 2373.0 470.0 2373.0 472.9 2373.0 475.7 2373.0 478.6 2373.0 481.4 2373.0 484.3 2373.0 487.1 2373.0 490.0 2373.0 492.8 2373.0 495.7 2373.0 498.5 2373.0 501.4 2373.0 504.2 2373.0 507.1 2373.0 510.0 2373.0 512.8 2373.0 515.7 2373.0 518.5 2373.0 521.4 2373.0 524.2 2373.0 527.1 2373.0 529.9 2373.0 532.8 2373.0 535.6 2373.0 538.5 2373.0 541.3 2373.0 544.2 2373.0 547.0 2373.0 549.9 2373.0 552.7 2373.0 555.6 2373.0 558.4 2373.0 561.3 2373.0 564.2 2373.0 567.0 2373.0 569.9 2373.0 572.7 2373.0 575.6 2373.0 578.4 2373.0 581.3 2373.0 584.1 2373.0 587.0 2373.0 589.8 2373.0 592.7 2373.0 595.5 2373.0 598.4 2373.0 601.2 2373.0 604.1 2373.0 606.9 2373.0 609.8 2373.0 612.6 2373.0 615.5 2373.0 618.3 2373.0 621.2 2373.0 624.1 2373.0 626.9 2373.0 629.8 2373.0 632.6 2373.0 635.5 2373.0 638.3 2373.0 641.2 2373.0 644.0 2373.0 646.9 2373.0 649.7 2373.0 652.6 2373.0 655.4 2373.0 658.3 2373.0 661.1 2373.0 664.0 2373.0 666.8 2373.0 669.7 2373.0 672.5 2373.0 675.4 2373.0 678.3 2373.0 681.1 2373.0 684.0 2373.0 686.8 2373.0 689.7 2373.0 692.5 2373.0 695.4 2373.0 698.2 2373.0 701.1 2373.0 703.9 2373.0 706.8 2373.0 709.6 2373.0 712.5 2373.0 715.3 2373.0 718.2 2373.0 721.0 2373.0 723.9 2373.0 726.7 2373.0 729.6 2373.0 732.4 2373.0 735.3 2373.0 738.2 2373.0 741.0 2373.0 743.9 2373.0 746.7 2373.0 749.6 2373.0 752.4 2373.0 755.3 2373.0 758.1 2373.0 761.0 2373.0 763.8 2373.0 766.7 2373.0 769.5 2373.0 772.4 2373.0 775.2 2373.0 778.1 2373.0 780.9 2373.0 783.8 2373.0 786.6 2373.0 789.5 2373.0 792.4 2373.0 795.2 2373.0 798.1 2373.0 800.9 2373.0 803.8 2373.0 806.6 2373.0 809.5 2373.0 812.3 2373.0 815.2 2373.0 818.0 2373.0 820.9 2373.0 823.7 2373.0 826.6 2373.0 829.4 2373.0 832.3 2373.0 835.1 2373.0 838.0 2373.0 840.8 2373.0 843.7 2373.0 846.5 2373.0 849.4 2373.0 852.3 2373.0 855.1 2373.0 858.0 2373.0 860.8 2373.0 863.7 2373.0 866.5 2373.0 869.4 2373.0 872.2 2373.0 875.1 2373.0 877.9 2373.0 880.8 2373.0 883.6 2373.0 886.5 2373.0 889.3 2373.0 892.2 2373.0 895.0 2373.0 897.9 2373.0 900.7 2372.9 903.6 2372.9 906.5 2372.9 909.3 2372.9 912.2 2372.9 915.0 2372.9 917.9 2372.9 920.7 2372.9 923.6 2372.9 926.4 2372.9 929.3 2372.9 932.1 2372.9 935.0 2372.9 937.8 2372.8 940.7 2372.8 943.5 2372.8 946.4 2372.8 949.2 2372.8 952.1 2372.8 954.9 2372.7 957.8 2372.7 960.6 2372.7 963.5 2372.7 966.4 2372.6 969.2 2372.6 972.1 2372.6 974.9 2372.5 977.8 2372.5 980.6 2372.5 983.5 2372.4 986.3 2372.4 989.2 2372.3 992.0 2372.3 994.9 2372.2 997.7 2372.1 1000.6 2372.1 1003.4 2372.0 1006.3 2371.9 1009.1 2371.9 1012.0 2371.8 1014.8 2371.7 1017.7 2371.6 1020.6 2371.5 1023.4 2371.4 1026.3 2371.2 1029.1 2371.1 1032.0 2371.0 1034.8 2370.9 1037.7 2370.7 1040.5 2370.5 1043.4 2370.4 1046.2 2370.2 1049.1 2370.0 1051.9 2369.8 1054.8 2369.6 1057.6 2369.4 1060.5 2369.1 1063.3 2368.9 1066.2 2368.6 1069.0 2368.3 1071.9 2368.1 1074.7 2367.7 1077.6 2367.4 1080.5 2367.1 1083.3 2366.7 1086.2 2366.3 1089.0 2365.9 1091.9 2365.5 1094.7 2365.1 1097.6 2364.6 1100.4 2364.1 1103.3 2363.6 1106.1 2363.1 1109.0 2362.6 1111.8 2362.0 1114.7 2361.4 1117.5 2360.7 1120.4 2360.1 1123.2 2359.4 1126.1 2358.7 1128.9 2357.9 1131.8 2357.2 1134.7 2356.4 1137.5 2355.5 1140.4 2354.6 1143.2 2353.7 1146.1 2352.8 1148.9 2351.8 1151.8 2350.8 1154.6 2349.8 1157.5 2348.7 1160.3 2347.5 1163.2 2346.4 1166.0 2345.2 1168.9 2343.9 1171.7 2342.7 1174.6 2341.3 1177.4 2340.0 1180.3 2338.6 1183.1 2337.1 1186.0 2335.6 1188.8 2334.1 1191.7 2332.6 1194.6 2330.9 1197.4 2329.3 1200.3 2327.6 1203.1 2325.9 1206.0 2324.1 1208.8 2322.3 1211.7 2320.4 1214.5 2318.5 1217.4 2316.6 1220.2 2314.6 1223.1 2312.6 1225.9 2310.6 1228.8 2308.5 1231.6 2306.3 1234.5 2304.2 1237.3 2302.0 1240.2 2299.8 1243.0 2297.5 1245.9 2295.2 1248.8 2292.9 1251.6 2290.6 1254.5 2288.2 1257.3 2285.9 1260.2 2283.5 1263.0 2281.0 1265.9 2278.6 1268.7 2276.1 1271.6 2273.7 1274.4 2271.2 1277.3 2268.7 1280.1 2266.2 1283.0 2263.7 1285.8 2261.2 1288.7 2258.7 1291.5 2256.2 1294.4 2253.7 1297.2 2251.2 1300.1 2248.8 1302.9 2246.3 1305.8 2243.9 1308.7 2241.5 1311.5 2239.1 1314.4 2236.7 1317.2 2234.4 1320.1 2232.1 1322.9 2229.8 1325.8 2227.6 1328.6 2225.4 1331.5 2223.3 1334.3 2221.2 1337.2 2219.1 1340.0 2217.2 1342.9 2215.2 1345.7 2213.3 1348.6 2211.5 1351.4 2209.8 1354.3 2208.1 1357.1 2206.4 1360.0 2204.9 1362.9 2203.4 1365.7 2202.0 1368.6 2200.7 1371.4 2199.4 1374.3 2198.3 1377.1 2197.2 1380.0 2196.2 1382.8 2195.2 1385.7 2194.4 1388.5 2193.7 1391.4 2193.0 1394.2 2192.5 1397.1 2192.0 1399.9 2191.6 1402.8 2191.3 1405.6 2191.1 1408.5 2191.0 1411.3 2191.0 1414.2 2191.1 1417.0 2191.3 1419.9 2191.6 1422.8 2192.0 1425.6 2192.5 1428.5 2193.1 1431.3 2193.7 1434.2 2194.5 1437.0 2195.4 1439.9 2196.4 1442.7 2197.4 1445.6 2198.6 1448.4 2199.8 1451.3 2201.2 1454.1 2202.6 1457.0 2204.1 1459.8 2205.7 1462.7 2207.3 1465.5 2209.0 1468.4 2210.8 1471.2 2212.7 1474.1 2214.6 1477.0 2216.6 1479.8 2218.7 1482.7 2220.8 1485.5 2223.0 1488.4 2225.2 1491.2 2227.5 1494.1 2229.8 1496.9 2232.1 1499.8 2234.5 1502.6 2237.0 1505.5 2239.4 1508.3 2241.9 1511.2 2244.4 1514.0 2247.0 1516.9 2249.5 1519.7 2252.1 1522.6 2254.7 1525.4 2257.2 1528.3 2259.8 1531.1 2262.4 1534.0 2265.0 1536.9 2267.6 1539.7 2270.2 1542.6 2272.8 1545.4 2275.4 1548.3 2277.9 1551.1 2280.5 1554.0 2283.0 1556.8 2285.5 1559.7 2288.0 1562.5 2290.5 1565.4 2292.9 1568.2 2295.3 1571.1 2297.7 1573.9 2300.0 1576.8 2302.3 1579.6 2304.6 1582.5 2306.8 1585.3 2309.0 1588.2 2311.2 1591.1 2313.3 1593.9 2315.4 1596.8 2317.4 1599.6 2319.4 1602.5 2321.3 1605.3 2323.3 1608.2 2325.1 1611.0 2326.9 1613.9 2328.7 1616.7 2330.4 1619.6 2332.1 1622.4 2333.8 1625.3 2335.4 1628.1 2336.9 1631.0 2338.4 1633.8 2339.9 1636.7 2341.3 1639.5 2342.7 1642.4 2344.0 1645.2 2345.3 1648.1 2346.5 1651.0 2347.7 1653.8 2348.9 1656.7 2350.0 1659.5 2351.1 1662.4 2352.1 1665.2 2353.2 1668.1 2354.1 1670.9 2355.0 1673.8 2355.9 1676.6 2356.8 1679.5 2357.6 1682.3 2358.4 1685.2 2359.2 1688.0 2359.9 1690.9 2360.6 1693.7 2361.2 1696.6 2361.9 1699.4 2362.5 1702.3 2363.1 1705.2 2363.6 1708.0 2364.1 1710.9 2364.6 1713.7 2365.1 1716.6 2365.6 1719.4 2366.0 1722.3 2366.4 1725.1 2366.8 1728.0 2367.2 1730.8 2367.5 1733.7 2367.9 1736.5 2368.2 1739.4 2368.5 1742.2 2368.7 1745.1 2369.0 1747.9 2369.3 1750.8 2369.5 1753.6 2369.7 1756.5 2369.9 1759.3 2370.1 1762.2 2370.3 1765.1 2370.5 1767.9 2370.7 1770.8 2370.8 1773.6 2371.0 1776.5 2371.1 1779.3 2371.2 1782.2 2371.4 1785.0 2371.5 1787.9 2371.6 1790.7 2371.7" fill="none" stroke="#000" stroke-width="4.6" stroke-linejoin="round"/>
<polyline points="264.6 2366.5 267.5 2366.2 270.3 2366.0 273.2 2365.7 276.0 2365.4 278.9 2365.1 281.8 2364.8 284.6 2364.5 287.5 2364.1 290.3 2363.8 293.2 2363.4 296.0 2363.0 298.9 2362.6 301.7 2362.2 304.6 2361.7 307.4 2361.3 310.3 2360.8 313.1 2360.3 316.0 2359.8 318.8 2359.2 321.7 2358.6 324.5 2358.0 327.4 2357.4 330.2 2356.8 333.1 2356.1 336.0 2355.4 338.8 2354.7 341.7 2353.9 344.5 2353.2 347.4 2352.4 350.2 2351.5 353.1 2350.7 355.9 2349.8 358.8 2348.8 361.6 2347.9 364.5 2346.9 367.3 2345.9 370.2 2344.8 373.0 2343.7 375.9 2342.6 378.7 2341.4 381.6 2340.2 384.4 2339.0 387.3 2337.7 390.1 2336.4 393.0 2335.1 395.9 2333.7 398.7 2332.3 401.6 2330.8 404.4 2329.4 407.3 2327.8 410.1 2326.3 413.0 2324.7 415.8 2323.0 418.7 2321.4 421.5 2319.6 424.4 2317.9 427.2 2316.1 430.1 2314.3 432.9 2312.4 435.8 2310.5 438.6 2308.6 441.5 2306.6 444.3 2304.6 447.2 2302.6 450.1 2300.5 452.9 2298.4 455.8 2296.3 458.6 2294.2 461.5 2292.0 464.3 2289.7 467.2 2287.5 470.0 2285.2 472.9 2282.9 475.7 2280.6 478.6 2278.2 481.4 2275.8 484.3 2273.4 487.1 2271.0 490.0 2268.5 492.8 2266.1 495.7 2263.6 498.5 2261.1 501.4 2258.6 504.2 2256.0 507.1 2253.5 510.0 2250.9 512.8 2248.3 515.7 2245.7 518.5 2243.1 521.4 2240.5 524.2 2237.9 527.1 2235.3 529.9 2232.7 532.8 2230.0 535.6 2227.4 538.5 2224.8 541.3 2222.1 544.2 2219.5 547.0 2216.8 549.9 2214.2 552.7 2211.6 555.6 2208.9 558.4 2206.3 561.3 2203.7 564.2 2201.1 567.0 2198.5 569.9 2195.9 572.7 2193.3 575.6 2190.7 578.4 2188.1 581.3 2185.5 584.1 2182.9 587.0 2180.4 589.8 2177.8 592.7 2175.3 595.5 2172.8 598.4 2170.2 601.2 2167.7 604.1 2165.2 606.9 2162.7 609.8 2160.2 612.6 2157.7 615.5 2155.2 618.3 2152.7 621.2 2150.2 624.1 2147.7 626.9 2145.2 629.8 2142.8 632.6 2140.3 635.5 2137.8 638.3 2135.3 641.2 2132.9 644.0 2130.4 646.9 2127.9 649.7 2125.4 652.6 2122.9 655.4 2120.5 658.3 2118.0 661.1 2115.5 664.0 2113.0 666.8 2110.5 669.7 2108.0 672.5 2105.5 675.4 2103.0 678.3 2100.5 681.1 2098.0 684.0 2095.5 686.8 2093.1 689.7 2090.6 692.5 2088.1 695.4 2085.7 698.2 2083.2 701.1 2080.8 703.9 2078.4 706.8 2076.0 709.6 2073.7 712.5 2071.3 715.3 2069.0 718.2 2066.7 721.0 2064.5 723.9 2062.3 726.7 2060.2 729.6 2058.1 732.4 2056.0 735.3 2054.0 738.2 2052.1 741.0 2050.2 743.9 2048.4 746.7 2046.7 749.6 2045.0 752.4 2043.5 755.3 2042.0 758.1 2040.6 761.0 2039.3 763.8 2038.1 766.7 2037.0 769.5 2036.0 772.4 2035.1 775.2 2034.3 778.1 2033.7 780.9 2033.1 783.8 2032.7 786.6 2032.4 789.5 2032.3 792.4 2032.3 795.2 2032.4 798.1 2032.6 800.9 2033.0 803.8 2033.6 806.6 2034.2 809.5 2035.1 812.3 2036.0 815.2 2037.1 818.0 2038.4 820.9 2039.8 823.7 2041.3 826.6 2043.0 829.4 2044.8 832.3 2046.7 835.1 2048.8 838.0 2050.9 840.8 2053.3 843.7 2055.7 846.5 2058.3 849.4 2061.0 852.3 2063.8 855.1 2066.7 858.0 2069.8 860.8 2072.9 863.7 2076.2 866.5 2079.5 869.4 2083.0 872.2 2086.5 875.1 2090.1 877.9 2093.8 880.8 2097.6 883.6 2101.5 886.5 2105.4 889.3 2109.4 892.2 2113.4 895.0 2117.5 897.9 2121.7 900.7 2125.9 903.6 2130.1 906.5 2134.3 909.3 2138.6 912.2 2142.9 915.0 2147.2 917.9 2151.4 920.7 2155.7 923.6 2160.0 926.4 2164.3 929.3 2168.6 932.1 2172.8 935.0 2177.0 937.8 2181.2 940.7 2185.3 943.5 2189.4 946.4 2193.5 949.2 2197.5 952.1 2201.4 954.9 2205.3 957.8 2209.1 960.6 2212.9 963.5 2216.5 966.4 2220.1 969.2 2223.6 972.1 2227.0 974.9 2230.4 977.8 2233.6 980.6 2236.8 983.5 2239.9 986.3 2242.8 989.2 2245.7 992.0 2248.5 994.9 2251.1 997.7 2253.7 1000.6 2256.1 1003.4 2258.5 1006.3 2260.7 1009.1 2262.9 1012.0 2264.9 1014.8 2266.8 1017.7 2268.6 1020.6 2270.3 1023.4 2271.9 1026.3 2273.4 1029.1 2274.8 1032.0 2276.1 1034.8 2277.2 1037.7 2278.3 1040.5 2279.3 1043.4 2280.1 1046.2 2280.9 1049.1 2281.6 1051.9 2282.2 1054.8 2282.6 1057.6 2283.0 1060.5 2283.3 1063.3 2283.5 1066.2 2283.7 1069.0 2283.7 1071.9 2283.7 1074.7 2283.5 1077.6 2283.4 1080.5 2283.1 1083.3 2282.7 1086.2 2282.3 1089.0 2281.8 1091.9 2281.3 1094.7 2280.7 1097.6 2280.0 1100.4 2279.3 1103.3 2278.5 1106.1 2277.7 1109.0 2276.8 1111.8 2275.9 1114.7 2275.0 1117.5 2273.9 1120.4 2272.9 1123.2 2271.8 1126.1 2270.7 1128.9 2269.5 1131.8 2268.3 1134.7 2267.1 1137.5 2265.9 1140.4 2264.6 1143.2 2263.3 1146.1 2262.0 1148.9 2260.7 1151.8 2259.3 1154.6 2258.0 1157.5 2256.6 1160.3 2255.2 1163.2 2253.8 1166.0 2252.3 1168.9 2250.9 1171.7 2249.5 1174.6 2248.0 1177.4 2246.6 1180.3 2245.1 1183.1 2243.6 1186.0 2242.2 1188.8 2240.7 1191.7 2239.2 1194.6 2237.8 1197.4 2236.3 1200.3 2234.8 1203.1 2233.4 1206.0 2231.9 1208.8 2230.5 1211.7 2229.1 1214.5 2227.7 1217.4 2226.3 1220.2 2224.9 1223.1 2223.5 1225.9 2222.1 1228.8 2220.8 1231.6 2219.4 1234.5 2218.1 1237.3 2216.8 1240.2 2215.5 1243.0 2214.2 1245.9 2212.9 1248.8 2211.6 1251.6 2210.4 1254.5 2209.1 1257.3 2207.9 1260.2 2206.6 1263.0 2205.4 1265.9 2204.2 1268.7 2203.0 1271.6 2201.8 1274.4 2200.6 1277.3 2199.4 1280.1 2198.3 1283.0 2197.2 1285.8 2196.0 1288.7 2194.9 1291.5 2193.8 1294.4 2192.7 1297.2 2191.7 1300.1 2190.6 1302.9 2189.6 1305.8 2188.6 1308.7 2187.6 1311.5 2186.6 1314.4 2185.7 1317.2 2184.7 1320.1 2183.8 1322.9 2183.0 1325.8 2182.1 1328.6 2181.3 1331.5 2180.5 1334.3 2179.7 1337.2 2179.0 1340.0 2178.3 1342.9 2177.7 1345.7 2177.1 1348.6 2176.5 1351.4 2176.0 1354.3 2175.5 1357.1 2175.1 1360.0 2174.7 1362.9 2174.3 1365.7 2174.0 1368.6 2173.8 1371.4 2173.6 1374.3 2173.4 1377.1 2173.4 1380.0 2173.4 1382.8 2173.4 1385.7 2173.5 1388.5 2173.6 1391.4 2173.9 1394.2 2174.2 1397.1 2174.5 1399.9 2174.9 1402.8 2175.4 1405.6 2176.0 1408.5 2176.6 1411.3 2177.3 1414.2 2178.0 1417.0 2178.9 1419.9 2179.8 1422.8 2180.8 1425.6 2181.8 1428.5 2183.0 1431.3 2184.2 1434.2 2185.5 1437.0 2186.8 1439.9 2188.3 1442.7 2189.8 1445.6 2191.4 1448.4 2193.0 1451.3 2194.7 1454.1 2196.5 1457.0 2198.4 1459.8 2200.3 1462.7 2202.2 1465.5 2204.3 1468.4 2206.4 1471.2 2208.5 1474.1 2210.7 1477.0 2212.9 1479.8 2215.2 1482.7 2217.6 1485.5 2219.9 1488.4 2222.4 1491.2 2224.8 1494.1 2227.3 1496.9 2229.8 1499.8 2232.4 1502.6 2234.9 1505.5 2237.5 1508.3 2240.2 1511.2 2242.8 1514.0 2245.4 1516.9 2248.1 1519.7 2250.8 1522.6 2253.4 1525.4 2256.1 1528.3 2258.8 1531.1 2261.5 1534.0 2264.1 1536.9 2266.8 1539.7 2269.5 1542.6 2272.1 1545.4 2274.7 1548.3 2277.3 1551.1 2279.9 1554.0 2282.5 1556.8 2285.0 1559.7 2287.6 1562.5 2290.1 1565.4 2292.5 1568.2 2294.9 1571.1 2297.3 1573.9 2299.7 1576.8 2302.0 1579.6 2304.3 1582.5 2306.6 1585.3 2308.8 1588.2 2311.0 1591.1 2313.1 1593.9 2315.2 1596.8 2317.3 1599.6 2319.3 1602.5 2321.2 1605.3 2323.2 1608.2 2325.0 1611.0 2326.9 1613.9 2328.6 1616.7 2330.4 1619.6 2332.1 1622.4 2333.7 1625.3 2335.3 1628.1 2336.9 1631.0 2338.4 1633.8 2339.8 1636.7 2341.3 1639.5 2342.6 1642.4 2344.0 1645.2 2345.3 1648.1 2346.5 1651.0 2347.7 1653.8 2348.9 1656.7 2350.0 1659.5 2351.1 1662.4 2352.1 1665.2 2353.1 1668.1 2354.1 1670.9 2355.0 1673.8 2355.9 1676.6 2356.8 1679.5 2357.6 1682.3 2358.4 1685.2 2359.2 1688.0 2359.9 1690.9 2360.6 1693.7 2361.2 1696.6 2361.9 1699.4 2362.5 1702.3 2363.1 1705.2 2363.6 1708.0 2364.1 1710.9 2364.6 1713.7 2365.1 1716.6 2365.6 1719.4 2366.0 1722.3 2366.4 1725.1 2366.8 1728.0 2367.2 1730.8 2367.5 1733.7 2367.9 1736.5 2368.2 1739.4 2368.5 1742.2 2368.7 1745.1 2369.0 1747.9 2369.3 1750.8 2369.5 1753.6 2369.7 1756.5 2369.9 1759.3 2370.1 1762.2 2370.3 1765.1 2370.5 1767.9 2370.7 1770.8 2370.8 1773.6 2371.0 1776.5 2371.1 1779.3 2371.2 1782.2 2371.4 1785.0 2371.5 1787.9 2371.6 1790.7 2371.7" fill="none" stroke="#000" stroke-width="5" stroke-linejoin="round"/>
<polyline points="264.6 2363.5 268.6 2359.2 272.6 2354.9 276.6 2362.1 280.6 2357.7 284.6 2355.0 288.6 2356.1 292.6 2375.5 296.6 2360.8 300.6 2358.7 304.6 2363.6 308.6 2348.3 312.6 2340.3 316.6 2359.0 320.5 2346.2 324.5 2356.5 328.5 2355.2 332.5 2354.4 336.5 2352.9 340.5 2366.8 344.5 2350.1 348.5 2340.9 352.5 2344.9 356.5 2340.6 360.5 2346.4 364.5 2350.8 368.5 2342.9 372.5 2345.1 376.5 2334.7 380.4 2312.7 384.4 2327.8 388.4 2330.6 392.4 2328.3 396.4 2329.1 400.4 2323.8 404.4 2321.1 408.4 2331.4 412.4 2325.5 416.4 2308.7 420.4 2304.5 424.4 2315.3 428.4 2313.6 432.4 2313.2 436.4 2314.3 440.4 2261.8 444.3 2301.3 448.3 2297.3 452.3 2286.8 456.3 2280.6 460.3 2293.9 464.3 2281.6 468.3 2280.5 472.3 2278.4 476.3 2274.7 480.3 2273.9 484.3 2262.6 488.3 2264.0 492.3 2261.9 496.3 2254.0 500.3 2252.2 504.2 2250.8 508.2 2247.8 512.2 2237.2 516.2 2239.7 520.2 2229.7 524.2 2239.1 528.2 2232.9 532.2 2232.7 536.2 2223.3 540.2 2218.9 544.2 2227.2 548.2 2212.7 552.2 2205.9 556.2 2204.6 560.2 2206.4 564.2 2191.8 568.1 2197.8 572.1 2196.8 576.1 2192.4 580.1 2177.6 584.1 2175.1 588.1 2170.6 592.1 2156.9 596.1 2164.1 600.1 2168.9 604.1 2166.6 608.1 2159.5 612.1 2163.9 616.1 2151.1 620.1 2145.0 624.1 2145.4 628.0 2139.0 632.0 2142.4 636.0 2136.9 640.0 2134.0 644.0 2121.7 648.0 2105.3 652.0 2122.7 656.0 2111.1 660.0 2115.1 664.0 2102.6 668.0 2104.1 672.0 2105.2 676.0 2095.6 680.0 2083.9 684.0 2088.1 687.9 2096.2 691.9 2037.0 695.9 2082.4 699.9 2079.2 703.9 2077.4 707.9 2065.0 711.9 2070.9 715.9 2069.1 719.9 2056.3 723.9 2052.3 727.9 2054.7 731.9 2046.1 735.9 2053.6 739.9 2044.9 743.9 2009.0 747.9 2035.4 751.8 2047.5 755.8 2035.4 759.8 2010.2 763.8 2028.6 767.8 2033.9 771.8 2022.3 775.8 2034.4 779.8 2043.9 783.8 2035.2 787.8 2032.3 791.8 2034.3 795.8 2023.5 799.8 2023.3 803.8 2029.2 807.8 2036.6 811.7 2033.4 815.7 2037.7 819.7 2029.1 823.7 2036.8 827.7 2038.3 831.7 2045.3 835.7 2056.0 839.7 2053.1 843.7 2058.2 847.7 2046.1 851.7 2059.7 855.7 2068.2 859.7 2070.5 863.7 2065.5 867.7 2082.6 871.7 2087.3 875.6 2089.0 879.6 2096.5 883.6 2100.6 887.6 2092.7 891.6 2094.4 895.6 2124.1 899.6 2121.3 903.6 2126.9 907.6 2133.4 911.6 2139.9 915.6 2146.7 919.6 2146.1 923.6 2159.3 927.6 2163.6 931.6 2169.0 935.5 2174.3 939.5 2181.5 943.5 2181.5 947.5 2178.6 951.5 2196.8 955.5 2203.3 959.5 2213.3 963.5 2217.6 967.5 2223.7 971.5 2222.4 975.5 2231.5 979.5 2237.7 983.5 2235.7 987.5 2238.4 991.5 2253.5 995.4 2240.4 999.4 2252.0 1003.4 2256.0 1007.4 2253.4 1011.4 2261.1 1015.4 2267.1 1019.4 2255.9 1023.4 2274.2 1027.4 2271.5 1031.4 2268.7 1035.4 2279.7 1039.4 2276.4 1043.4 2274.1 1047.4 2274.8 1051.4 2283.4 1055.4 2280.0 1059.3 2277.0 1063.3 2280.1 1067.3 2286.6 1071.3 2278.7 1075.3 2280.0 1079.3 2278.0 1083.3 2274.2 1087.3 2274.2 1091.3 2276.4 1095.3 2276.1 1099.3 2282.0 1103.3 2276.2 1107.3 2273.3 1111.3 2275.1 1115.3 2271.3 1119.2 2274.4 1123.2 2261.3 1127.2 2256.7 1131.2 2267.5 1135.2 2261.9 1139.2 2263.3 1143.2 2237.9 1147.2 2256.3 1151.2 2256.2 1155.2 2255.8 1159.2 2252.1 1163.2 2274.6 1167.2 2245.5 1171.2 2250.3 1175.2 2242.1 1179.1 2242.1 1183.1 2235.3 1187.1 2219.0 1191.1 2231.5 1195.1 2235.0 1199.1 2229.4 1203.1 2231.5 1207.1 2227.4 1211.1 2226.0 1215.1 2219.8 1219.1 2232.3 1223.1 2218.9 1227.1 2225.9 1231.1 2210.8 1235.1 2224.5 1239.1 2217.9 1243.0 2219.4 1247.0 2201.4 1251.0 2213.9 1255.0 2205.3 1259.0 2206.7 1263.0 2201.9 1267.0 2202.4 1271.0 2195.8 1275.0 2198.3 1279.0 2197.4 1283.0 2189.4 1287.0 2192.5 1291.0 2192.9 1295.0 2187.8 1299.0 2175.8 1302.9 2162.2 1306.9 2184.2 1310.9 2179.1 1314.9 2186.2 1318.9 2174.0 1322.9 2185.4 1326.9 2183.3 1330.9 2178.1 1334.9 2176.4 1338.9 2166.0 1342.9 2186.3 1346.9 2172.1 1350.9 2169.6 1354.9 2177.9 1358.9 2175.0 1362.9 2169.2 1366.8 2193.2 1370.8 2175.1 1374.8 2172.2 1378.8 2165.6 1382.8 2162.9 1386.8 2172.2 1390.8 2183.1 1394.8 2164.1 1398.8 2186.6 1402.8 2166.9 1406.8 2173.4 1410.8 2176.0 1414.8 2177.4 1418.8 2169.2 1422.8 2170.7 1426.7 2189.7 1430.7 2176.6 1434.7 2174.0 1438.7 2186.5 1442.7 2193.4 1446.7 2189.0 1450.7 2191.9 1454.7 2194.4 1458.7 2198.8 1462.7 2200.8 1466.7 2204.3 1470.7 2240.2 1474.7 2212.1 1478.7 2212.7 1482.7 2215.3 1486.6 2201.0 1490.6 2219.5 1494.6 2225.3 1498.6 2225.7 1502.6 2246.3 1506.6 2230.3 1510.6 2236.8 1514.6 2216.5 1518.6 2240.1 1522.6 2250.6 1526.6 2256.2 1530.6 2253.6 1534.6 2259.1 1538.6 2265.9 1542.6 2276.3 1546.6 2281.8 1550.5 2274.7 1554.5 2276.2 1558.5 2279.6 1562.5 2293.4 1566.5 2285.4 1570.5 2282.7 1574.5 2297.2 1578.5 2298.4 1582.5 2307.5 1586.5 2309.6 1590.5 2319.9 1594.5 2317.1 1598.5 2324.3 1602.5 2316.1 1606.5 2320.6 1610.4 2319.0 1614.4 2318.7 1618.4 2326.2 1622.4 2320.1 1626.4 2334.9 1630.4 2332.1 1634.4 2318.7 1638.4 2343.9 1642.4 2341.0 1646.4 2341.1 1650.4 2346.0 1654.4 2349.4 1658.4 2347.9 1662.4 2350.9 1666.4 2352.2 1670.4 2362.9 1674.3 2353.7 1678.3 2356.4 1682.3 2366.0 1686.3 2355.0 1690.3 2354.5 1694.3 2362.0 1698.3 2361.1 1702.3 2364.8 1706.3 2357.1 1710.3 2351.1 1714.3 2363.7 1718.3 2349.5 1722.3 2363.2 1726.3 2375.5 1730.3 2365.2 1734.2 2370.7 1738.2 2365.5 1742.2 2363.8 1746.2 2371.1 1750.2 2375.5 1754.2 2351.9 1758.2 2361.8 1762.2 2375.1 1766.2 2372.4 1770.2 2375.5 1774.2 2362.8 1778.2 2365.2 1782.2 2364.9 1786.2 2372.8 1790.2 2374.4" fill="none" stroke="#000" stroke-width="4.2" stroke-linejoin="round"/>
<line x1="128.7" y1="2923.6" x2="128.7" y2="3785" stroke="#000" stroke-width="4"/>
<line x1="126.69999999999999" y1="3352.5" x2="1957.1" y2="3352.5" stroke="#000" stroke-width="4"/>
<line x1="130.0" y1="3352.5" x2="130.0" y2="3378.5" stroke="#000" stroke-width="3.4"/>
<line x1="244.1" y1="3352.5" x2="244.1" y2="3366.5" stroke="#000" stroke-width="3.4"/>
<line x1="358.2" y1="3352.5" x2="358.2" y2="3378.5" stroke="#000" stroke-width="3.4"/>
<line x1="472.3" y1="3352.5" x2="472.3" y2="3366.5" stroke="#000" stroke-width="3.4"/>
<line x1="586.4" y1="3352.5" x2="586.4" y2="3378.5" stroke="#000" stroke-width="3.4"/>
<line x1="700.5" y1="3352.5" x2="700.5" y2="3366.5" stroke="#000" stroke-width="3.4"/>
<line x1="814.6" y1="3352.5" x2="814.6" y2="3378.5" stroke="#000" stroke-width="3.4"/>
<line x1="928.7" y1="3352.5" x2="928.7" y2="3366.5" stroke="#000" stroke-width="3.4"/>
<line x1="1042.8" y1="3352.5" x2="1042.8" y2="3378.5" stroke="#000" stroke-width="3.4"/>
<line x1="1156.9" y1="3352.5" x2="1156.9" y2="3366.5" stroke="#000" stroke-width="3.4"/>
<line x1="1271.0" y1="3352.5" x2="1271.0" y2="3378.5" stroke="#000" stroke-width="3.4"/>
<line x1="1385.1" y1="3352.5" x2="1385.1" y2="3366.5" stroke="#000" stroke-width="3.4"/>
<line x1="1499.2" y1="3352.5" x2="1499.2" y2="3378.5" stroke="#000" stroke-width="3.4"/>
<line x1="1613.3" y1="3352.5" x2="1613.3" y2="3366.5" stroke="#000" stroke-width="3.4"/>
<line x1="1727.4" y1="3352.5" x2="1727.4" y2="3378.5" stroke="#000" stroke-width="3.4"/>
<line x1="1841.5" y1="3352.5" x2="1841.5" y2="3366.5" stroke="#000" stroke-width="3.4"/>
<line x1="1955.6" y1="3352.5" x2="1955.6" y2="3378.5" stroke="#000" stroke-width="3.4"/>
<line x1="126.69999999999999" y1="3783" x2="1957.1" y2="3783" stroke="#000" stroke-width="4"/>
<line x1="130.0" y1="3783" x2="130.0" y2="3809" stroke="#000" stroke-width="3.4"/>
<line x1="244.1" y1="3783" x2="244.1" y2="3797" stroke="#000" stroke-width="3.4"/>
<line x1="358.2" y1="3783" x2="358.2" y2="3809" stroke="#000" stroke-width="3.4"/>
<line x1="472.3" y1="3783" x2="472.3" y2="3797" stroke="#000" stroke-width="3.4"/>
<line x1="586.4" y1="3783" x2="586.4" y2="3809" stroke="#000" stroke-width="3.4"/>
<line x1="700.5" y1="3783" x2="700.5" y2="3797" stroke="#000" stroke-width="3.4"/>
<line x1="814.6" y1="3783" x2="814.6" y2="3809" stroke="#000" stroke-width="3.4"/>
<line x1="928.7" y1="3783" x2="928.7" y2="3797" stroke="#000" stroke-width="3.4"/>
<line x1="1042.8" y1="3783" x2="1042.8" y2="3809" stroke="#000" stroke-width="3.4"/>
<line x1="1156.9" y1="3783" x2="1156.9" y2="3797" stroke="#000" stroke-width="3.4"/>
<line x1="1271.0" y1="3783" x2="1271.0" y2="3809" stroke="#000" stroke-width="3.4"/>
<line x1="1385.1" y1="3783" x2="1385.1" y2="3797" stroke="#000" stroke-width="3.4"/>
<line x1="1499.2" y1="3783" x2="1499.2" y2="3809" stroke="#000" stroke-width="3.4"/>
<line x1="1613.3" y1="3783" x2="1613.3" y2="3797" stroke="#000" stroke-width="3.4"/>
<line x1="1727.4" y1="3783" x2="1727.4" y2="3809" stroke="#000" stroke-width="3.4"/>
<line x1="1841.5" y1="3783" x2="1841.5" y2="3797" stroke="#000" stroke-width="3.4"/>
<line x1="1955.6" y1="3783" x2="1955.6" y2="3809" stroke="#000" stroke-width="3.4"/>
<line x1="285.2" y1="3347.5" x2="1888.3" y2="3347.5" stroke="#000" stroke-width="6"/>
<line x1="895" y1="3341" x2="1143" y2="3341" stroke="#888" stroke-width="3"/>
<line x1="942" y1="3342" x2="1108" y2="3342" stroke="#111" stroke-width="5"/>
<polyline points="285.2 3336.7 288.0 3336.5 290.9 3336.4 293.7 3336.2 296.6 3336.0 299.4 3335.8 302.3 3335.7 305.1 3335.5 308.0 3335.3 310.8 3335.1 313.7 3334.9 316.6 3334.6 319.4 3334.4 322.3 3334.2 325.1 3333.9 328.0 3333.7 330.8 3333.4 333.7 3333.1 336.5 3332.8 339.4 3332.5 342.2 3332.2 345.1 3331.9 347.9 3331.6 350.8 3331.2 353.6 3330.9 356.5 3330.5 359.3 3330.1 362.2 3329.7 365.0 3329.3 367.9 3328.8 370.8 3328.3 373.6 3327.8 376.5 3327.3 379.3 3326.8 382.2 3326.2 385.0 3325.7 387.9 3325.1 390.7 3324.4 393.6 3323.8 396.4 3323.1 399.3 3322.4 402.1 3321.6 405.0 3320.8 407.8 3320.0 410.7 3319.2 413.5 3318.3 416.4 3317.3 419.2 3316.4 422.1 3315.4 424.9 3314.3 427.8 3313.2 430.7 3312.1 433.5 3310.9 436.4 3309.7 439.2 3308.4 442.1 3307.1 444.9 3305.7 447.8 3304.2 450.6 3302.7 453.5 3301.2 456.3 3299.6 459.2 3297.9 462.0 3296.1 464.9 3294.3 467.7 3292.5 470.6 3290.5 473.4 3288.5 476.3 3286.5 479.1 3284.3 482.0 3282.1 484.9 3279.8 487.7 3277.5 490.6 3275.0 493.4 3272.5 496.3 3269.9 499.1 3267.2 502.0 3264.5 504.8 3261.6 507.7 3258.7 510.5 3255.7 513.4 3252.7 516.2 3249.5 519.1 3246.3 521.9 3242.9 524.8 3239.5 527.6 3236.0 530.5 3232.5 533.3 3228.8 536.2 3225.1 539.0 3221.3 541.9 3217.4 544.8 3213.4 547.6 3209.3 550.5 3205.2 553.3 3201.0 556.2 3196.7 559.0 3192.4 561.9 3188.0 564.7 3183.5 567.6 3178.9 570.4 3174.3 573.3 3169.7 576.1 3164.9 579.0 3160.2 581.8 3155.4 584.7 3150.5 587.5 3145.6 590.4 3140.6 593.2 3135.7 596.1 3130.7 599.0 3125.6 601.8 3120.6 604.7 3115.5 607.5 3110.4 610.4 3105.4 613.2 3100.3 616.1 3095.2 618.9 3090.2 621.8 3085.2 624.6 3080.2 627.5 3075.2 630.3 3070.3 633.2 3065.4 636.0 3060.6 638.9 3055.8 641.7 3051.2 644.6 3046.6 647.4 3042.0 650.3 3037.6 653.1 3033.3 656.0 3029.1 658.9 3025.0 661.7 3021.1 664.6 3017.3 667.4 3013.6 670.3 3010.1 673.1 3006.7 676.0 3003.6 678.8 3000.6 681.7 2997.7 684.5 2995.1 687.4 2992.7 690.2 2990.5 693.1 2988.4 695.9 2986.6 698.8 2985.1 701.6 2983.7 704.5 2982.6 707.3 2981.7 710.2 2981.1 713.1 2980.7 715.9 2980.5 718.8 2980.6 721.6 2980.8 724.5 2981.3 727.3 2981.9 730.2 2982.7 733.0 2983.8 735.9 2985.0 738.7 2986.4 741.6 2988.0 744.4 2989.8 747.3 2991.7 750.1 2993.9 753.0 2996.2 755.8 2998.7 758.7 3001.3 761.5 3004.1 764.4 3007.1 767.2 3010.2 770.1 3013.5 773.0 3016.9 775.8 3020.5 778.7 3024.2 781.5 3028.0 784.4 3031.9 787.2 3036.0 790.1 3040.2 792.9 3044.4 795.8 3048.8 798.6 3053.3 801.5 3057.8 804.3 3062.5 807.2 3067.2 810.0 3072.0 812.9 3076.8 815.7 3081.7 818.6 3086.7 821.4 3091.7 824.3 3096.7 827.2 3101.8 830.0 3106.9 832.9 3112.0 835.7 3117.1 838.6 3122.3 841.4 3127.4 844.3 3132.5 847.1 3137.7 850.0 3142.8 852.8 3147.9 855.7 3152.9 858.5 3158.0 861.4 3163.0 864.2 3168.0 867.1 3172.9 869.9 3177.8 872.8 3182.6 875.6 3187.4 878.5 3192.2 881.3 3196.8 884.2 3201.4 887.1 3206.0 889.9 3210.5 892.8 3214.9 895.6 3219.2 898.5 3223.5 901.3 3227.6 904.2 3231.7 907.0 3235.8 909.9 3239.7 912.7 3243.5 915.6 3247.3 918.4 3251.0 921.3 3254.6 924.1 3258.1 927.0 3261.5 929.8 3264.9 932.7 3268.1 935.5 3271.3 938.4 3274.4 941.3 3277.4 944.1 3280.3 947.0 3283.1 949.8 3285.8 952.7 3288.5 955.5 3291.0 958.4 3293.5 961.2 3295.9 964.1 3298.2 966.9 3300.5 969.8 3302.6 972.6 3304.7 975.5 3306.7 978.3 3308.7 981.2 3310.5 984.0 3312.3 986.9 3314.0 989.7 3315.7 992.6 3317.3 995.4 3318.8 998.3 3320.3 1001.2 3321.7 1004.0 3323.0 1006.9 3324.3 1009.7 3325.5 1012.6 3326.7 1015.4 3327.8 1018.3 3328.9 1021.1 3329.9 1024.0 3330.9 1026.8 3331.8 1029.7 3332.7 1032.5 3333.6 1035.4 3334.4 1038.2 3335.1 1041.1 3335.9 1043.9 3336.6 1046.8 3337.2 1049.6 3337.8 1052.5 3338.4 1055.4 3339.0 1058.2 3339.5 1061.1 3340.0 1063.9 3340.5 1066.8 3340.9 1069.6 3341.3 1072.5 3341.7 1075.3 3342.1 1078.2 3342.4 1081.0 3342.8 1083.9 3343.1 1086.7 3343.4 1089.6 3343.7 1092.4 3343.9 1095.3 3344.2 1098.1 3344.4 1101.0 3344.6 1103.8 3344.8 1106.7 3345.0 1109.5 3345.2 1112.4 3345.3 1115.3 3345.5 1118.1 3345.6 1121.0 3345.8 1123.8 3345.9 1126.7 3346.0 1129.5 3346.1 1132.4 3346.2 1135.2 3346.3 1138.1 3346.4 1140.9 3346.5 1143.8 3346.6 1146.6 3346.6 1149.5 3346.7 1152.3 3346.8 1155.2 3346.8 1158.0 3346.9 1160.9 3346.9 1163.7 3347.0 1166.6 3347.0 1169.5 3347.1 1172.3 3347.1 1175.2 3347.1 1178.0 3347.2 1180.9 3347.2 1183.7 3347.2 1186.6 3347.2 1189.4 3347.3 1192.3 3347.3 1195.1 3347.3 1198.0 3347.3 1200.8 3347.3 1203.7 3347.3 1206.5 3347.4 1209.4 3347.4 1212.2 3347.4 1215.1 3347.4 1217.9 3347.4 1220.8 3347.4 1223.6 3347.4 1226.5 3347.4 1229.4 3347.4 1232.2 3347.4 1235.1 3347.4 1237.9 3347.5 1240.8 3347.5 1243.6 3347.5 1246.5 3347.5 1249.3 3347.5 1252.2 3347.5 1255.0 3347.5 1257.9 3347.5 1260.7 3347.5 1263.6 3347.5 1266.4 3347.5 1269.3 3347.5 1272.1 3347.5 1275.0 3347.5 1277.8 3347.5 1280.7 3347.5 1283.6 3347.5 1286.4 3347.5 1289.3 3347.5 1292.1 3347.5 1295.0 3347.5 1297.8 3347.5 1300.7 3347.5 1303.5 3347.5 1306.4 3347.5 1309.2 3347.5 1312.1 3347.5 1314.9 3347.5 1317.8 3347.5 1320.6 3347.5 1323.5 3347.5 1326.3 3347.5 1329.2 3347.5 1332.0 3347.5 1334.9 3347.5 1337.7 3347.5 1340.6 3347.5 1343.5 3347.5 1346.3 3347.5 1349.2 3347.5 1352.0 3347.5 1354.9 3347.5 1357.7 3347.5 1360.6 3347.5 1363.4 3347.5 1366.3 3347.5 1369.1 3347.5 1372.0 3347.5 1374.8 3347.5 1377.7 3347.5 1380.5 3347.5 1383.4 3347.5 1386.2 3347.5 1389.1 3347.5 1391.9 3347.5 1394.8 3347.5 1397.7 3347.5 1400.5 3347.5 1403.4 3347.5 1406.2 3347.5 1409.1 3347.5 1411.9 3347.5 1414.8 3347.5 1417.6 3347.5 1420.5 3347.5 1423.3 3347.5 1426.2 3347.5 1429.0 3347.5 1431.9 3347.5 1434.7 3347.5 1437.6 3347.5 1440.4 3347.5 1443.3 3347.5 1446.1 3347.5 1449.0 3347.5 1451.8 3347.5 1454.7 3347.5 1457.6 3347.5 1460.4 3347.5 1463.3 3347.5 1466.1 3347.5 1469.0 3347.5 1471.8 3347.5 1474.7 3347.5 1477.5 3347.5 1480.4 3347.5 1483.2 3347.5 1486.1 3347.5 1488.9 3347.5 1491.8 3347.5 1494.6 3347.5 1497.5 3347.5 1500.3 3347.5 1503.2 3347.5 1506.0 3347.5 1508.9 3347.5 1511.8 3347.5 1514.6 3347.5 1517.5 3347.5 1520.3 3347.5 1523.2 3347.5 1526.0 3347.5 1528.9 3347.5 1531.7 3347.5 1534.6 3347.5 1537.4 3347.5 1540.3 3347.5 1543.1 3347.5 1546.0 3347.5 1548.8 3347.5 1551.7 3347.5 1554.5 3347.5 1557.4 3347.5 1560.2 3347.5 1563.1 3347.5 1565.9 3347.5 1568.8 3347.5 1571.7 3347.5 1574.5 3347.5 1577.4 3347.5 1580.2 3347.5 1583.1 3347.5 1585.9 3347.5 1588.8 3347.5 1591.6 3347.5 1594.5 3347.5 1597.3 3347.5 1600.2 3347.5 1603.0 3347.5 1605.9 3347.5 1608.7 3347.5 1611.6 3347.5 1614.4 3347.5 1617.3 3347.5 1620.1 3347.5 1623.0 3347.5 1625.9 3347.5 1628.7 3347.5 1631.6 3347.5 1634.4 3347.5 1637.3 3347.5 1640.1 3347.5 1643.0 3347.5 1645.8 3347.5 1648.7 3347.5 1651.5 3347.5 1654.4 3347.5 1657.2 3347.5 1660.1 3347.5 1662.9 3347.5 1665.8 3347.5 1668.6 3347.5 1671.5 3347.5 1674.3 3347.5 1677.2 3347.5 1680.0 3347.5 1682.9 3347.5 1685.8 3347.5 1688.6 3347.5 1691.5 3347.5 1694.3 3347.5 1697.2 3347.5 1700.0 3347.5 1702.9 3347.5 1705.7 3347.5 1708.6 3347.5 1711.4 3347.5 1714.3 3347.5 1717.1 3347.5 1720.0 3347.5 1722.8 3347.5 1725.7 3347.5 1728.5 3347.5 1731.4 3347.5 1734.2 3347.5 1737.1 3347.5 1740.0 3347.5 1742.8 3347.5 1745.7 3347.5 1748.5 3347.5 1751.4 3347.5 1754.2 3347.5 1757.1 3347.5 1759.9 3347.5 1762.8 3347.5 1765.6 3347.5 1768.5 3347.5 1771.3 3347.5 1774.2 3347.5 1777.0 3347.5 1779.9 3347.5 1782.7 3347.5 1785.6 3347.5 1788.4 3347.5 1791.3 3347.5 1794.1 3347.5 1797.0 3347.5 1799.9 3347.5 1802.7 3347.5 1805.6 3347.5 1808.4 3347.5 1811.3 3347.5 1814.1 3347.5 1817.0 3347.5 1819.8 3347.5 1822.7 3347.5 1825.5 3347.5 1828.4 3347.5 1831.2 3347.5 1834.1 3347.5 1836.9 3347.5 1839.8 3347.5 1842.6 3347.5 1845.5 3347.5 1848.3 3347.5 1851.2 3347.5 1854.1 3347.5 1856.9 3347.5 1859.8 3347.5 1862.6 3347.5 1865.5 3347.5 1868.3 3347.5 1871.2 3347.5 1874.0 3347.5 1876.9 3347.5 1879.7 3347.5 1882.6 3347.5 1885.4 3347.5 1888.3 3347.5" fill="none" stroke="#000" stroke-width="4.6" stroke-linejoin="round"/>
<polyline points="285.2 3347.5 288.0 3347.5 290.9 3347.5 293.7 3347.5 296.6 3347.5 299.4 3347.5 302.3 3347.5 305.1 3347.5 308.0 3347.5 310.8 3347.5 313.7 3347.5 316.6 3347.5 319.4 3347.5 322.3 3347.5 325.1 3347.5 328.0 3347.5 330.8 3347.5 333.7 3347.5 336.5 3347.5 339.4 3347.5 342.2 3347.5 345.1 3347.5 347.9 3347.5 350.8 3347.5 353.6 3347.5 356.5 3347.5 359.3 3347.5 362.2 3347.5 365.0 3347.5 367.9 3347.5 370.8 3347.5 373.6 3347.5 376.5 3347.5 379.3 3347.5 382.2 3347.5 385.0 3347.5 387.9 3347.5 390.7 3347.5 393.6 3347.5 396.4 3347.5 399.3 3347.5 402.1 3347.5 405.0 3347.5 407.8 3347.5 410.7 3347.5 413.5 3347.5 416.4 3347.5 419.2 3347.5 422.1 3347.5 424.9 3347.5 427.8 3347.5 430.7 3347.5 433.5 3347.5 436.4 3347.5 439.2 3347.5 442.1 3347.5 444.9 3347.5 447.8 3347.5 450.6 3347.5 453.5 3347.5 456.3 3347.5 459.2 3347.5 462.0 3347.5 464.9 3347.5 467.7 3347.5 470.6 3347.5 473.4 3347.5 476.3 3347.5 479.1 3347.5 482.0 3347.5 484.9 3347.5 487.7 3347.5 490.6 3347.5 493.4 3347.5 496.3 3347.5 499.1 3347.5 502.0 3347.5 504.8 3347.5 507.7 3347.5 510.5 3347.5 513.4 3347.5 516.2 3347.5 519.1 3347.5 521.9 3347.5 524.8 3347.5 527.6 3347.5 530.5 3347.5 533.3 3347.5 536.2 3347.5 539.0 3347.5 541.9 3347.5 544.8 3347.5 547.6 3347.5 550.5 3347.5 553.3 3347.5 556.2 3347.5 559.0 3347.5 561.9 3347.5 564.7 3347.5 567.6 3347.5 570.4 3347.5 573.3 3347.5 576.1 3347.5 579.0 3347.5 581.8 3347.5 584.7 3347.5 587.5 3347.5 590.4 3347.5 593.2 3347.5 596.1 3347.5 599.0 3347.5 601.8 3347.5 604.7 3347.5 607.5 3347.5 610.4 3347.5 613.2 3347.5 616.1 3347.5 618.9 3347.5 621.8 3347.5 624.6 3347.5 627.5 3347.5 630.3 3347.5 633.2 3347.5 636.0 3347.5 638.9 3347.5 641.7 3347.5 644.6 3347.5 647.4 3347.5 650.3 3347.5 653.1 3347.5 656.0 3347.5 658.9 3347.5 661.7 3347.5 664.6 3347.5 667.4 3347.5 670.3 3347.5 673.1 3347.5 676.0 3347.5 678.8 3347.5 681.7 3347.5 684.5 3347.5 687.4 3347.5 690.2 3347.5 693.1 3347.5 695.9 3347.5 698.8 3347.5 701.6 3347.5 704.5 3347.5 707.3 3347.5 710.2 3347.5 713.1 3347.5 715.9 3347.5 718.8 3347.5 721.6 3347.5 724.5 3347.5 727.3 3347.5 730.2 3347.5 733.0 3347.5 735.9 3347.5 738.7 3347.5 741.6 3347.5 744.4 3347.5 747.3 3347.5 750.1 3347.5 753.0 3347.5 755.8 3347.5 758.7 3347.5 761.5 3347.5 764.4 3347.5 767.2 3347.5 770.1 3347.5 773.0 3347.5 775.8 3347.5 778.7 3347.5 781.5 3347.5 784.4 3347.5 787.2 3347.4 790.1 3347.4 792.9 3347.4 795.8 3347.4 798.6 3347.4 801.5 3347.4 804.3 3347.4 807.2 3347.4 810.0 3347.4 812.9 3347.4 815.7 3347.4 818.6 3347.4 821.4 3347.4 824.3 3347.3 827.2 3347.3 830.0 3347.3 832.9 3347.3 835.7 3347.3 838.6 3347.3 841.4 3347.2 844.3 3347.2 847.1 3347.2 850.0 3347.2 852.8 3347.1 855.7 3347.1 858.5 3347.1 861.4 3347.1 864.2 3347.0 867.1 3347.0 869.9 3346.9 872.8 3346.9 875.6 3346.9 878.5 3346.8 881.3 3346.8 884.2 3346.7 887.1 3346.6 889.9 3346.6 892.8 3346.5 895.6 3346.4 898.5 3346.4 901.3 3346.3 904.2 3346.2 907.0 3346.1 909.9 3346.0 912.7 3345.9 915.6 3345.8 918.4 3345.7 921.3 3345.6 924.1 3345.4 927.0 3345.3 929.8 3345.2 932.7 3345.0 935.5 3344.8 938.4 3344.7 941.3 3344.5 944.1 3344.3 947.0 3344.1 949.8 3343.9 952.7 3343.6 955.5 3343.4 958.4 3343.1 961.2 3342.9 964.1 3342.6 966.9 3342.3 969.8 3342.0 972.6 3341.7 975.5 3341.3 978.3 3341.0 981.2 3340.6 984.0 3340.2 986.9 3339.8 989.7 3339.3 992.6 3338.9 995.4 3338.4 998.3 3337.9 1001.2 3337.4 1004.0 3336.8 1006.9 3336.3 1009.7 3335.7 1012.6 3335.1 1015.4 3334.4 1018.3 3333.7 1021.1 3333.0 1024.0 3332.3 1026.8 3331.5 1029.7 3330.7 1032.5 3329.9 1035.4 3329.1 1038.2 3328.2 1041.1 3327.3 1043.9 3326.3 1046.8 3325.3 1049.6 3324.3 1052.5 3323.2 1055.4 3322.1 1058.2 3321.0 1061.1 3319.8 1063.9 3318.6 1066.8 3317.4 1069.6 3316.1 1072.5 3314.8 1075.3 3313.4 1078.2 3312.0 1081.0 3310.5 1083.9 3309.0 1086.7 3307.5 1089.6 3305.9 1092.4 3304.3 1095.3 3302.6 1098.1 3300.9 1101.0 3299.2 1103.8 3297.4 1106.7 3295.5 1109.5 3293.7 1112.4 3291.7 1115.3 3289.8 1118.1 3287.8 1121.0 3285.7 1123.8 3283.6 1126.7 3281.5 1129.5 3279.3 1132.4 3277.1 1135.2 3274.9 1138.1 3272.6 1140.9 3270.3 1143.8 3267.9 1146.6 3265.5 1149.5 3263.1 1152.3 3260.7 1155.2 3258.2 1158.0 3255.7 1160.9 3253.1 1163.7 3250.6 1166.6 3248.0 1169.5 3245.4 1172.3 3242.7 1175.2 3240.1 1178.0 3237.4 1180.9 3234.8 1183.7 3232.1 1186.6 3229.4 1189.4 3226.6 1192.3 3223.9 1195.1 3221.2 1198.0 3218.5 1200.8 3215.8 1203.7 3213.1 1206.5 3210.4 1209.4 3207.7 1212.2 3205.0 1215.1 3202.3 1217.9 3199.6 1220.8 3197.0 1223.6 3194.4 1226.5 3191.8 1229.4 3189.3 1232.2 3186.8 1235.1 3184.3 1237.9 3181.8 1240.8 3179.4 1243.6 3177.0 1246.5 3174.7 1249.3 3172.4 1252.2 3170.2 1255.0 3168.1 1257.9 3166.0 1260.7 3163.9 1263.6 3161.9 1266.4 3160.0 1269.3 3158.1 1272.1 3156.3 1275.0 3154.6 1277.8 3153.0 1280.7 3151.4 1283.6 3149.9 1286.4 3148.5 1289.3 3147.2 1292.1 3146.0 1295.0 3144.8 1297.8 3143.7 1300.7 3142.7 1303.5 3141.9 1306.4 3141.0 1309.2 3140.3 1312.1 3139.7 1314.9 3139.2 1317.8 3138.8 1320.6 3138.4 1323.5 3138.2 1326.3 3138.0 1329.2 3138.0 1332.0 3138.1 1334.9 3138.2 1337.7 3138.5 1340.6 3138.9 1343.5 3139.4 1346.3 3140.0 1349.2 3140.7 1352.0 3141.6 1354.9 3142.5 1357.7 3143.5 1360.6 3144.7 1363.4 3145.9 1366.3 3147.2 1369.1 3148.7 1372.0 3150.2 1374.8 3151.8 1377.7 3153.5 1380.5 3155.3 1383.4 3157.1 1386.2 3159.1 1389.1 3161.1 1391.9 3163.2 1394.8 3165.3 1397.7 3167.6 1400.5 3169.8 1403.4 3172.2 1406.2 3174.6 1409.1 3177.0 1411.9 3179.5 1414.8 3182.1 1417.6 3184.7 1420.5 3187.3 1423.3 3189.9 1426.2 3192.6 1429.0 3195.3 1431.9 3198.1 1434.7 3200.8 1437.6 3203.6 1440.4 3206.4 1443.3 3209.2 1446.1 3212.0 1449.0 3214.9 1451.8 3217.7 1454.7 3220.5 1457.6 3223.3 1460.4 3226.1 1463.3 3228.9 1466.1 3231.7 1469.0 3234.5 1471.8 3237.3 1474.7 3240.0 1477.5 3242.7 1480.4 3245.5 1483.2 3248.1 1486.1 3250.8 1488.9 3253.4 1491.8 3256.0 1494.6 3258.6 1497.5 3261.1 1500.3 3263.6 1503.2 3266.0 1506.0 3268.5 1508.9 3270.8 1511.8 3273.2 1514.6 3275.5 1517.5 3277.7 1520.3 3280.0 1523.2 3282.1 1526.0 3284.3 1528.9 3286.4 1531.7 3288.4 1534.6 3290.4 1537.4 3292.3 1540.3 3294.3 1543.1 3296.1 1546.0 3297.9 1548.8 3299.7 1551.7 3301.4 1554.5 3303.1 1557.4 3304.7 1560.2 3306.3 1563.1 3307.9 1565.9 3309.3 1568.8 3310.8 1571.7 3312.2 1574.5 3313.6 1577.4 3314.9 1580.2 3316.2 1583.1 3317.4 1585.9 3318.6 1588.8 3319.8 1591.6 3320.9 1594.5 3322.0 1597.3 3323.0 1600.2 3324.0 1603.0 3325.0 1605.9 3325.9 1608.7 3326.8 1611.6 3327.7 1614.4 3328.5 1617.3 3329.3 1620.1 3330.1 1623.0 3330.8 1625.9 3331.5 1628.7 3332.2 1631.6 3332.9 1634.4 3333.5 1637.3 3334.1 1640.1 3334.6 1643.0 3335.2 1645.8 3335.7 1648.7 3336.2 1651.5 3336.7 1654.4 3337.2 1657.2 3337.6 1660.1 3338.0 1662.9 3338.4 1665.8 3338.8 1668.6 3339.1 1671.5 3339.5 1674.3 3339.8 1677.2 3340.1 1680.0 3340.4 1682.9 3340.7 1685.8 3341.0 1688.6 3341.2 1691.5 3341.5 1694.3 3341.7 1697.2 3341.9 1700.0 3342.1 1702.9 3342.3 1705.7 3342.5 1708.6 3342.7 1711.4 3342.9 1714.3 3343.0 1717.1 3343.2 1720.0 3343.3 1722.8 3343.5 1725.7 3343.6 1728.5 3343.7 1731.4 3343.8 1734.2 3343.9 1737.1 3344.1 1740.0 3344.2 1742.8 3344.3 1745.7 3344.3 1748.5 3344.4 1751.4 3344.5 1754.2 3344.6 1757.1 3344.7 1759.9 3344.7 1762.8 3344.8 1765.6 3344.9 1768.5 3344.9 1771.3 3345.0 1774.2 3345.0 1777.0 3345.1 1779.9 3345.1 1782.7 3345.2 1785.6 3345.2 1788.4 3345.3 1791.3 3345.3 1794.1 3345.4 1797.0 3345.4 1799.9 3345.4 1802.7 3345.5 1805.6 3345.5 1808.4 3345.5 1811.3 3345.6 1814.1 3345.6 1817.0 3345.6 1819.8 3345.6 1822.7 3345.7 1825.5 3345.7 1828.4 3345.7 1831.2 3345.8 1834.1 3345.8 1836.9 3345.8 1839.8 3345.8 1842.6 3345.8 1845.5 3345.9 1848.3 3345.9 1851.2 3345.9 1854.1 3345.9 1856.9 3345.9 1859.8 3346.0 1862.6 3346.0 1865.5 3346.0 1868.3 3346.0 1871.2 3346.0 1874.0 3346.0 1876.9 3346.1 1879.7 3346.1 1882.6 3346.1 1885.4 3346.1 1888.3 3346.1" fill="none" stroke="#000" stroke-width="4.6" stroke-linejoin="round"/>
<polyline points="285.2 3336.7 288.0 3336.5 290.9 3336.4 293.7 3336.2 296.6 3336.0 299.4 3335.8 302.3 3335.7 305.1 3335.5 308.0 3335.3 310.8 3335.1 313.7 3334.9 316.6 3334.6 319.4 3334.4 322.3 3334.2 325.1 3333.9 328.0 3333.7 330.8 3333.4 333.7 3333.1 336.5 3332.8 339.4 3332.5 342.2 3332.2 345.1 3331.9 347.9 3331.6 350.8 3331.2 353.6 3330.9 356.5 3330.5 359.3 3330.1 362.2 3329.7 365.0 3329.3 367.9 3328.8 370.8 3328.3 373.6 3327.8 376.5 3327.3 379.3 3326.8 382.2 3326.2 385.0 3325.7 387.9 3325.1 390.7 3324.4 393.6 3323.8 396.4 3323.1 399.3 3322.4 402.1 3321.6 405.0 3320.8 407.8 3320.0 410.7 3319.2 413.5 3318.3 416.4 3317.3 419.2 3316.4 422.1 3315.4 424.9 3314.3 427.8 3313.2 430.7 3312.1 433.5 3310.9 436.4 3309.7 439.2 3308.4 442.1 3307.1 444.9 3305.7 447.8 3304.2 450.6 3302.7 453.5 3301.2 456.3 3299.6 459.2 3297.9 462.0 3296.1 464.9 3294.3 467.7 3292.5 470.6 3290.5 473.4 3288.5 476.3 3286.5 479.1 3284.3 482.0 3282.1 484.9 3279.8 487.7 3277.5 490.6 3275.0 493.4 3272.5 496.3 3269.9 499.1 3267.2 502.0 3264.5 504.8 3261.6 507.7 3258.7 510.5 3255.7 513.4 3252.7 516.2 3249.5 519.1 3246.3 521.9 3242.9 524.8 3239.5 527.6 3236.0 530.5 3232.5 533.3 3228.8 536.2 3225.1 539.0 3221.3 541.9 3217.4 544.8 3213.4 547.6 3209.3 550.5 3205.2 553.3 3201.0 556.2 3196.7 559.0 3192.4 561.9 3188.0 564.7 3183.5 567.6 3178.9 570.4 3174.3 573.3 3169.7 576.1 3164.9 579.0 3160.2 581.8 3155.4 584.7 3150.5 587.5 3145.6 590.4 3140.6 593.2 3135.7 596.1 3130.7 599.0 3125.6 601.8 3120.6 604.7 3115.5 607.5 3110.4 610.4 3105.4 613.2 3100.3 616.1 3095.2 618.9 3090.2 621.8 3085.2 624.6 3080.2 627.5 3075.2 630.3 3070.3 633.2 3065.4 636.0 3060.6 638.9 3055.8 641.7 3051.2 644.6 3046.6 647.4 3042.0 650.3 3037.6 653.1 3033.3 656.0 3029.1 658.9 3025.0 661.7 3021.1 664.6 3017.3 667.4 3013.6 670.3 3010.1 673.1 3006.7 676.0 3003.6 678.8 3000.6 681.7 2997.7 684.5 2995.1 687.4 2992.7 690.2 2990.4 693.1 2988.4 695.9 2986.6 698.8 2985.1 701.6 2983.7 704.5 2982.6 707.3 2981.7 710.2 2981.1 713.1 2980.7 715.9 2980.5 718.8 2980.6 721.6 2980.8 724.5 2981.3 727.3 2981.9 730.2 2982.7 733.0 2983.8 735.9 2985.0 738.7 2986.4 741.6 2988.0 744.4 2989.8 747.3 2991.7 750.1 2993.9 753.0 2996.2 755.8 2998.6 758.7 3001.3 761.5 3004.1 764.4 3007.1 767.2 3010.2 770.1 3013.5 773.0 3016.9 775.8 3020.4 778.7 3024.1 781.5 3027.9 784.4 3031.9 787.2 3035.9 790.1 3040.1 792.9 3044.4 795.8 3048.7 798.6 3053.2 801.5 3057.8 804.3 3062.4 807.2 3067.1 810.0 3071.9 812.9 3076.7 815.7 3081.6 818.6 3086.5 821.4 3091.5 824.3 3096.6 827.2 3101.6 830.0 3106.7 832.9 3111.8 835.7 3116.9 838.6 3122.0 841.4 3127.1 844.3 3132.2 847.1 3137.4 850.0 3142.4 852.8 3147.5 855.7 3152.6 858.5 3157.6 861.4 3162.6 864.2 3167.5 867.1 3172.4 869.9 3177.2 872.8 3182.0 875.6 3186.8 878.5 3191.5 881.3 3196.1 884.2 3200.6 887.1 3205.1 889.9 3209.5 892.8 3213.9 895.6 3218.1 898.5 3222.3 901.3 3226.4 904.2 3230.4 907.0 3234.4 909.9 3238.2 912.7 3242.0 915.6 3245.6 918.4 3249.2 921.3 3252.7 924.1 3256.0 927.0 3259.3 929.8 3262.5 932.7 3265.6 935.5 3268.6 938.4 3271.5 941.3 3274.3 944.1 3277.0 947.0 3279.6 949.8 3282.2 952.7 3284.6 955.5 3286.9 958.4 3289.1 961.2 3291.3 964.1 3293.3 966.9 3295.3 969.8 3297.1 972.6 3298.9 975.5 3300.5 978.3 3302.1 981.2 3303.6 984.0 3305.0 986.9 3306.3 989.7 3307.5 992.6 3308.7 995.4 3309.7 998.3 3310.7 1001.2 3311.6 1004.0 3312.4 1006.9 3313.1 1009.7 3313.7 1012.6 3314.3 1015.4 3314.7 1018.3 3315.1 1021.1 3315.5 1024.0 3315.7 1026.8 3315.9 1029.7 3316.0 1032.5 3316.0 1035.4 3315.9 1038.2 3315.8 1041.1 3315.6 1043.9 3315.4 1046.8 3315.0 1049.6 3314.6 1052.5 3314.1 1055.4 3313.6 1058.2 3313.0 1061.1 3312.3 1063.9 3311.6 1066.8 3310.8 1069.6 3309.9 1072.5 3309.0 1075.3 3308.0 1078.2 3306.9 1081.0 3305.8 1083.9 3304.6 1086.7 3303.4 1089.6 3302.1 1092.4 3300.7 1095.3 3299.3 1098.1 3297.8 1101.0 3296.3 1103.8 3294.7 1106.7 3293.0 1109.5 3291.3 1112.4 3289.6 1115.3 3287.8 1118.1 3285.9 1121.0 3284.0 1123.8 3282.0 1126.7 3280.0 1129.5 3278.0 1132.4 3275.9 1135.2 3273.7 1138.1 3271.5 1140.9 3269.3 1143.8 3267.0 1146.6 3264.7 1149.5 3262.3 1152.3 3259.9 1155.2 3257.5 1158.0 3255.1 1160.9 3252.6 1163.7 3250.1 1166.6 3247.5 1169.5 3244.9 1172.3 3242.3 1175.2 3239.7 1178.0 3237.1 1180.9 3234.4 1183.7 3231.8 1186.6 3229.1 1189.4 3226.4 1192.3 3223.7 1195.1 3221.0 1198.0 3218.3 1200.8 3215.6 1203.7 3212.9 1206.5 3210.2 1209.4 3207.5 1212.2 3204.9 1215.1 3202.2 1217.9 3199.6 1220.8 3196.9 1223.6 3194.3 1226.5 3191.8 1229.4 3189.2 1232.2 3186.7 1235.1 3184.2 1237.9 3181.8 1240.8 3179.4 1243.6 3177.0 1246.5 3174.7 1249.3 3172.4 1252.2 3170.2 1255.0 3168.0 1257.9 3165.9 1260.7 3163.9 1263.6 3161.9 1266.4 3160.0 1269.3 3158.1 1272.1 3156.3 1275.0 3154.6 1277.8 3153.0 1280.7 3151.4 1283.6 3149.9 1286.4 3148.5 1289.3 3147.2 1292.1 3146.0 1295.0 3144.8 1297.8 3143.7 1300.7 3142.7 1303.5 3141.8 1306.4 3141.0 1309.2 3140.3 1312.1 3139.7 1314.9 3139.2 1317.8 3138.8 1320.6 3138.4 1323.5 3138.2 1326.3 3138.0 1329.2 3138.0 1332.0 3138.1 1334.9 3138.2 1337.7 3138.5 1340.6 3138.9 1343.5 3139.4 1346.3 3140.0 1349.2 3140.7 1352.0 3141.6 1354.9 3142.5 1357.7 3143.5 1360.6 3144.7 1363.4 3145.9 1366.3 3147.2 1369.1 3148.7 1372.0 3150.2 1374.8 3151.8 1377.7 3153.5 1380.5 3155.3 1383.4 3157.1 1386.2 3159.1 1389.1 3161.1 1391.9 3163.2 1394.8 3165.3 1397.7 3167.6 1400.5 3169.8 1403.4 3172.2 1406.2 3174.6 1409.1 3177.0 1411.9 3179.5 1414.8 3182.1 1417.6 3184.7 1420.5 3187.3 1423.3 3189.9 1426.2 3192.6 1429.0 3195.3 1431.9 3198.1 1434.7 3200.8 1437.6 3203.6 1440.4 3206.4 1443.3 3209.2 1446.1 3212.0 1449.0 3214.9 1451.8 3217.7 1454.7 3220.5 1457.6 3223.3 1460.4 3226.1 1463.3 3228.9 1466.1 3231.7 1469.0 3234.5 1471.8 3237.3 1474.7 3240.0 1477.5 3242.7 1480.4 3245.5 1483.2 3248.1 1486.1 3250.8 1488.9 3253.4 1491.8 3256.0 1494.6 3258.6 1497.5 3261.1 1500.3 3263.6 1503.2 3266.0 1506.0 3268.5 1508.9 3270.8 1511.8 3273.2 1514.6 3275.5 1517.5 3277.7 1520.3 3280.0 1523.2 3282.1 1526.0 3284.3 1528.9 3286.4 1531.7 3288.4 1534.6 3290.4 1537.4 3292.3 1540.3 3294.3 1543.1 3296.1 1546.0 3297.9 1548.8 3299.7 1551.7 3301.4 1554.5 3303.1 1557.4 3304.7 1560.2 3306.3 1563.1 3307.9 1565.9 3309.3 1568.8 3310.8 1571.7 3312.2 1574.5 3313.6 1577.4 3314.9 1580.2 3316.2 1583.1 3317.4 1585.9 3318.6 1588.8 3319.8 1591.6 3320.9 1594.5 3322.0 1597.3 3323.0 1600.2 3324.0 1603.0 3325.0 1605.9 3325.9 1608.7 3326.8 1611.6 3327.7 1614.4 3328.5 1617.3 3329.3 1620.1 3330.1 1623.0 3330.8 1625.9 3331.5 1628.7 3332.2 1631.6 3332.9 1634.4 3333.5 1637.3 3334.1 1640.1 3334.6 1643.0 3335.2 1645.8 3335.7 1648.7 3336.2 1651.5 3336.7 1654.4 3337.2 1657.2 3337.6 1660.1 3338.0 1662.9 3338.4 1665.8 3338.8 1668.6 3339.1 1671.5 3339.5 1674.3 3339.8 1677.2 3340.1 1680.0 3340.4 1682.9 3340.7 1685.8 3341.0 1688.6 3341.2 1691.5 3341.5 1694.3 3341.7 1697.2 3341.9 1700.0 3342.1 1702.9 3342.3 1705.7 3342.5 1708.6 3342.7 1711.4 3342.9 1714.3 3343.0 1717.1 3343.2 1720.0 3343.3 1722.8 3343.5 1725.7 3343.6 1728.5 3343.7 1731.4 3343.8 1734.2 3343.9 1737.1 3344.1 1740.0 3344.2 1742.8 3344.3 1745.7 3344.3 1748.5 3344.4 1751.4 3344.5 1754.2 3344.6 1757.1 3344.7 1759.9 3344.7 1762.8 3344.8 1765.6 3344.9 1768.5 3344.9 1771.3 3345.0 1774.2 3345.0 1777.0 3345.1 1779.9 3345.1 1782.7 3345.2 1785.6 3345.2 1788.4 3345.3 1791.3 3345.3 1794.1 3345.4 1797.0 3345.4 1799.9 3345.4 1802.7 3345.5 1805.6 3345.5 1808.4 3345.5 1811.3 3345.6 1814.1 3345.6 1817.0 3345.6 1819.8 3345.6 1822.7 3345.7 1825.5 3345.7 1828.4 3345.7 1831.2 3345.8 1834.1 3345.8 1836.9 3345.8 1839.8 3345.8 1842.6 3345.8 1845.5 3345.9 1848.3 3345.9 1851.2 3345.9 1854.1 3345.9 1856.9 3345.9 1859.8 3346.0 1862.6 3346.0 1865.5 3346.0 1868.3 3346.0 1871.2 3346.0 1874.0 3346.0 1876.9 3346.1 1879.7 3346.1 1882.6 3346.1 1885.4 3346.1 1888.3 3346.1" fill="none" stroke="#000" stroke-width="5" stroke-linejoin="round"/>
<polyline points="285.2 3319.5 289.2 3339.1 293.2 3338.8 297.2 3341.7 301.2 3341.8 305.1 3333.8 309.1 3322.3 313.1 3333.6 317.1 3333.7 321.1 3336.8 325.1 3332.6 329.1 3340.0 333.1 3333.3 337.1 3326.8 341.1 3327.0 345.1 3334.1 349.1 3333.0 353.1 3325.3 357.1 3323.1 361.1 3336.3 365.0 3331.2 369.0 3327.8 373.0 3323.0 377.0 3331.0 381.0 3324.0 385.0 3327.1 389.0 3315.0 393.0 3322.3 397.0 3323.7 401.0 3323.5 405.0 3316.6 409.0 3313.6 413.0 3323.2 417.0 3316.4 421.0 3321.6 424.9 3317.7 428.9 3318.4 432.9 3316.9 436.9 3312.5 440.9 3311.9 444.9 3303.6 448.9 3300.5 452.9 3302.7 456.9 3304.1 460.9 3293.6 464.9 3303.1 468.9 3300.0 472.9 3286.1 476.9 3283.5 480.9 3279.1 484.9 3280.9 488.8 3282.0 492.8 3275.3 496.8 3267.2 500.8 3269.0 504.8 3264.8 508.8 3263.6 512.8 3258.4 516.8 3245.5 520.8 3242.5 524.8 3244.6 528.8 3239.4 532.8 3232.1 536.8 3222.2 540.8 3224.0 544.8 3214.3 548.7 3216.9 552.7 3207.3 556.7 3194.3 560.7 3175.7 564.7 3188.6 568.7 3180.6 572.7 3167.4 576.7 3165.8 580.7 3159.8 584.7 3148.5 588.7 3143.0 592.7 3132.2 596.7 3126.5 600.7 3125.2 604.7 3116.2 608.6 3108.8 612.6 3107.2 616.6 3108.8 620.6 3083.2 624.6 3099.9 628.6 3069.2 632.6 3065.4 636.6 3060.4 640.6 3050.9 644.6 3044.7 648.6 3035.4 652.6 3036.0 656.6 3029.4 660.6 3023.9 664.6 3009.5 668.6 3008.4 672.5 3011.5 676.5 3004.5 680.5 3002.0 684.5 2995.2 688.5 2991.0 692.5 2956.6 696.5 2994.2 700.5 2984.7 704.5 2980.9 708.5 2984.6 712.5 2981.5 716.5 2982.8 720.5 2994.2 724.5 2977.2 728.5 2988.8 732.4 2978.2 736.4 2987.0 740.4 2974.6 744.4 2988.2 748.4 2967.1 752.4 2993.5 756.4 2994.7 760.4 3002.9 764.4 3010.7 768.4 3008.8 772.4 3028.1 776.4 3012.5 780.4 3035.0 784.4 3032.9 788.4 3002.3 792.4 3048.9 796.3 3050.7 800.3 3047.2 804.3 3056.6 808.3 3072.8 812.3 3069.9 816.3 3077.7 820.3 3086.4 824.3 3098.5 828.3 3102.8 832.3 3114.6 836.3 3120.2 840.3 3122.1 844.3 3131.8 848.3 3131.7 852.3 3148.0 856.2 3163.8 860.2 3162.1 864.2 3166.5 868.2 3172.9 872.2 3180.9 876.2 3191.3 880.2 3188.1 884.2 3203.6 888.2 3204.0 892.2 3216.8 896.2 3224.1 900.2 3219.0 904.2 3241.9 908.2 3239.6 912.2 3239.5 916.1 3235.5 920.1 3248.2 924.1 3256.6 928.1 3262.6 932.1 3256.0 936.1 3261.7 940.1 3274.0 944.1 3281.7 948.1 3283.9 952.1 3281.5 956.1 3285.1 960.1 3290.5 964.1 3294.8 968.1 3293.2 972.1 3305.8 976.1 3302.4 980.0 3305.3 984.0 3280.3 988.0 3306.2 992.0 3311.3 996.0 3305.7 1000.0 3303.7 1004.0 3350.0 1008.0 3308.4 1012.0 3314.0 1016.0 3310.8 1020.0 3306.6 1024.0 3310.7 1028.0 3306.0 1032.0 3317.0 1036.0 3314.9 1039.9 3316.0 1043.9 3330.2 1047.9 3320.8 1051.9 3314.2 1055.9 3310.9 1059.9 3315.1 1063.9 3306.8 1067.9 3305.1 1071.9 3310.9 1075.9 3301.8 1079.9 3289.7 1083.9 3302.7 1087.9 3307.0 1091.9 3294.8 1095.9 3299.7 1099.9 3298.5 1103.8 3287.1 1107.8 3303.1 1111.8 3285.4 1115.8 3267.2 1119.8 3279.6 1123.8 3279.6 1127.8 3282.5 1131.8 3293.5 1135.8 3269.6 1139.8 3271.9 1143.8 3254.7 1147.8 3264.8 1151.8 3262.9 1155.8 3252.2 1159.8 3250.4 1163.7 3250.2 1167.7 3250.4 1171.7 3241.1 1175.7 3235.7 1179.7 3232.3 1183.7 3233.0 1187.7 3226.2 1191.7 3220.7 1195.7 3217.3 1199.7 3229.6 1203.7 3216.6 1207.7 3212.4 1211.7 3206.4 1215.7 3200.9 1219.7 3194.1 1223.6 3191.7 1227.6 3191.3 1231.6 3187.1 1235.6 3176.3 1239.6 3196.0 1243.6 3175.7 1247.6 3167.2 1251.6 3169.2 1255.6 3176.2 1259.6 3163.1 1263.6 3163.5 1267.6 3159.7 1271.6 3152.3 1275.6 3169.1 1279.6 3153.1 1283.6 3146.2 1287.5 3146.2 1291.5 3145.8 1295.5 3143.3 1299.5 3142.1 1303.5 3143.3 1307.5 3142.7 1311.5 3139.7 1315.5 3143.1 1319.5 3143.8 1323.5 3132.7 1327.5 3139.0 1331.5 3138.1 1335.5 3138.8 1339.5 3138.6 1343.5 3139.3 1347.4 3173.0 1351.4 3144.8 1355.4 3138.8 1359.4 3147.1 1363.4 3141.5 1367.4 3155.8 1371.4 3154.3 1375.4 3148.0 1379.4 3155.2 1383.4 3160.0 1387.4 3158.3 1391.4 3167.1 1395.4 3157.5 1399.4 3179.0 1403.4 3174.1 1407.3 3192.0 1411.3 3176.8 1415.3 3178.9 1419.3 3186.2 1423.3 3183.2 1427.3 3196.2 1431.3 3206.2 1435.3 3187.8 1439.3 3198.8 1443.3 3200.7 1447.3 3215.9 1451.3 3220.3 1455.3 3225.7 1459.3 3219.3 1463.3 3229.3 1467.3 3225.3 1471.2 3237.6 1475.2 3250.4 1479.2 3240.8 1483.2 3249.7 1487.2 3252.8 1491.2 3248.9 1495.2 3260.2 1499.2 3257.7 1503.2 3266.1 1507.2 3272.6 1511.2 3270.6 1515.2 3278.5 1519.2 3273.9 1523.2 3278.1 1527.2 3297.6 1531.1 3285.4 1535.1 3270.7 1539.1 3294.7 1543.1 3269.6 1547.1 3299.6 1551.1 3298.5 1555.1 3297.9 1559.1 3305.3 1563.1 3306.1 1567.1 3309.2 1571.1 3313.7 1575.1 3316.1 1579.1 3312.6 1583.1 3320.4 1587.1 3317.2 1591.1 3314.3 1595.0 3320.7 1599.0 3330.4 1603.0 3324.4 1607.0 3321.9 1611.0 3328.7 1615.0 3324.0 1619.0 3327.2 1623.0 3329.0 1627.0 3332.9 1631.0 3334.8 1635.0 3334.6 1639.0 3350.0 1643.0 3333.0 1647.0 3334.1 1651.0 3337.8 1654.9 3336.9 1658.9 3336.2 1662.9 3345.2 1666.9 3342.1 1670.9 3342.7 1674.9 3340.7 1678.9 3341.4 1682.9 3341.7 1686.9 3344.7 1690.9 3329.3 1694.9 3340.5 1698.9 3348.9 1702.9 3342.2 1706.9 3347.3 1710.9 3335.6 1714.8 3344.9 1718.8 3336.5 1722.8 3343.0 1726.8 3344.4 1730.8 3344.0 1734.8 3337.4 1738.8 3343.1 1742.8 3340.7 1746.8 3339.6 1750.8 3348.5 1754.8 3337.4 1758.8 3341.7 1762.8 3340.7 1766.8 3348.4 1770.8 3341.5 1774.8 3343.2 1778.7 3347.3 1782.7 3335.5 1786.7 3342.8 1790.7 3346.2 1794.7 3344.5 1798.7 3341.5 1802.7 3340.6 1806.7 3343.0 1810.7 3340.4 1814.7 3339.3 1818.7 3350.0 1822.7 3347.6 1826.7 3338.8 1830.7 3345.3 1834.7 3339.6 1838.6 3343.0 1842.6 3350.0 1846.6 3350.0 1850.6 3341.5 1854.6 3346.8 1858.6 3346.3 1862.6 3344.6 1866.6 3350.0 1870.6 3342.7 1874.6 3344.5 1878.6 3350.0 1882.6 3350.0 1886.6 3349.2" fill="none" stroke="#000" stroke-width="4.2" stroke-linejoin="round"/>
<line x1="289.7" y1="3756.5" x2="1955.6" y2="3756.5" stroke="#000" stroke-width="6"/>
<line x1="291" y1="3718" x2="291" y2="3784" stroke="#000" stroke-width="8"/>
<line x1="1768" y1="3742" x2="1768" y2="3772" stroke="#000" stroke-width="5"/>
<line x1="1808" y1="3742" x2="1808" y2="3786" stroke="#000" stroke-width="5"/>
<polyline points="289.7 3746.1 292.6 3745.5 295.4 3744.9 298.3 3744.3 301.1 3743.6 304.0 3743.0 306.9 3742.3 309.7 3741.5 312.6 3740.7 315.4 3739.9 318.3 3739.1 321.1 3738.2 324.0 3737.3 326.8 3736.4 329.7 3735.4 332.5 3734.4 335.4 3733.4 338.2 3732.3 341.1 3731.2 343.9 3730.1 346.8 3728.9 349.6 3727.7 352.5 3726.4 355.3 3725.1 358.2 3723.8 361.1 3722.4 363.9 3720.9 366.8 3719.5 369.6 3718.0 372.5 3716.4 375.3 3714.8 378.2 3713.2 381.0 3711.6 383.9 3709.8 386.7 3708.1 389.6 3706.3 392.4 3704.5 395.3 3702.6 398.1 3700.7 401.0 3698.8 403.8 3696.8 406.7 3694.8 409.5 3692.7 412.4 3690.7 415.2 3688.5 418.1 3686.4 421.0 3684.2 423.8 3682.0 426.7 3679.8 429.5 3677.5 432.4 3675.2 435.2 3672.9 438.1 3670.6 440.9 3668.2 443.8 3665.9 446.6 3663.5 449.5 3661.1 452.3 3658.6 455.2 3656.2 458.0 3653.8 460.9 3651.4 463.7 3648.9 466.6 3646.5 469.4 3644.1 472.3 3641.6 475.2 3639.2 478.0 3636.8 480.9 3634.4 483.7 3632.0 486.6 3629.6 489.4 3627.3 492.3 3625.0 495.1 3622.7 498.0 3620.4 500.8 3618.2 503.7 3616.0 506.5 3613.8 509.4 3611.7 512.2 3609.7 515.1 3607.6 517.9 3605.7 520.8 3603.7 523.6 3601.9 526.5 3600.1 529.3 3598.3 532.2 3596.6 535.1 3595.0 537.9 3593.4 540.8 3592.0 543.6 3590.5 546.5 3589.2 549.3 3587.9 552.2 3586.8 555.0 3585.6 557.9 3584.6 560.7 3583.7 563.6 3582.8 566.4 3582.0 569.3 3581.3 572.1 3580.7 575.0 3580.2 577.8 3579.8 580.7 3579.5 583.5 3579.2 586.4 3579.1 589.3 3579.0 592.1 3579.0 595.0 3579.1 597.8 3579.3 600.7 3579.6 603.5 3580.0 606.4 3580.5 609.2 3581.0 612.1 3581.6 614.9 3582.3 617.8 3583.1 620.6 3584.0 623.5 3585.0 626.3 3586.0 629.2 3587.1 632.0 3588.3 634.9 3589.5 637.7 3590.9 640.6 3592.3 643.4 3593.7 646.3 3595.2 649.2 3596.8 652.0 3598.5 654.9 3600.2 657.7 3602.0 660.6 3603.8 663.4 3605.7 666.3 3607.6 669.1 3609.6 672.0 3611.6 674.8 3613.7 677.7 3615.8 680.5 3617.9 683.4 3620.1 686.2 3622.3 689.1 3624.6 691.9 3626.8 694.8 3629.1 697.6 3631.4 700.5 3633.7 703.4 3636.1 706.2 3638.4 709.1 3640.8 711.9 3643.2 714.8 3645.5 717.6 3647.9 720.5 3650.3 723.3 3652.7 726.2 3655.1 729.0 3657.4 731.9 3659.8 734.7 3662.2 737.6 3664.5 740.4 3666.8 743.3 3669.1 746.1 3671.4 749.0 3673.7 751.8 3676.0 754.7 3678.2 757.5 3680.4 760.4 3682.6 763.3 3684.7 766.1 3686.8 769.0 3688.9 771.8 3691.0 774.7 3693.0 777.5 3695.0 780.4 3697.0 783.2 3698.9 786.1 3700.8 788.9 3702.7 791.8 3704.5 794.6 3706.3 797.5 3708.0 800.3 3709.7 803.2 3711.4 806.0 3713.0 808.9 3714.6 811.7 3716.2 814.6 3717.7 817.5 3719.2 820.3 3720.6 823.2 3722.0 826.0 3723.4 828.9 3724.7 831.7 3726.0 834.6 3727.2 837.4 3728.5 840.3 3729.6 843.1 3730.8 846.0 3731.9 848.8 3732.9 851.7 3734.0 854.5 3735.0 857.4 3735.9 860.2 3736.9 863.1 3737.7 865.9 3738.6 868.8 3739.4 871.6 3740.2 874.5 3741.0 877.4 3741.8 880.2 3742.5 883.1 3743.2 885.9 3743.8 888.8 3744.4 891.6 3745.1 894.5 3745.6 897.3 3746.2 900.2 3746.7 903.0 3747.2 905.9 3747.7 908.7 3748.2 911.6 3748.6 914.4 3749.1 917.3 3749.5 920.1 3749.8 923.0 3750.2 925.8 3750.6 928.7 3750.9 931.6 3751.2 934.4 3751.5 937.3 3751.8 940.1 3752.1 943.0 3752.3 945.8 3752.6 948.7 3752.8 951.5 3753.0 954.4 3753.2 957.2 3753.4 960.1 3753.6 962.9 3753.8 965.8 3754.0 968.6 3754.1 971.5 3754.3 974.3 3754.4 977.2 3754.6 980.0 3754.7 982.9 3754.8 985.7 3754.9 988.6 3755.0 991.5 3755.1 994.3 3755.2 997.2 3755.3 1000.0 3755.4 1002.9 3755.5 1005.7 3755.5 1008.6 3755.6 1011.4 3755.7 1014.3 3755.7 1017.1 3755.8 1020.0 3755.8 1022.8 3755.9 1025.7 3755.9 1028.5 3756.0 1031.4 3756.0 1034.2 3756.0 1037.1 3756.1 1039.9 3756.1 1042.8 3756.1 1045.7 3756.2 1048.5 3756.2 1051.4 3756.2 1054.2 3756.2 1057.1 3756.3 1059.9 3756.3 1062.8 3756.3 1065.6 3756.3 1068.5 3756.3 1071.3 3756.3 1074.2 3756.3 1077.0 3756.4 1079.9 3756.4 1082.7 3756.4 1085.6 3756.4 1088.4 3756.4 1091.3 3756.4 1094.1 3756.4 1097.0 3756.4 1099.8 3756.4 1102.7 3756.4 1105.6 3756.4 1108.4 3756.4 1111.3 3756.5 1114.1 3756.5 1117.0 3756.5 1119.8 3756.5 1122.7 3756.5 1125.5 3756.5 1128.4 3756.5 1131.2 3756.5 1134.1 3756.5 1136.9 3756.5 1139.8 3756.5 1142.6 3756.5 1145.5 3756.5 1148.3 3756.5 1151.2 3756.5 1154.0 3756.5 1156.9 3756.5 1159.8 3756.5 1162.6 3756.5 1165.5 3756.5 1168.3 3756.5 1171.2 3756.5 1174.0 3756.5 1176.9 3756.5 1179.7 3756.5 1182.6 3756.5 1185.4 3756.5 1188.3 3756.5 1191.1 3756.5 1194.0 3756.5 1196.8 3756.5 1199.7 3756.5 1202.5 3756.5 1205.4 3756.5 1208.2 3756.5 1211.1 3756.5 1213.9 3756.5 1216.8 3756.5 1219.7 3756.5 1222.5 3756.5 1225.4 3756.5 1228.2 3756.5 1231.1 3756.5 1233.9 3756.5 1236.8 3756.5 1239.6 3756.5 1242.5 3756.5 1245.3 3756.5 1248.2 3756.5 1251.0 3756.5 1253.9 3756.5 1256.7 3756.5 1259.6 3756.5 1262.4 3756.5 1265.3 3756.5 1268.1 3756.5 1271.0 3756.5 1273.9 3756.5 1276.7 3756.5 1279.6 3756.5 1282.4 3756.5 1285.3 3756.5 1288.1 3756.5 1291.0 3756.5 1293.8 3756.5 1296.7 3756.5 1299.5 3756.5 1302.4 3756.5 1305.2 3756.5 1308.1 3756.5 1310.9 3756.5 1313.8 3756.5 1316.6 3756.5 1319.5 3756.5 1322.3 3756.5 1325.2 3756.5 1328.0 3756.5 1330.9 3756.5 1333.8 3756.5 1336.6 3756.5 1339.5 3756.5 1342.3 3756.5 1345.2 3756.5 1348.0 3756.5 1350.9 3756.5 1353.7 3756.5 1356.6 3756.5 1359.4 3756.5 1362.3 3756.5 1365.1 3756.5 1368.0 3756.5 1370.8 3756.5 1373.7 3756.5 1376.5 3756.5 1379.4 3756.5 1382.2 3756.5 1385.1 3756.5 1388.0 3756.5 1390.8 3756.5 1393.7 3756.5 1396.5 3756.5 1399.4 3756.5 1402.2 3756.5 1405.1 3756.5 1407.9 3756.5 1410.8 3756.5 1413.6 3756.5 1416.5 3756.5 1419.3 3756.5 1422.2 3756.5 1425.0 3756.5 1427.9 3756.5 1430.7 3756.5 1433.6 3756.5 1436.4 3756.5 1439.3 3756.5 1442.1 3756.5 1445.0 3756.5 1447.9 3756.5 1450.7 3756.5 1453.6 3756.5 1456.4 3756.5 1459.3 3756.5 1462.1 3756.5 1465.0 3756.5 1467.8 3756.5 1470.7 3756.5 1473.5 3756.5 1476.4 3756.5 1479.2 3756.5 1482.1 3756.5 1484.9 3756.5 1487.8 3756.5 1490.6 3756.5 1493.5 3756.5 1496.3 3756.5 1499.2 3756.5 1502.1 3756.5 1504.9 3756.5 1507.8 3756.5 1510.6 3756.5 1513.5 3756.5 1516.3 3756.5 1519.2 3756.5 1522.0 3756.5 1524.9 3756.5 1527.7 3756.5 1530.6 3756.5 1533.4 3756.5 1536.3 3756.5 1539.1 3756.5 1542.0 3756.5 1544.8 3756.5 1547.7 3756.5 1550.5 3756.5 1553.4 3756.5 1556.2 3756.5 1559.1 3756.5 1562.0 3756.5 1564.8 3756.5 1567.7 3756.5 1570.5 3756.5 1573.4 3756.5 1576.2 3756.5 1579.1 3756.5 1581.9 3756.5 1584.8 3756.5 1587.6 3756.5 1590.5 3756.5 1593.3 3756.5 1596.2 3756.5 1599.0 3756.5 1601.9 3756.5 1604.7 3756.5 1607.6 3756.5 1610.4 3756.5 1613.3 3756.5 1616.2 3756.5 1619.0 3756.5 1621.9 3756.5 1624.7 3756.5 1627.6 3756.5 1630.4 3756.5 1633.3 3756.5 1636.1 3756.5 1639.0 3756.5 1641.8 3756.5 1644.7 3756.5 1647.5 3756.5 1650.4 3756.5 1653.2 3756.5 1656.1 3756.5 1658.9 3756.5 1661.8 3756.5 1664.6 3756.5 1667.5 3756.5 1670.3 3756.5 1673.2 3756.5 1676.1 3756.5 1678.9 3756.5 1681.8 3756.5 1684.6 3756.5 1687.5 3756.5 1690.3 3756.5 1693.2 3756.5 1696.0 3756.5 1698.9 3756.5 1701.7 3756.5 1704.6 3756.5 1707.4 3756.5 1710.3 3756.5 1713.1 3756.5 1716.0 3756.5 1718.8 3756.5 1721.7 3756.5 1724.5 3756.5 1727.4 3756.5 1730.3 3756.5 1733.1 3756.5 1736.0 3756.5 1738.8 3756.5 1741.7 3756.5 1744.5 3756.5 1747.4 3756.5 1750.2 3756.5 1753.1 3756.5 1755.9 3756.5 1758.8 3756.5 1761.6 3756.5 1764.5 3756.5 1767.3 3756.5 1770.2 3756.5 1773.0 3756.5 1775.9 3756.5 1778.7 3756.5 1781.6 3756.5 1784.4 3756.5 1787.3 3756.5 1790.2 3756.5 1793.0 3756.5 1795.9 3756.5 1798.7 3756.5 1801.6 3756.5 1804.4 3756.5 1807.3 3756.5 1810.1 3756.5 1813.0 3756.5 1815.8 3756.5 1818.7 3756.5 1821.5 3756.5 1824.4 3756.5 1827.2 3756.5 1830.1 3756.5 1832.9 3756.5 1835.8 3756.5 1838.6 3756.5 1841.5 3756.5 1844.4 3756.5 1847.2 3756.5 1850.1 3756.5 1852.9 3756.5 1855.8 3756.5 1858.6 3756.5 1861.5 3756.5 1864.3 3756.5 1867.2 3756.5 1870.0 3756.5 1872.9 3756.5 1875.7 3756.5 1878.6 3756.5 1881.4 3756.5 1884.3 3756.5 1887.1 3756.5 1890.0 3756.5 1892.8 3756.5 1895.7 3756.5 1898.5 3756.5 1901.4 3756.5 1904.3 3756.5 1907.1 3756.5 1910.0 3756.5 1912.8 3756.5 1915.7 3756.5 1918.5 3756.5 1921.4 3756.5 1924.2 3756.5 1927.1 3756.5 1929.9 3756.5 1932.8 3756.5 1935.6 3756.5 1938.5 3756.5 1941.3 3756.5 1944.2 3756.5 1947.0 3756.5 1949.9 3756.5 1952.7 3756.5 1955.6 3756.5" fill="none" stroke="#000" stroke-width="4.6" stroke-linejoin="round"/>
<polyline points="289.7 3756.0 292.6 3756.0 295.4 3755.9 298.3 3755.9 301.1 3755.9 304.0 3755.8 306.9 3755.8 309.7 3755.7 312.6 3755.6 315.4 3755.6 318.3 3755.5 321.1 3755.4 324.0 3755.4 326.8 3755.3 329.7 3755.2 332.5 3755.1 335.4 3755.0 338.2 3754.9 341.1 3754.8 343.9 3754.7 346.8 3754.6 349.6 3754.5 352.5 3754.3 355.3 3754.2 358.2 3754.0 361.1 3753.9 363.9 3753.7 366.8 3753.5 369.6 3753.3 372.5 3753.1 375.3 3752.9 378.2 3752.7 381.0 3752.4 383.9 3752.2 386.7 3751.9 389.6 3751.7 392.4 3751.4 395.3 3751.1 398.1 3750.7 401.0 3750.4 403.8 3750.0 406.7 3749.7 409.5 3749.3 412.4 3748.9 415.2 3748.4 418.1 3748.0 421.0 3747.5 423.8 3747.0 426.7 3746.5 429.5 3746.0 432.4 3745.4 435.2 3744.8 438.1 3744.2 440.9 3743.6 443.8 3742.9 446.6 3742.2 449.5 3741.5 452.3 3740.7 455.2 3739.9 458.0 3739.1 460.9 3738.2 463.7 3737.3 466.6 3736.4 469.4 3735.4 472.3 3734.5 475.2 3733.4 478.0 3732.3 480.9 3731.2 483.7 3730.1 486.6 3728.9 489.4 3727.7 492.3 3726.4 495.1 3725.1 498.0 3723.7 500.8 3722.3 503.7 3720.8 506.5 3719.3 509.4 3717.8 512.2 3716.2 515.1 3714.6 517.9 3712.9 520.8 3711.1 523.6 3709.3 526.5 3707.5 529.3 3705.6 532.2 3703.7 535.1 3701.7 537.9 3699.7 540.8 3697.6 543.6 3695.4 546.5 3693.2 549.3 3691.0 552.2 3688.7 555.0 3686.4 557.9 3684.0 560.7 3681.6 563.6 3679.1 566.4 3676.5 569.3 3674.0 572.1 3671.3 575.0 3668.6 577.8 3665.9 580.7 3663.2 583.5 3660.3 586.4 3657.5 589.3 3654.6 592.1 3651.7 595.0 3648.7 597.8 3645.7 600.7 3642.7 603.5 3639.6 606.4 3636.5 609.2 3633.3 612.1 3630.2 614.9 3627.0 617.8 3623.7 620.6 3620.5 623.5 3617.3 626.3 3614.0 629.2 3610.7 632.0 3607.4 634.9 3604.1 637.7 3600.7 640.6 3597.4 643.4 3594.1 646.3 3590.8 649.2 3587.5 652.0 3584.1 654.9 3580.8 657.7 3577.5 660.6 3574.3 663.4 3571.0 666.3 3567.8 669.1 3564.6 672.0 3561.4 674.8 3558.2 677.7 3555.1 680.5 3552.1 683.4 3549.0 686.2 3546.0 689.1 3543.1 691.9 3540.2 694.8 3537.4 697.6 3534.6 700.5 3531.9 703.4 3529.2 706.2 3526.7 709.1 3524.1 711.9 3521.7 714.8 3519.3 717.6 3517.0 720.5 3514.8 723.3 3512.7 726.2 3510.7 729.0 3508.7 731.9 3506.9 734.7 3505.1 737.6 3503.4 740.4 3501.9 743.3 3500.4 746.1 3499.0 749.0 3497.8 751.8 3496.6 754.7 3495.5 757.5 3494.6 760.4 3493.8 763.3 3493.0 766.1 3492.4 769.0 3491.9 771.8 3491.5 774.7 3491.2 777.5 3491.1 780.4 3491.0 783.2 3491.1 786.1 3491.2 788.9 3491.5 791.8 3491.9 794.6 3492.3 797.5 3492.9 800.3 3493.6 803.2 3494.4 806.0 3495.3 808.9 3496.3 811.7 3497.4 814.6 3498.7 817.5 3500.0 820.3 3501.4 823.2 3502.9 826.0 3504.5 828.9 3506.1 831.7 3507.9 834.6 3509.8 837.4 3511.7 840.3 3513.8 843.1 3515.9 846.0 3518.1 848.8 3520.3 851.7 3522.7 854.5 3525.1 857.4 3527.6 860.2 3530.1 863.1 3532.7 865.9 3535.4 868.8 3538.1 871.6 3540.9 874.5 3543.7 877.4 3546.6 880.2 3549.5 883.1 3552.5 885.9 3555.5 888.8 3558.5 891.6 3561.6 894.5 3564.7 897.3 3567.8 900.2 3571.0 903.0 3574.2 905.9 3577.4 908.7 3580.6 911.6 3583.8 914.4 3587.0 917.3 3590.3 920.1 3593.5 923.0 3596.8 925.8 3600.0 928.7 3603.2 931.6 3606.5 934.4 3609.7 937.3 3612.9 940.1 3616.1 943.0 3619.3 945.8 3622.5 948.7 3625.6 951.5 3628.8 954.4 3631.9 957.2 3634.9 960.1 3638.0 962.9 3641.0 965.8 3644.0 968.6 3647.0 971.5 3649.9 974.3 3652.8 977.2 3655.6 980.0 3658.4 982.9 3661.2 985.7 3663.9 988.6 3666.6 991.5 3669.3 994.3 3671.9 997.2 3674.4 1000.0 3676.9 1002.9 3679.4 1005.7 3681.8 1008.6 3684.2 1011.4 3686.5 1014.3 3688.8 1017.1 3691.0 1020.0 3693.2 1022.8 3695.4 1025.7 3697.4 1028.5 3699.5 1031.4 3701.5 1034.2 3703.4 1037.1 3705.3 1039.9 3707.2 1042.8 3709.0 1045.7 3710.7 1048.5 3712.4 1051.4 3714.1 1054.2 3715.7 1057.1 3717.3 1059.9 3718.8 1062.8 3720.3 1065.6 3721.7 1068.5 3723.1 1071.3 3724.5 1074.2 3725.8 1077.0 3727.0 1079.9 3728.3 1082.7 3729.4 1085.6 3730.6 1088.4 3731.7 1091.3 3732.8 1094.1 3733.8 1097.0 3734.8 1099.8 3735.8 1102.7 3736.7 1105.6 3737.6 1108.4 3738.4 1111.3 3739.3 1114.1 3740.1 1117.0 3740.8 1119.8 3741.6 1122.7 3742.3 1125.5 3743.0 1128.4 3743.6 1131.2 3744.2 1134.1 3744.8 1136.9 3745.4 1139.8 3746.0 1142.6 3746.5 1145.5 3747.0 1148.3 3747.5 1151.2 3747.9 1154.0 3748.4 1156.9 3748.8 1159.8 3749.2 1162.6 3749.6 1165.5 3750.0 1168.3 3750.3 1171.2 3750.6 1174.0 3751.0 1176.9 3751.3 1179.7 3751.6 1182.6 3751.8 1185.4 3752.1 1188.3 3752.3 1191.1 3752.6 1194.0 3752.8 1196.8 3753.0 1199.7 3753.2 1202.5 3753.4 1205.4 3753.6 1208.2 3753.8 1211.1 3753.9 1213.9 3754.1 1216.8 3754.2 1219.7 3754.4 1222.5 3754.5 1225.4 3754.6 1228.2 3754.7 1231.1 3754.8 1233.9 3754.9 1236.8 3755.0 1239.6 3755.1 1242.5 3755.2 1245.3 3755.3 1248.2 3755.4 1251.0 3755.5 1253.9 3755.5 1256.7 3755.6 1259.6 3755.6 1262.4 3755.7 1265.3 3755.8 1268.1 3755.8 1271.0 3755.9 1273.9 3755.9 1276.7 3755.9 1279.6 3756.0 1282.4 3756.0 1285.3 3756.0 1288.1 3756.1 1291.0 3756.1 1293.8 3756.1 1296.7 3756.2 1299.5 3756.2 1302.4 3756.2 1305.2 3756.2 1308.1 3756.2 1310.9 3756.3 1313.8 3756.3 1316.6 3756.3 1319.5 3756.3 1322.3 3756.3 1325.2 3756.3 1328.0 3756.4 1330.9 3756.4 1333.8 3756.4 1336.6 3756.4 1339.5 3756.4 1342.3 3756.4 1345.2 3756.4 1348.0 3756.4 1350.9 3756.4 1353.7 3756.4 1356.6 3756.4 1359.4 3756.4 1362.3 3756.4 1365.1 3756.4 1368.0 3756.5 1370.8 3756.5 1373.7 3756.5 1376.5 3756.5 1379.4 3756.5 1382.2 3756.5 1385.1 3756.5 1388.0 3756.5 1390.8 3756.5 1393.7 3756.5 1396.5 3756.5 1399.4 3756.5 1402.2 3756.5 1405.1 3756.5 1407.9 3756.5 1410.8 3756.5 1413.6 3756.5 1416.5 3756.5 1419.3 3756.5 1422.2 3756.5 1425.0 3756.5 1427.9 3756.5 1430.7 3756.5 1433.6 3756.5 1436.4 3756.5 1439.3 3756.5 1442.1 3756.5 1445.0 3756.5 1447.9 3756.5 1450.7 3756.5 1453.6 3756.5 1456.4 3756.5 1459.3 3756.5 1462.1 3756.5 1465.0 3756.5 1467.8 3756.5 1470.7 3756.5 1473.5 3756.5 1476.4 3756.5 1479.2 3756.5 1482.1 3756.5 1484.9 3756.5 1487.8 3756.5 1490.6 3756.5 1493.5 3756.5 1496.3 3756.5 1499.2 3756.5 1502.1 3756.5 1504.9 3756.5 1507.8 3756.5 1510.6 3756.5 1513.5 3756.5 1516.3 3756.5 1519.2 3756.5 1522.0 3756.5 1524.9 3756.5 1527.7 3756.5 1530.6 3756.5 1533.4 3756.5 1536.3 3756.5 1539.1 3756.5 1542.0 3756.5 1544.8 3756.5 1547.7 3756.5 1550.5 3756.5 1553.4 3756.5 1556.2 3756.5 1559.1 3756.5 1562.0 3756.5 1564.8 3756.5 1567.7 3756.5 1570.5 3756.5 1573.4 3756.5 1576.2 3756.5 1579.1 3756.5 1581.9 3756.5 1584.8 3756.5 1587.6 3756.5 1590.5 3756.5 1593.3 3756.5 1596.2 3756.5 1599.0 3756.5 1601.9 3756.5 1604.7 3756.5 1607.6 3756.5 1610.4 3756.5 1613.3 3756.5 1616.2 3756.5 1619.0 3756.5 1621.9 3756.5 1624.7 3756.5 1627.6 3756.5 1630.4 3756.5 1633.3 3756.5 1636.1 3756.5 1639.0 3756.5 1641.8 3756.5 1644.7 3756.5 1647.5 3756.5 1650.4 3756.5 1653.2 3756.5 1656.1 3756.5 1658.9 3756.5 1661.8 3756.5 1664.6 3756.5 1667.5 3756.5 1670.3 3756.5 1673.2 3756.5 1676.1 3756.5 1678.9 3756.5 1681.8 3756.5 1684.6 3756.5 1687.5 3756.5 1690.3 3756.5 1693.2 3756.5 1696.0 3756.5 1698.9 3756.5 1701.7 3756.5 1704.6 3756.5 1707.4 3756.5 1710.3 3756.5 1713.1 3756.5 1716.0 3756.5 1718.8 3756.5 1721.7 3756.5 1724.5 3756.5 1727.4 3756.5 1730.3 3756.5 1733.1 3756.5 1736.0 3756.5 1738.8 3756.5 1741.7 3756.5 1744.5 3756.5 1747.4 3756.5 1750.2 3756.5 1753.1 3756.5 1755.9 3756.5 1758.8 3756.5 1761.6 3756.5 1764.5 3756.5 1767.3 3756.5 1770.2 3756.5 1773.0 3756.5 1775.9 3756.5 1778.7 3756.5 1781.6 3756.5 1784.4 3756.5 1787.3 3756.5 1790.2 3756.5 1793.0 3756.5 1795.9 3756.5 1798.7 3756.5 1801.6 3756.5 1804.4 3756.5 1807.3 3756.5 1810.1 3756.5 1813.0 3756.5 1815.8 3756.5 1818.7 3756.5 1821.5 3756.5 1824.4 3756.5 1827.2 3756.5 1830.1 3756.5 1832.9 3756.5 1835.8 3756.5 1838.6 3756.5 1841.5 3756.5 1844.4 3756.5 1847.2 3756.5 1850.1 3756.5 1852.9 3756.5 1855.8 3756.5 1858.6 3756.5 1861.5 3756.5 1864.3 3756.5 1867.2 3756.5 1870.0 3756.5 1872.9 3756.5 1875.7 3756.5 1878.6 3756.5 1881.4 3756.5 1884.3 3756.5 1887.1 3756.5 1890.0 3756.5 1892.8 3756.5 1895.7 3756.5 1898.5 3756.5 1901.4 3756.5 1904.3 3756.5 1907.1 3756.5 1910.0 3756.5 1912.8 3756.5 1915.7 3756.5 1918.5 3756.5 1921.4 3756.5 1924.2 3756.5 1927.1 3756.5 1929.9 3756.5 1932.8 3756.5 1935.6 3756.5 1938.5 3756.5 1941.3 3756.5 1944.2 3756.5 1947.0 3756.5 1949.9 3756.5 1952.7 3756.5 1955.6 3756.5" fill="none" stroke="#000" stroke-width="4.6" stroke-linejoin="round"/>
<polyline points="289.7 3755.8 292.6 3755.8 295.4 3755.7 298.3 3755.7 301.1 3755.7 304.0 3755.7 306.9 3755.7 309.7 3755.7 312.6 3755.7 315.4 3755.7 318.3 3755.7 321.1 3755.7 324.0 3755.7 326.8 3755.7 329.7 3755.7 332.5 3755.7 335.4 3755.7 338.2 3755.7 341.1 3755.7 343.9 3755.7 346.8 3755.7 349.6 3755.7 352.5 3755.6 355.3 3755.6 358.2 3755.6 361.1 3755.6 363.9 3755.6 366.8 3755.6 369.6 3755.6 372.5 3755.6 375.3 3755.6 378.2 3755.6 381.0 3755.6 383.9 3755.6 386.7 3755.6 389.6 3755.6 392.4 3755.6 395.3 3755.6 398.1 3755.5 401.0 3755.5 403.8 3755.5 406.7 3755.5 409.5 3755.5 412.4 3755.5 415.2 3755.5 418.1 3755.5 421.0 3755.5 423.8 3755.5 426.7 3755.5 429.5 3755.5 432.4 3755.5 435.2 3755.5 438.1 3755.4 440.9 3755.4 443.8 3755.4 446.6 3755.4 449.5 3755.4 452.3 3755.4 455.2 3755.4 458.0 3755.4 460.9 3755.4 463.7 3755.4 466.6 3755.4 469.4 3755.4 472.3 3755.3 475.2 3755.3 478.0 3755.3 480.9 3755.3 483.7 3755.3 486.6 3755.3 489.4 3755.3 492.3 3755.3 495.1 3755.3 498.0 3755.3 500.8 3755.3 503.7 3755.2 506.5 3755.2 509.4 3755.2 512.2 3755.2 515.1 3755.2 517.9 3755.2 520.8 3755.2 523.6 3755.2 526.5 3755.2 529.3 3755.1 532.2 3755.1 535.1 3755.1 537.9 3755.1 540.8 3755.1 543.6 3755.1 546.5 3755.1 549.3 3755.1 552.2 3755.0 555.0 3755.0 557.9 3755.0 560.7 3755.0 563.6 3755.0 566.4 3755.0 569.3 3755.0 572.1 3755.0 575.0 3754.9 577.8 3754.9 580.7 3754.9 583.5 3754.9 586.4 3754.9 589.3 3754.9 592.1 3754.9 595.0 3754.8 597.8 3754.8 600.7 3754.8 603.5 3754.8 606.4 3754.8 609.2 3754.8 612.1 3754.7 614.9 3754.7 617.8 3754.7 620.6 3754.7 623.5 3754.7 626.3 3754.6 629.2 3754.6 632.0 3754.6 634.9 3754.6 637.7 3754.6 640.6 3754.5 643.4 3754.5 646.3 3754.5 649.2 3754.5 652.0 3754.5 654.9 3754.4 657.7 3754.4 660.6 3754.4 663.4 3754.4 666.3 3754.3 669.1 3754.3 672.0 3754.3 674.8 3754.2 677.7 3754.2 680.5 3754.2 683.4 3754.1 686.2 3754.1 689.1 3754.1 691.9 3754.0 694.8 3754.0 697.6 3754.0 700.5 3753.9 703.4 3753.9 706.2 3753.9 709.1 3753.8 711.9 3753.8 714.8 3753.7 717.6 3753.7 720.5 3753.6 723.3 3753.6 726.2 3753.5 729.0 3753.5 731.9 3753.4 734.7 3753.3 737.6 3753.3 740.4 3753.2 743.3 3753.1 746.1 3753.1 749.0 3753.0 751.8 3752.9 754.7 3752.9 757.5 3752.8 760.4 3752.7 763.3 3752.6 766.1 3752.5 769.0 3752.4 771.8 3752.3 774.7 3752.2 777.5 3752.1 780.4 3752.0 783.2 3751.8 786.1 3751.7 788.9 3751.6 791.8 3751.5 794.6 3751.3 797.5 3751.2 800.3 3751.0 803.2 3750.8 806.0 3750.7 808.9 3750.5 811.7 3750.3 814.6 3750.1 817.5 3749.9 820.3 3749.7 823.2 3749.5 826.0 3749.3 828.9 3749.1 831.7 3748.8 834.6 3748.6 837.4 3748.3 840.3 3748.0 843.1 3747.7 846.0 3747.4 848.8 3747.1 851.7 3746.8 854.5 3746.5 857.4 3746.1 860.2 3745.8 863.1 3745.4 865.9 3745.0 868.8 3744.6 871.6 3744.2 874.5 3743.8 877.4 3743.4 880.2 3742.9 883.1 3742.4 885.9 3741.9 888.8 3741.4 891.6 3740.9 894.5 3740.4 897.3 3739.8 900.2 3739.2 903.0 3738.7 905.9 3738.0 908.7 3737.4 911.6 3736.8 914.4 3736.1 917.3 3735.4 920.1 3734.7 923.0 3734.0 925.8 3733.2 928.7 3732.4 931.6 3731.7 934.4 3730.8 937.3 3730.0 940.1 3729.2 943.0 3728.3 945.8 3727.4 948.7 3726.5 951.5 3725.5 954.4 3724.6 957.2 3723.6 960.1 3722.6 962.9 3721.6 965.8 3720.5 968.6 3719.5 971.5 3718.4 974.3 3717.3 977.2 3716.1 980.0 3715.0 982.9 3713.8 985.7 3712.6 988.6 3711.4 991.5 3710.2 994.3 3708.9 997.2 3707.7 1000.0 3706.4 1002.9 3705.1 1005.7 3703.8 1008.6 3702.5 1011.4 3701.1 1014.3 3699.8 1017.1 3698.4 1020.0 3697.0 1022.8 3695.6 1025.7 3694.2 1028.5 3692.8 1031.4 3691.4 1034.2 3689.9 1037.1 3688.5 1039.9 3687.0 1042.8 3685.6 1045.7 3684.1 1048.5 3682.7 1051.4 3681.2 1054.2 3679.7 1057.1 3678.3 1059.9 3676.8 1062.8 3675.3 1065.6 3673.9 1068.5 3672.5 1071.3 3671.0 1074.2 3669.6 1077.0 3668.2 1079.9 3666.8 1082.7 3665.4 1085.6 3664.0 1088.4 3662.6 1091.3 3661.3 1094.1 3660.0 1097.0 3658.7 1099.8 3657.4 1102.7 3656.2 1105.6 3654.9 1108.4 3653.7 1111.3 3652.6 1114.1 3651.4 1117.0 3650.3 1119.8 3649.3 1122.7 3648.2 1125.5 3647.3 1128.4 3646.3 1131.2 3645.4 1134.1 3644.5 1136.9 3643.7 1139.8 3642.9 1142.6 3642.2 1145.5 3641.5 1148.3 3640.9 1151.2 3640.3 1154.0 3639.8 1156.9 3639.3 1159.8 3638.9 1162.6 3638.5 1165.5 3638.2 1168.3 3638.0 1171.2 3637.8 1174.0 3637.6 1176.9 3637.5 1179.7 3637.5 1182.6 3637.5 1185.4 3637.6 1188.3 3637.7 1191.1 3637.9 1194.0 3638.1 1196.8 3638.3 1199.7 3638.6 1202.5 3639.0 1205.4 3639.3 1208.2 3639.8 1211.1 3640.2 1213.9 3640.8 1216.8 3641.3 1219.7 3641.9 1222.5 3642.5 1225.4 3643.2 1228.2 3643.9 1231.1 3644.7 1233.9 3645.5 1236.8 3646.3 1239.6 3647.2 1242.5 3648.1 1245.3 3649.0 1248.2 3650.0 1251.0 3651.0 1253.9 3652.0 1256.7 3653.1 1259.6 3654.2 1262.4 3655.3 1265.3 3656.4 1268.1 3657.6 1271.0 3658.8 1273.9 3660.0 1276.7 3661.2 1279.6 3662.5 1282.4 3663.8 1285.3 3665.1 1288.1 3666.4 1291.0 3667.7 1293.8 3669.1 1296.7 3670.4 1299.5 3671.8 1302.4 3673.1 1305.2 3674.5 1308.1 3675.9 1310.9 3677.3 1313.8 3678.7 1316.6 3680.1 1319.5 3681.5 1322.3 3683.0 1325.2 3684.4 1328.0 3685.8 1330.9 3687.2 1333.8 3688.6 1336.6 3690.0 1339.5 3691.4 1342.3 3692.8 1345.2 3694.2 1348.0 3695.6 1350.9 3697.0 1353.7 3698.4 1356.6 3699.7 1359.4 3701.1 1362.3 3702.4 1365.1 3703.7 1368.0 3705.1 1370.8 3706.4 1373.7 3707.6 1376.5 3708.9 1379.4 3710.2 1382.2 3711.4 1385.1 3712.6 1388.0 3713.8 1390.8 3715.0 1393.7 3716.2 1396.5 3717.4 1399.4 3718.5 1402.2 3719.6 1405.1 3720.7 1407.9 3721.8 1410.8 3722.9 1413.6 3723.9 1416.5 3724.9 1419.3 3725.9 1422.2 3726.9 1425.0 3727.9 1427.9 3728.8 1430.7 3729.7 1433.6 3730.6 1436.4 3731.5 1439.3 3732.3 1442.1 3733.2 1445.0 3734.0 1447.9 3734.8 1450.7 3735.6 1453.6 3736.3 1456.4 3737.1 1459.3 3737.8 1462.1 3738.5 1465.0 3739.1 1467.8 3739.8 1470.7 3740.4 1473.5 3741.1 1476.4 3741.7 1479.2 3742.3 1482.1 3742.8 1484.9 3743.4 1487.8 3743.9 1490.6 3744.4 1493.5 3744.9 1496.3 3745.4 1499.2 3745.9 1502.1 3746.3 1504.9 3746.8 1507.8 3747.2 1510.6 3747.6 1513.5 3748.0 1516.3 3748.3 1519.2 3748.7 1522.0 3749.1 1524.9 3749.4 1527.7 3749.7 1530.6 3750.0 1533.4 3750.3 1536.3 3750.6 1539.1 3750.9 1542.0 3751.2 1544.8 3751.4 1547.7 3751.7 1550.5 3751.9 1553.4 3752.1 1556.2 3752.3 1559.1 3752.6 1562.0 3752.7 1564.8 3752.9 1567.7 3753.1 1570.5 3753.3 1573.4 3753.5 1576.2 3753.6 1579.1 3753.8 1581.9 3753.9 1584.8 3754.0 1587.6 3754.2 1590.5 3754.3 1593.3 3754.4 1596.2 3754.5 1599.0 3754.6 1601.9 3754.7 1604.7 3754.8 1607.6 3754.9 1610.4 3755.0 1613.3 3755.1 1616.2 3755.2 1619.0 3755.3 1621.9 3755.3 1624.7 3755.4 1627.6 3755.5 1630.4 3755.5 1633.3 3755.6 1636.1 3755.6 1639.0 3755.7 1641.8 3755.7 1644.7 3755.8 1647.5 3755.8 1650.4 3755.9 1653.2 3755.9 1656.1 3755.9 1658.9 3756.0 1661.8 3756.0 1664.6 3756.0 1667.5 3756.1 1670.3 3756.1 1673.2 3756.1 1676.1 3756.2 1678.9 3756.2 1681.8 3756.2 1684.6 3756.2 1687.5 3756.2 1690.3 3756.3 1693.2 3756.3 1696.0 3756.3 1698.9 3756.3 1701.7 3756.3 1704.6 3756.3 1707.4 3756.3 1710.3 3756.3 1713.1 3756.4 1716.0 3756.4 1718.8 3756.4 1721.7 3756.4 1724.5 3756.4 1727.4 3756.4 1730.3 3756.4 1733.1 3756.4 1736.0 3756.4 1738.8 3756.4 1741.7 3756.4 1744.5 3756.4 1747.4 3756.4 1750.2 3756.4 1753.1 3756.5 1755.9 3756.5 1758.8 3756.5 1761.6 3756.5 1764.5 3756.5 1767.3 3756.5 1770.2 3756.5 1773.0 3756.5 1775.9 3756.5 1778.7 3756.5 1781.6 3756.5 1784.4 3756.5 1787.3 3756.5 1790.2 3756.5 1793.0 3756.5 1795.9 3756.5 1798.7 3756.5 1801.6 3756.5 1804.4 3756.5 1807.3 3756.5 1810.1 3756.5 1813.0 3756.5 1815.8 3756.5 1818.7 3756.5 1821.5 3756.5 1824.4 3756.5 1827.2 3756.5 1830.1 3756.5 1832.9 3756.5 1835.8 3756.5 1838.6 3756.5 1841.5 3756.5 1844.4 3756.5 1847.2 3756.5 1850.1 3756.5 1852.9 3756.5 1855.8 3756.5 1858.6 3756.5 1861.5 3756.5 1864.3 3756.5 1867.2 3756.5 1870.0 3756.5 1872.9 3756.5 1875.7 3756.5 1878.6 3756.5 1881.4 3756.5 1884.3 3756.5 1887.1 3756.5 1890.0 3756.5 1892.8 3756.5 1895.7 3756.5 1898.5 3756.5 1901.4 3756.5 1904.3 3756.5 1907.1 3756.5 1910.0 3756.5 1912.8 3756.5 1915.7 3756.5 1918.5 3756.5 1921.4 3756.5 1924.2 3756.5 1927.1 3756.5 1929.9 3756.5 1932.8 3756.5 1935.6 3756.5 1938.5 3756.5 1941.3 3756.5 1944.2 3756.5 1947.0 3756.5 1949.9 3756.5 1952.7 3756.5 1955.6 3756.5" fill="none" stroke="#000" stroke-width="4.6" stroke-linejoin="round"/>
<polyline points="289.7 3756.5 292.6 3756.5 295.4 3756.5 298.3 3756.5 301.1 3756.5 304.0 3756.5 306.9 3756.5 309.7 3756.5 312.6 3756.5 315.4 3756.5 318.3 3756.5 321.1 3756.5 324.0 3756.5 326.8 3756.5 329.7 3756.5 332.5 3756.5 335.4 3756.5 338.2 3756.5 341.1 3756.5 343.9 3756.5 346.8 3756.5 349.6 3756.5 352.5 3756.5 355.3 3756.5 358.2 3756.5 361.1 3756.5 363.9 3756.5 366.8 3756.5 369.6 3756.5 372.5 3756.5 375.3 3756.5 378.2 3756.5 381.0 3756.5 383.9 3756.5 386.7 3756.5 389.6 3756.5 392.4 3756.5 395.3 3756.5 398.1 3756.5 401.0 3756.5 403.8 3756.5 406.7 3756.5 409.5 3756.5 412.4 3756.5 415.2 3756.5 418.1 3756.5 421.0 3756.5 423.8 3756.5 426.7 3756.5 429.5 3756.5 432.4 3756.5 435.2 3756.5 438.1 3756.5 440.9 3756.5 443.8 3756.5 446.6 3756.5 449.5 3756.5 452.3 3756.5 455.2 3756.5 458.0 3756.5 460.9 3756.5 463.7 3756.5 466.6 3756.5 469.4 3756.5 472.3 3756.5 475.2 3756.5 478.0 3756.5 480.9 3756.5 483.7 3756.5 486.6 3756.5 489.4 3756.5 492.3 3756.5 495.1 3756.5 498.0 3756.5 500.8 3756.5 503.7 3756.5 506.5 3756.5 509.4 3756.5 512.2 3756.5 515.1 3756.5 517.9 3756.5 520.8 3756.5 523.6 3756.5 526.5 3756.5 529.3 3756.5 532.2 3756.5 535.1 3756.5 537.9 3756.5 540.8 3756.5 543.6 3756.5 546.5 3756.5 549.3 3756.5 552.2 3756.5 555.0 3756.5 557.9 3756.5 560.7 3756.5 563.6 3756.5 566.4 3756.5 569.3 3756.5 572.1 3756.5 575.0 3756.5 577.8 3756.5 580.7 3756.5 583.5 3756.5 586.4 3756.5 589.3 3756.5 592.1 3756.5 595.0 3756.5 597.8 3756.5 600.7 3756.5 603.5 3756.5 606.4 3756.5 609.2 3756.5 612.1 3756.5 614.9 3756.5 617.8 3756.5 620.6 3756.5 623.5 3756.5 626.3 3756.5 629.2 3756.5 632.0 3756.5 634.9 3756.5 637.7 3756.5 640.6 3756.5 643.4 3756.5 646.3 3756.5 649.2 3756.5 652.0 3756.5 654.9 3756.5 657.7 3756.5 660.6 3756.5 663.4 3756.5 666.3 3756.5 669.1 3756.5 672.0 3756.5 674.8 3756.5 677.7 3756.5 680.5 3756.5 683.4 3756.5 686.2 3756.5 689.1 3756.5 691.9 3756.5 694.8 3756.5 697.6 3756.5 700.5 3756.5 703.4 3756.5 706.2 3756.5 709.1 3756.5 711.9 3756.5 714.8 3756.5 717.6 3756.5 720.5 3756.5 723.3 3756.5 726.2 3756.5 729.0 3756.5 731.9 3756.5 734.7 3756.5 737.6 3756.5 740.4 3756.5 743.3 3756.5 746.1 3756.5 749.0 3756.5 751.8 3756.5 754.7 3756.5 757.5 3756.5 760.4 3756.5 763.3 3756.5 766.1 3756.5 769.0 3756.5 771.8 3756.5 774.7 3756.5 777.5 3756.5 780.4 3756.5 783.2 3756.5 786.1 3756.5 788.9 3756.5 791.8 3756.5 794.6 3756.5 797.5 3756.5 800.3 3756.5 803.2 3756.5 806.0 3756.5 808.9 3756.5 811.7 3756.5 814.6 3756.5 817.5 3756.5 820.3 3756.5 823.2 3756.5 826.0 3756.5 828.9 3756.5 831.7 3756.5 834.6 3756.5 837.4 3756.5 840.3 3756.5 843.1 3756.5 846.0 3756.5 848.8 3756.5 851.7 3756.5 854.5 3756.5 857.4 3756.5 860.2 3756.4 863.1 3756.4 865.9 3756.4 868.8 3756.4 871.6 3756.4 874.5 3756.4 877.4 3756.4 880.2 3756.4 883.1 3756.4 885.9 3756.4 888.8 3756.4 891.6 3756.4 894.5 3756.4 897.3 3756.3 900.2 3756.3 903.0 3756.3 905.9 3756.3 908.7 3756.3 911.6 3756.3 914.4 3756.2 917.3 3756.2 920.1 3756.2 923.0 3756.2 925.8 3756.2 928.7 3756.1 931.6 3756.1 934.4 3756.1 937.3 3756.0 940.1 3756.0 943.0 3756.0 945.8 3755.9 948.7 3755.9 951.5 3755.8 954.4 3755.8 957.2 3755.7 960.1 3755.7 962.9 3755.6 965.8 3755.5 968.6 3755.5 971.5 3755.4 974.3 3755.3 977.2 3755.2 980.0 3755.1 982.9 3755.1 985.7 3755.0 988.6 3754.9 991.5 3754.7 994.3 3754.6 997.2 3754.5 1000.0 3754.4 1002.9 3754.2 1005.7 3754.1 1008.6 3753.9 1011.4 3753.8 1014.3 3753.6 1017.1 3753.4 1020.0 3753.2 1022.8 3753.0 1025.7 3752.8 1028.5 3752.6 1031.4 3752.3 1034.2 3752.1 1037.1 3751.8 1039.9 3751.5 1042.8 3751.2 1045.7 3750.9 1048.5 3750.6 1051.4 3750.3 1054.2 3749.9 1057.1 3749.5 1059.9 3749.2 1062.8 3748.7 1065.6 3748.3 1068.5 3747.9 1071.3 3747.4 1074.2 3746.9 1077.0 3746.4 1079.9 3745.9 1082.7 3745.3 1085.6 3744.8 1088.4 3744.2 1091.3 3743.5 1094.1 3742.9 1097.0 3742.2 1099.8 3741.5 1102.7 3740.8 1105.6 3740.0 1108.4 3739.3 1111.3 3738.4 1114.1 3737.6 1117.0 3736.7 1119.8 3735.8 1122.7 3734.9 1125.5 3733.9 1128.4 3732.9 1131.2 3731.9 1134.1 3730.8 1136.9 3729.7 1139.8 3728.6 1142.6 3727.4 1145.5 3726.2 1148.3 3725.0 1151.2 3723.7 1154.0 3722.4 1156.9 3721.1 1159.8 3719.7 1162.6 3718.3 1165.5 3716.8 1168.3 3715.3 1171.2 3713.8 1174.0 3712.2 1176.9 3710.6 1179.7 3709.0 1182.6 3707.3 1185.4 3705.6 1188.3 3703.9 1191.1 3702.1 1194.0 3700.3 1196.8 3698.4 1199.7 3696.5 1202.5 3694.6 1205.4 3692.7 1208.2 3690.7 1211.1 3688.7 1213.9 3686.7 1216.8 3684.6 1219.7 3682.5 1222.5 3680.4 1225.4 3678.3 1228.2 3676.1 1231.1 3673.9 1233.9 3671.7 1236.8 3669.5 1239.6 3667.2 1242.5 3665.0 1245.3 3662.7 1248.2 3660.4 1251.0 3658.1 1253.9 3655.8 1256.7 3653.5 1259.6 3651.2 1262.4 3648.9 1265.3 3646.6 1268.1 3644.3 1271.0 3642.0 1273.9 3639.6 1276.7 3637.3 1279.6 3635.1 1282.4 3632.8 1285.3 3630.5 1288.1 3628.3 1291.0 3626.1 1293.8 3623.9 1296.7 3621.7 1299.5 3619.5 1302.4 3617.4 1305.2 3615.3 1308.1 3613.3 1310.9 3611.3 1313.8 3609.3 1316.6 3607.4 1319.5 3605.5 1322.3 3603.6 1325.2 3601.8 1328.0 3600.1 1330.9 3598.4 1333.8 3596.7 1336.6 3595.2 1339.5 3593.6 1342.3 3592.2 1345.2 3590.8 1348.0 3589.4 1350.9 3588.2 1353.7 3587.0 1356.6 3585.8 1359.4 3584.8 1362.3 3583.8 1365.1 3582.9 1368.0 3582.0 1370.8 3581.3 1373.7 3580.6 1376.5 3580.0 1379.4 3579.5 1382.2 3579.0 1385.1 3578.7 1388.0 3578.4 1390.8 3578.2 1393.7 3578.0 1396.5 3578.0 1399.4 3578.0 1402.2 3578.2 1405.1 3578.4 1407.9 3578.6 1410.8 3579.0 1413.6 3579.4 1416.5 3580.0 1419.3 3580.5 1422.2 3581.2 1425.0 3582.0 1427.9 3582.8 1430.7 3583.7 1433.6 3584.6 1436.4 3585.7 1439.3 3586.8 1442.1 3588.0 1445.0 3589.2 1447.9 3590.5 1450.7 3591.9 1453.6 3593.3 1456.4 3594.8 1459.3 3596.4 1462.1 3598.0 1465.0 3599.6 1467.8 3601.3 1470.7 3603.1 1473.5 3604.9 1476.4 3606.8 1479.2 3608.7 1482.1 3610.6 1484.9 3612.6 1487.8 3614.6 1490.6 3616.7 1493.5 3618.8 1496.3 3620.9 1499.2 3623.0 1502.1 3625.2 1504.9 3627.4 1507.8 3629.6 1510.6 3631.8 1513.5 3634.1 1516.3 3636.3 1519.2 3638.6 1522.0 3640.9 1524.9 3643.1 1527.7 3645.4 1530.6 3647.7 1533.4 3650.0 1536.3 3652.3 1539.1 3654.6 1542.0 3656.9 1544.8 3659.2 1547.7 3661.4 1550.5 3663.7 1553.4 3665.9 1556.2 3668.1 1559.1 3670.3 1562.0 3672.5 1564.8 3674.7 1567.7 3676.9 1570.5 3679.0 1573.4 3681.1 1576.2 3683.2 1579.1 3685.2 1581.9 3687.3 1584.8 3689.3 1587.6 3691.3 1590.5 3693.2 1593.3 3695.1 1596.2 3697.0 1599.0 3698.9 1601.9 3700.7 1604.7 3702.5 1607.6 3704.2 1610.4 3705.9 1613.3 3707.6 1616.2 3709.3 1619.0 3710.9 1621.9 3712.5 1624.7 3714.0 1627.6 3715.5 1630.4 3717.0 1633.3 3718.4 1636.1 3719.8 1639.0 3721.2 1641.8 3722.5 1644.7 3723.8 1647.5 3725.1 1650.4 3726.3 1653.2 3727.5 1656.1 3728.6 1658.9 3729.7 1661.8 3730.8 1664.6 3731.9 1667.5 3732.9 1670.3 3733.9 1673.2 3734.9 1676.1 3735.8 1678.9 3736.7 1681.8 3737.5 1684.6 3738.4 1687.5 3739.2 1690.3 3740.0 1693.2 3740.7 1696.0 3741.4 1698.9 3742.1 1701.7 3742.8 1704.6 3743.4 1707.4 3744.1 1710.3 3744.7 1713.1 3745.2 1716.0 3745.8 1718.8 3746.3 1721.7 3746.8 1724.5 3747.3 1727.4 3747.8 1730.3 3748.2 1733.1 3748.6 1736.0 3749.0 1738.8 3749.4 1741.7 3749.8 1744.5 3750.2 1747.4 3750.5 1750.2 3750.8 1753.1 3751.1 1755.9 3751.4 1758.8 3751.7 1761.6 3752.0 1764.5 3752.2 1767.3 3752.5 1770.2 3752.7 1773.0 3752.9 1775.9 3753.1 1778.7 3753.3 1781.6 3753.5 1784.4 3753.7 1787.3 3753.8 1790.2 3754.0 1793.0 3754.2 1795.9 3754.3 1798.7 3754.4 1801.6 3754.6 1804.4 3754.7 1807.3 3754.8 1810.1 3754.9 1813.0 3755.0 1815.8 3755.1 1818.7 3755.2 1821.5 3755.3 1824.4 3755.4 1827.2 3755.4 1830.1 3755.5 1832.9 3755.6 1835.8 3755.6 1838.6 3755.7 1841.5 3755.7 1844.4 3755.8 1847.2 3755.8 1850.1 3755.9 1852.9 3755.9 1855.8 3756.0 1858.6 3756.0 1861.5 3756.0 1864.3 3756.1 1867.2 3756.1 1870.0 3756.1 1872.9 3756.2 1875.7 3756.2 1878.6 3756.2 1881.4 3756.2 1884.3 3756.2 1887.1 3756.3 1890.0 3756.3 1892.8 3756.3 1895.7 3756.3 1898.5 3756.3 1901.4 3756.3 1904.3 3756.4 1907.1 3756.4 1910.0 3756.4 1912.8 3756.4 1915.7 3756.4 1918.5 3756.4 1921.4 3756.4 1924.2 3756.4 1927.1 3756.4 1929.9 3756.4 1932.8 3756.4 1935.6 3756.4 1938.5 3756.4 1941.3 3756.4 1944.2 3756.5 1947.0 3756.5 1949.9 3756.5 1952.7 3756.5 1955.6 3756.5" fill="none" stroke="#000" stroke-width="4.6" stroke-linejoin="round"/>
<polyline points="289.7 3744.9 292.6 3744.3 295.4 3743.6 298.3 3742.9 301.1 3742.2 304.0 3741.5 306.9 3740.7 309.7 3739.9 312.6 3739.1 315.4 3738.2 318.3 3737.3 321.1 3736.4 324.0 3735.4 326.8 3734.4 329.7 3733.3 332.5 3732.2 335.4 3731.1 338.2 3729.9 341.1 3728.7 343.9 3727.4 346.8 3726.1 349.6 3724.8 352.5 3723.4 355.3 3721.9 358.2 3720.4 361.1 3718.9 363.9 3717.3 366.8 3715.6 369.6 3713.9 372.5 3712.2 375.3 3710.3 378.2 3708.5 381.0 3706.6 383.9 3704.6 386.7 3702.6 389.6 3700.5 392.4 3698.4 395.3 3696.2 398.1 3694.0 401.0 3691.7 403.8 3689.4 406.7 3687.0 409.5 3684.5 412.4 3682.0 415.2 3679.5 418.1 3676.9 421.0 3674.2 423.8 3671.5 426.7 3668.8 429.5 3665.9 432.4 3663.1 435.2 3660.2 438.1 3657.2 440.9 3654.2 443.8 3651.2 446.6 3648.1 449.5 3644.9 452.3 3641.8 455.2 3638.5 458.0 3635.3 460.9 3632.0 463.7 3628.6 466.6 3625.3 469.4 3621.9 472.3 3618.4 475.2 3615.0 478.0 3611.5 480.9 3607.9 483.7 3604.4 486.6 3600.8 489.4 3597.2 492.3 3593.6 495.1 3590.0 498.0 3586.4 500.8 3582.7 503.7 3579.1 506.5 3575.4 509.4 3571.7 512.2 3568.1 515.1 3564.4 517.9 3560.7 520.8 3557.0 523.6 3553.4 526.5 3549.7 529.3 3546.1 532.2 3542.4 535.1 3538.8 537.9 3535.2 540.8 3531.6 543.6 3528.1 546.5 3524.5 549.3 3521.0 552.2 3517.5 555.0 3514.1 557.9 3510.6 560.7 3507.2 563.6 3503.9 566.4 3500.6 569.3 3497.3 572.1 3494.0 575.0 3490.8 577.8 3487.7 580.7 3484.5 583.5 3481.5 586.4 3478.4 589.3 3475.5 592.1 3472.6 595.0 3469.7 597.8 3466.9 600.7 3464.1 603.5 3461.4 606.4 3458.7 609.2 3456.1 612.1 3453.5 614.9 3451.0 617.8 3448.6 620.6 3446.2 623.5 3443.9 626.3 3441.6 629.2 3439.4 632.0 3437.3 634.9 3435.2 637.7 3433.2 640.6 3431.2 643.4 3429.3 646.3 3427.5 649.2 3425.8 652.0 3424.1 654.9 3422.5 657.7 3420.9 660.6 3419.5 663.4 3418.1 666.3 3416.7 669.1 3415.5 672.0 3414.3 674.8 3413.2 677.7 3412.1 680.5 3411.2 683.4 3410.3 686.2 3409.5 689.1 3408.7 691.9 3408.1 694.8 3407.5 697.6 3407.0 700.5 3406.6 703.4 3406.2 706.2 3405.9 709.1 3405.7 711.9 3405.6 714.8 3405.6 717.6 3405.6 720.5 3405.8 723.3 3406.0 726.2 3406.3 729.0 3406.6 731.9 3407.1 734.7 3407.6 737.6 3408.2 740.4 3408.9 743.3 3409.7 746.1 3410.5 749.0 3411.5 751.8 3412.5 754.7 3413.6 757.5 3414.8 760.4 3416.0 763.3 3417.3 766.1 3418.7 769.0 3420.2 771.8 3421.8 774.7 3423.4 777.5 3425.2 780.4 3427.0 783.2 3428.8 786.1 3430.7 788.9 3432.7 791.8 3434.8 794.6 3436.9 797.5 3439.1 800.3 3441.4 803.2 3443.7 806.0 3446.0 808.9 3448.5 811.7 3450.9 814.6 3453.5 817.5 3456.1 820.3 3458.7 823.2 3461.4 826.0 3464.1 828.9 3466.9 831.7 3469.7 834.6 3472.6 837.4 3475.5 840.3 3478.4 843.1 3481.3 846.0 3484.3 848.8 3487.4 851.7 3490.4 854.5 3493.5 857.4 3496.6 860.2 3499.7 863.1 3502.8 865.9 3506.0 868.8 3509.1 871.6 3512.3 874.5 3515.4 877.4 3518.6 880.2 3521.8 883.1 3525.0 885.9 3528.1 888.8 3531.3 891.6 3534.4 894.5 3537.6 897.3 3540.7 900.2 3543.8 903.0 3546.9 905.9 3549.9 908.7 3553.0 911.6 3556.0 914.4 3558.9 917.3 3561.9 920.1 3564.8 923.0 3567.6 925.8 3570.4 928.7 3573.2 931.6 3576.0 934.4 3578.6 937.3 3581.3 940.1 3583.9 943.0 3586.4 945.8 3588.9 948.7 3591.3 951.5 3593.7 954.4 3596.0 957.2 3598.2 960.1 3600.4 962.9 3602.5 965.8 3604.5 968.6 3606.5 971.5 3608.4 974.3 3610.3 977.2 3612.0 980.0 3613.7 982.9 3615.4 985.7 3616.9 988.6 3618.4 991.5 3619.8 994.3 3621.1 997.2 3622.4 1000.0 3623.6 1002.9 3624.7 1005.7 3625.7 1008.6 3626.7 1011.4 3627.6 1014.3 3628.4 1017.1 3629.1 1020.0 3629.7 1022.8 3630.3 1025.7 3630.8 1028.5 3631.3 1031.4 3631.6 1034.2 3631.9 1037.1 3632.2 1039.9 3632.3 1042.8 3632.4 1045.7 3632.4 1048.5 3632.4 1051.4 3632.3 1054.2 3632.1 1057.1 3631.8 1059.9 3631.5 1062.8 3631.2 1065.6 3630.7 1068.5 3630.3 1071.3 3629.7 1074.2 3629.1 1077.0 3628.5 1079.9 3627.8 1082.7 3627.0 1085.6 3626.2 1088.4 3625.4 1091.3 3624.5 1094.1 3623.6 1097.0 3622.6 1099.8 3621.6 1102.7 3620.6 1105.6 3619.5 1108.4 3618.4 1111.3 3617.2 1114.1 3616.1 1117.0 3614.9 1119.8 3613.6 1122.7 3612.4 1125.5 3611.1 1128.4 3609.8 1131.2 3608.5 1134.1 3607.2 1136.9 3605.8 1139.8 3604.5 1142.6 3603.1 1145.5 3601.7 1148.3 3600.4 1151.2 3599.0 1154.0 3597.6 1156.9 3596.2 1159.8 3594.8 1162.6 3593.4 1165.5 3592.0 1168.3 3590.6 1171.2 3589.2 1174.0 3587.8 1176.9 3586.4 1179.7 3585.0 1182.6 3583.7 1185.4 3582.3 1188.3 3580.9 1191.1 3579.5 1194.0 3578.1 1196.8 3576.8 1199.7 3575.4 1202.5 3574.0 1205.4 3572.6 1208.2 3571.2 1211.1 3569.9 1213.9 3568.5 1216.8 3567.1 1219.7 3565.8 1222.5 3564.4 1225.4 3563.1 1228.2 3561.8 1231.1 3560.5 1233.9 3559.1 1236.8 3557.8 1239.6 3556.6 1242.5 3555.3 1245.3 3554.0 1248.2 3552.8 1251.0 3551.6 1253.9 3550.4 1256.7 3549.2 1259.6 3548.0 1262.4 3546.9 1265.3 3545.8 1268.1 3544.7 1271.0 3543.6 1273.9 3542.5 1276.7 3541.5 1279.6 3540.5 1282.4 3539.6 1285.3 3538.6 1288.1 3537.7 1291.0 3536.9 1293.8 3536.0 1296.7 3535.2 1299.5 3534.5 1302.4 3533.8 1305.2 3533.1 1308.1 3532.4 1310.9 3531.8 1313.8 3531.3 1316.6 3530.8 1319.5 3530.3 1322.3 3529.9 1325.2 3529.5 1328.0 3529.2 1330.9 3529.0 1333.8 3528.7 1336.6 3528.6 1339.5 3528.5 1342.3 3528.4 1345.2 3528.4 1348.0 3528.5 1350.9 3528.6 1353.7 3528.8 1356.6 3529.0 1359.4 3529.3 1362.3 3529.7 1365.1 3530.1 1368.0 3530.6 1370.8 3531.1 1373.7 3531.7 1376.5 3532.4 1379.4 3533.1 1382.2 3533.9 1385.1 3534.8 1388.0 3535.7 1390.8 3536.7 1393.7 3537.7 1396.5 3538.8 1399.4 3540.0 1402.2 3541.3 1405.1 3542.6 1407.9 3543.9 1410.8 3545.3 1413.6 3546.8 1416.5 3548.4 1419.3 3549.9 1422.2 3551.6 1425.0 3553.3 1427.9 3555.1 1430.7 3556.9 1433.6 3558.7 1436.4 3560.7 1439.3 3562.6 1442.1 3564.6 1445.0 3566.7 1447.9 3568.8 1450.7 3570.9 1453.6 3573.1 1456.4 3575.4 1459.3 3577.6 1462.1 3579.9 1465.0 3582.3 1467.8 3584.6 1470.7 3587.0 1473.5 3589.5 1476.4 3591.9 1479.2 3594.4 1482.1 3596.9 1484.9 3599.5 1487.8 3602.0 1490.6 3604.6 1493.5 3607.2 1496.3 3609.8 1499.2 3612.4 1502.1 3615.0 1504.9 3617.6 1507.8 3620.3 1510.6 3622.9 1513.5 3625.5 1516.3 3628.2 1519.2 3630.8 1522.0 3633.4 1524.9 3636.0 1527.7 3638.7 1530.6 3641.3 1533.4 3643.9 1536.3 3646.4 1539.1 3649.0 1542.0 3651.5 1544.8 3654.1 1547.7 3656.6 1550.5 3659.1 1553.4 3661.5 1556.2 3664.0 1559.1 3666.4 1562.0 3668.8 1564.8 3671.2 1567.7 3673.5 1570.5 3675.8 1573.4 3678.1 1576.2 3680.3 1579.1 3682.5 1581.9 3684.7 1584.8 3686.8 1587.6 3688.9 1590.5 3691.0 1593.3 3693.0 1596.2 3695.0 1599.0 3697.0 1601.9 3698.9 1604.7 3700.8 1607.6 3702.6 1610.4 3704.5 1613.3 3706.2 1616.2 3707.9 1619.0 3709.6 1621.9 3711.3 1624.7 3712.9 1627.6 3714.5 1630.4 3716.0 1633.3 3717.5 1636.1 3718.9 1639.0 3720.4 1641.8 3721.7 1644.7 3723.1 1647.5 3724.4 1650.4 3725.6 1653.2 3726.9 1656.1 3728.1 1658.9 3729.2 1661.8 3730.3 1664.6 3731.4 1667.5 3732.5 1670.3 3733.5 1673.2 3734.5 1676.1 3735.4 1678.9 3736.3 1681.8 3737.2 1684.6 3738.1 1687.5 3738.9 1690.3 3739.7 1693.2 3740.5 1696.0 3741.2 1698.9 3741.9 1701.7 3742.6 1704.6 3743.3 1707.4 3743.9 1710.3 3744.5 1713.1 3745.1 1716.0 3745.6 1718.8 3746.2 1721.7 3746.7 1724.5 3747.2 1727.4 3747.7 1730.3 3748.1 1733.1 3748.5 1736.0 3749.0 1738.8 3749.4 1741.7 3749.7 1744.5 3750.1 1747.4 3750.4 1750.2 3750.8 1753.1 3751.1 1755.9 3751.4 1758.8 3751.7 1761.6 3751.9 1764.5 3752.2 1767.3 3752.4 1770.2 3752.7 1773.0 3752.9 1775.9 3753.1 1778.7 3753.3 1781.6 3753.5 1784.4 3753.7 1787.3 3753.8 1790.2 3754.0 1793.0 3754.1 1795.9 3754.3 1798.7 3754.4 1801.6 3754.5 1804.4 3754.7 1807.3 3754.8 1810.1 3754.9 1813.0 3755.0 1815.8 3755.1 1818.7 3755.2 1821.5 3755.3 1824.4 3755.3 1827.2 3755.4 1830.1 3755.5 1832.9 3755.6 1835.8 3755.6 1838.6 3755.7 1841.5 3755.7 1844.4 3755.8 1847.2 3755.8 1850.1 3755.9 1852.9 3755.9 1855.8 3756.0 1858.6 3756.0 1861.5 3756.0 1864.3 3756.1 1867.2 3756.1 1870.0 3756.1 1872.9 3756.2 1875.7 3756.2 1878.6 3756.2 1881.4 3756.2 1884.3 3756.2 1887.1 3756.3 1890.0 3756.3 1892.8 3756.3 1895.7 3756.3 1898.5 3756.3 1901.4 3756.3 1904.3 3756.4 1907.1 3756.4 1910.0 3756.4 1912.8 3756.4 1915.7 3756.4 1918.5 3756.4 1921.4 3756.4 1924.2 3756.4 1927.1 3756.4 1929.9 3756.4 1932.8 3756.4 1935.6 3756.4 1938.5 3756.4 1941.3 3756.4 1944.2 3756.5 1947.0 3756.5 1949.9 3756.5 1952.7 3756.5 1955.6 3756.5" fill="none" stroke="#000" stroke-width="5" stroke-linejoin="round"/>
<polyline points="289.7 3744.9 293.2 3751.4 296.6 3747.1 300.0 3752.5 303.4 3739.5 306.9 3751.0 310.3 3687.3 313.7 3723.6 317.1 3731.0 320.5 3740.2 324.0 3739.4 327.4 3726.8 330.8 3732.0 334.2 3728.3 337.7 3735.0 341.1 3722.3 344.5 3732.5 347.9 3725.2 351.4 3735.1 354.8 3726.6 358.2 3717.6 361.6 3735.6 365.0 3719.7 368.5 3709.9 371.9 3713.3 375.3 3702.9 378.7 3723.6 382.2 3702.6 385.6 3700.6 389.0 3711.0 392.4 3706.9 395.9 3680.4 399.3 3700.1 402.7 3694.6 406.1 3684.0 409.5 3687.0 413.0 3678.9 416.4 3654.2 419.8 3672.9 423.2 3665.6 426.7 3667.0 430.1 3679.5 433.5 3658.2 436.9 3633.0 440.4 3660.8 443.8 3642.8 447.2 3658.7 450.6 3630.5 454.0 3656.5 457.5 3626.4 460.9 3632.6 464.3 3646.7 467.7 3623.6 471.2 3618.1 474.6 3621.4 478.0 3605.1 481.4 3613.2 484.9 3600.2 488.3 3593.7 491.7 3596.4 495.1 3596.2 498.5 3592.0 502.0 3587.1 505.4 3572.2 508.8 3578.0 512.2 3554.0 515.7 3556.2 519.1 3578.9 522.5 3554.2 525.9 3555.9 529.3 3557.4 532.8 3541.3 536.2 3538.9 539.6 3523.7 543.0 3497.8 546.5 3526.1 549.9 3514.2 553.3 3509.9 556.7 3515.6 560.2 3513.2 563.6 3492.6 567.0 3514.3 570.4 3496.5 573.8 3468.0 577.3 3489.5 580.7 3488.7 584.1 3475.0 587.5 3469.7 591.0 3476.4 594.4 3449.9 597.8 3491.2 601.2 3473.2 604.7 3464.7 608.1 3449.8 611.5 3439.8 614.9 3449.0 618.3 3455.1 621.8 3440.7 625.2 3456.9 628.6 3444.5 632.0 3428.1 635.5 3430.5 638.9 3429.2 642.3 3440.9 645.7 3411.1 649.2 3426.4 652.6 3427.8 656.0 3419.6 659.4 3424.0 662.8 3430.7 666.3 3412.0 669.7 3419.6 673.1 3420.5 676.5 3421.3 680.0 3408.2 683.4 3415.7 686.8 3405.8 690.2 3410.5 693.7 3385.2 697.1 3409.9 700.5 3411.0 703.9 3412.5 707.3 3413.1 710.8 3397.8 714.2 3358.5 717.6 3418.4 721.0 3412.7 724.5 3403.4 727.9 3375.9 731.3 3411.6 734.7 3407.5 738.2 3418.8 741.6 3411.4 745.0 3404.9 748.4 3401.4 751.8 3408.8 755.3 3415.8 758.7 3392.1 762.1 3410.2 765.5 3415.8 769.0 3425.3 772.4 3412.5 775.8 3418.4 779.2 3431.0 782.7 3437.2 786.1 3464.7 789.5 3423.2 792.9 3429.9 796.3 3438.0 799.8 3445.3 803.2 3446.8 806.6 3453.3 810.0 3455.7 813.5 3456.3 816.9 3458.9 820.3 3452.0 823.7 3469.9 827.2 3465.8 830.6 3472.6 834.0 3456.0 837.4 3474.1 840.8 3469.6 844.3 3477.8 847.7 3486.0 851.1 3493.1 854.5 3484.2 858.0 3501.3 861.4 3441.7 864.8 3497.8 868.2 3503.9 871.6 3511.8 875.1 3523.2 878.5 3515.7 881.9 3527.0 885.3 3523.6 888.8 3531.6 892.2 3539.7 895.6 3545.4 899.0 3538.5 902.5 3496.9 905.9 3552.0 909.3 3551.0 912.7 3548.8 916.1 3566.2 919.6 3566.6 923.0 3574.9 926.4 3563.9 929.8 3573.0 933.3 3580.7 936.7 3591.4 940.1 3585.3 943.5 3580.9 947.0 3592.0 950.4 3591.8 953.8 3591.8 957.2 3580.9 960.6 3600.7 964.1 3593.1 967.5 3610.9 970.9 3613.5 974.3 3609.0 977.8 3613.3 981.2 3616.1 984.6 3612.1 988.0 3601.3 991.5 3625.8 994.9 3625.8 998.3 3599.9 1001.7 3600.9 1005.1 3599.4 1008.6 3580.1 1012.0 3621.1 1015.4 3624.1 1018.8 3629.9 1022.3 3627.4 1025.7 3612.1 1029.1 3620.4 1032.5 3638.6 1036.0 3628.5 1039.4 3633.4 1042.8 3633.9 1046.2 3625.5 1049.6 3625.2 1053.1 3638.7 1056.5 3633.9 1059.9 3630.3 1063.3 3640.1 1066.8 3624.4 1070.2 3630.0 1073.6 3628.4 1077.0 3626.6 1080.5 3616.6 1083.9 3596.8 1087.3 3628.2 1090.7 3614.0 1094.1 3595.4 1097.6 3616.8 1101.0 3630.1 1104.4 3613.4 1107.8 3613.0 1111.3 3608.0 1114.7 3615.0 1118.1 3615.4 1121.5 3618.0 1125.0 3616.4 1128.4 3607.3 1131.8 3607.7 1135.2 3585.3 1138.6 3591.0 1142.1 3570.1 1145.5 3639.2 1148.9 3599.1 1152.3 3606.3 1155.8 3592.1 1159.2 3607.5 1162.6 3594.4 1166.0 3587.4 1169.5 3603.4 1172.9 3590.9 1176.3 3597.2 1179.7 3586.4 1183.1 3583.5 1186.6 3586.7 1190.0 3562.1 1193.4 3576.4 1196.8 3562.4 1200.3 3578.5 1203.7 3542.2 1207.1 3573.1 1210.5 3529.2 1213.9 3573.1 1217.4 3564.4 1220.8 3568.8 1224.2 3595.8 1227.6 3559.5 1231.1 3581.9 1234.5 3593.0 1237.9 3538.0 1241.3 3547.3 1244.8 3556.0 1248.2 3549.0 1251.6 3553.2 1255.0 3561.7 1258.4 3536.1 1261.9 3545.6 1265.3 3549.5 1268.7 3546.9 1272.1 3541.5 1275.6 3545.8 1279.0 3538.7 1282.4 3541.0 1285.8 3553.3 1289.3 3538.4 1292.7 3530.2 1296.1 3540.8 1299.5 3511.2 1302.9 3536.8 1306.4 3514.6 1309.8 3525.4 1313.2 3530.7 1316.6 3540.6 1320.1 3534.9 1323.5 3524.2 1326.9 3531.1 1330.3 3534.2 1333.8 3529.4 1337.2 3512.6 1340.6 3527.0 1344.0 3524.5 1347.4 3533.7 1350.9 3530.4 1354.3 3530.5 1357.7 3529.4 1361.1 3542.7 1364.6 3531.6 1368.0 3539.0 1371.4 3516.2 1374.8 3522.4 1378.3 3522.5 1381.7 3528.8 1385.1 3565.8 1388.5 3530.0 1391.9 3538.5 1395.4 3534.7 1398.8 3540.1 1402.2 3545.0 1405.6 3540.0 1409.1 3533.6 1412.5 3546.5 1415.9 3551.1 1419.3 3532.9 1422.8 3560.0 1426.2 3554.3 1429.6 3562.2 1433.0 3559.3 1436.4 3564.1 1439.9 3563.5 1443.3 3559.5 1446.7 3562.2 1450.1 3569.0 1453.6 3573.2 1457.0 3575.2 1460.4 3577.8 1463.8 3577.8 1467.3 3558.2 1470.7 3584.0 1474.1 3598.2 1477.5 3588.1 1480.9 3585.1 1484.4 3597.9 1487.8 3610.9 1491.2 3603.2 1494.6 3601.5 1498.1 3630.0 1501.5 3642.8 1504.9 3613.9 1508.3 3618.4 1511.8 3616.2 1515.2 3623.3 1518.6 3597.1 1522.0 3645.7 1525.4 3643.5 1528.9 3617.4 1532.3 3638.6 1535.7 3652.3 1539.1 3652.7 1542.6 3649.0 1546.0 3666.9 1549.4 3670.1 1552.8 3662.3 1556.2 3676.3 1559.7 3669.6 1563.1 3683.8 1566.5 3672.1 1569.9 3666.5 1573.4 3673.6 1576.8 3680.9 1580.2 3672.0 1583.6 3681.4 1587.1 3691.1 1590.5 3685.1 1593.9 3680.7 1597.3 3692.4 1600.7 3688.8 1604.2 3680.3 1607.6 3695.6 1611.0 3680.2 1614.4 3711.4 1617.9 3707.6 1621.3 3712.2 1624.7 3702.6 1628.1 3711.8 1631.6 3707.3 1635.0 3714.0 1638.4 3716.1 1641.8 3727.4 1645.2 3718.9 1648.7 3710.5 1652.1 3708.4 1655.5 3719.0 1658.9 3729.1 1662.4 3734.1 1665.8 3727.2 1669.2 3739.4 1672.6 3739.3 1676.1 3727.6 1679.5 3738.2 1682.9 3709.1 1686.3 3744.3 1689.7 3728.3 1693.2 3737.2 1696.6 3732.3 1700.0 3743.6 1703.4 3734.5 1706.9 3736.9 1710.3 3740.1 1713.7 3732.0 1717.1 3723.5 1720.6 3706.7 1724.0 3730.2 1727.4 3737.8 1730.8 3739.3 1734.2 3719.7 1737.7 3759.0 1741.1 3746.4 1744.5 3757.0 1747.9 3743.9 1751.4 3743.4 1754.8 3707.3 1758.2 3738.9 1761.6 3726.1 1765.1 3730.9 1768.5 3746.8 1771.9 3738.8 1775.3 3728.3 1778.7 3742.0 1782.2 3724.0 1785.6 3739.4 1789.0 3757.7 1792.4 3725.5 1795.9 3758.6 1799.3 3739.7 1802.7 3753.1 1806.1 3747.8 1809.6 3746.1 1813.0 3746.5 1816.4 3706.3 1819.8 3744.4 1823.2 3744.0 1826.7 3759.0 1830.1 3755.1 1833.5 3742.8 1836.9 3759.0 1840.4 3743.4 1843.8 3759.0 1847.2 3753.3 1850.6 3740.2 1854.1 3752.2 1857.5 3759.0 1860.9 3722.9 1864.3 3759.0 1867.7 3725.5 1871.2 3759.0 1874.6 3720.1 1878.0 3748.5 1881.4 3753.8 1884.9 3749.8 1888.3 3741.8 1891.7 3734.5 1895.1 3756.3 1898.5 3730.6 1902.0 3758.9 1905.4 3756.4 1908.8 3751.0 1912.2 3738.8 1915.7 3720.0 1919.1 3749.2 1922.5 3742.1 1925.9 3759.0 1929.4 3745.6 1932.8 3745.3 1936.2 3728.0 1939.6 3752.2 1943.0 3743.7 1946.5 3744.7 1949.9 3745.9 1953.3 3753.9" fill="none" stroke="#000" stroke-width="4.6" stroke-linejoin="round"/>
<rect x="156.0" y="44.0" width="354.7" height="113.0" fill="#000"/>
<rect x="136.9" y="26.0" width="355.7" height="112.0" fill="#fff" stroke="#999" stroke-width="2"/>
<text transform="translate(165.4,107.0) scale(0.93,1)" font-family='"Liberation Sans", Arial, sans-serif' font-weight="bold" font-size="74.13" letter-spacing="0.88">Pd-AuCe</text>
<rect x="144.2" y="1425.7" width="504.8" height="110.6" fill="#000"/>
<rect x="125.5" y="1408.8" width="505.7" height="113.0" fill="#fff" stroke="#999" stroke-width="2"/>
<text transform="translate(155.5,1488.2) scale(0.93,1)" font-family='"Liberation Sans", Arial, sans-serif' font-weight="bold" font-size="71.95" letter-spacing="2.45">Pd-AuYCeCP</text>
<rect x="145.7" y="2809.6" width="483.1" height="112.4" fill="#000"/>
<rect x="128.8" y="2790.4" width="480.8" height="113.9" fill="#fff"/>
<polyline points="128.8,2790.4 609.6,2790.4 609.6,2808.9" fill="none" stroke="#888" stroke-width="2.5"/>
<text transform="translate(158.1,2871.6) scale(0.93,1)" font-family='"Liberation Sans", Arial, sans-serif' font-weight="bold" font-size="71.22" letter-spacing="2.98">Pd-AuYCeIM</text>
<text transform="translate(684.9,133.7) scale(0.96,1)" font-family='"Liberation Sans", Arial, sans-serif' font-weight="bold" font-size="61.19" letter-spacing="1.06">Pd 3d</text>
<text x="849.0" y="157.0" font-family='"Liberation Sans", Arial, sans-serif' font-weight="bold" font-size="35.09" textLength="46.8" lengthAdjust="spacingAndGlyphs">5/2</text>
<text transform="translate(1312.1,260.6) scale(0.96,1)" font-family='"Liberation Sans", Arial, sans-serif' font-weight="bold" font-size="61.34" letter-spacing="0.57">Pd 3d</text>
<text x="1474.2" y="283.5" font-family='"Liberation Sans", Arial, sans-serif' font-weight="bold" font-size="37.52" textLength="49.9" lengthAdjust="spacingAndGlyphs">3/2</text>
<text transform="translate(676.5,1547.3) scale(0.96,1)" font-family='"Liberation Sans", Arial, sans-serif' font-weight="bold" font-size="61.19" letter-spacing="0.12">Pd 3d</text>
<text x="837.9" y="1570.5" font-family='"Liberation Sans", Arial, sans-serif' font-weight="bold" font-size="31.51" textLength="50.8" lengthAdjust="spacingAndGlyphs">5/2</text>
<text transform="translate(1266.3,1706.0) scale(0.96,1)" font-family='"Liberation Sans", Arial, sans-serif' font-weight="bold" font-size="61.92" letter-spacing="0.74">Pd 3d</text>
<text x="1431.3" y="1728.3" font-family='"Liberation Sans", Arial, sans-serif' font-weight="bold" font-size="30.51" textLength="46.9" lengthAdjust="spacingAndGlyphs">3/2</text>
<text transform="translate(630.1,2942.9) scale(0.96,1)" font-family='"Liberation Sans", Arial, sans-serif' font-weight="bold" font-size="61.19" letter-spacing="0.53">Pd 3d/</text>
<text x="810.9" y="2966.2" font-family='"Liberation Sans", Arial, sans-serif' font-weight="bold" font-size="31.79" textLength="45.6" lengthAdjust="spacingAndGlyphs">5/2</text>
<text transform="translate(1229.9,3092.7) scale(0.96,1)" font-family='"Liberation Sans", Arial, sans-serif' font-weight="bold" font-size="61.19" letter-spacing="0.67">Pd 3d</text>
<text x="1392.0" y="3115.7" font-family='"Liberation Sans", Arial, sans-serif' font-weight="bold" font-size="35.95" textLength="48.7" lengthAdjust="spacingAndGlyphs">3/2</text>
<text x="1901.6" y="444.9" font-family='"Liberation Sans", Arial, sans-serif' font-weight="bold" font-size="60.78" textLength="26.8" lengthAdjust="spacingAndGlyphs">a</text>
<text x="1938.7" y="445.7" font-family='"Liberation Sans", Arial, sans-serif' font-weight="bold" font-size="56.75" textLength="15.7" lengthAdjust="spacingAndGlyphs">)</text>
<text x="1907.2" y="938.9" font-family='"Liberation Sans", Arial, sans-serif' font-weight="bold" font-size="61.14" textLength="35.5" lengthAdjust="spacingAndGlyphs">b</text>
<text x="1950.3" y="939.7" font-family='"Liberation Sans", Arial, sans-serif' font-weight="bold" font-size="56.75" textLength="10.9" lengthAdjust="spacingAndGlyphs">)</text>
<text x="1842.8" y="1890.1" font-family='"Liberation Sans", Arial, sans-serif' font-weight="bold" font-size="60.05" textLength="25.9" lengthAdjust="spacingAndGlyphs">a</text>
<text x="1879.9" y="1889.8" font-family='"Liberation Sans", Arial, sans-serif' font-weight="bold" font-size="60.18" textLength="14.6" lengthAdjust="spacingAndGlyphs">)</text>
<text x="1836.4" y="2321.0" font-family='"Liberation Sans", Arial, sans-serif' font-weight="bold" font-size="56.24" textLength="31.2" lengthAdjust="spacingAndGlyphs">b</text>
<text x="1875.5" y="2321.7" font-family='"Liberation Sans", Arial, sans-serif' font-weight="bold" font-size="56.75" textLength="11.8" lengthAdjust="spacingAndGlyphs">)</text>
<text x="1889.6" y="3277.7" font-family='"Liberation Sans", Arial, sans-serif' font-weight="bold" font-size="60.78" textLength="26.4" lengthAdjust="spacingAndGlyphs">a</text>
<text x="1926.3" y="3276.7" font-family='"Liberation Sans", Arial, sans-serif' font-weight="bold" font-size="54.18" textLength="11.3" lengthAdjust="spacingAndGlyphs">)</text>
<text x="1891.7" y="3652.9" font-family='"Liberation Sans", Arial, sans-serif' font-weight="bold" font-size="60.60" textLength="30.7" lengthAdjust="spacingAndGlyphs">b</text>
<text x="1934.3" y="3652.9" font-family='"Liberation Sans", Arial, sans-serif' font-weight="bold" font-size="60.61" textLength="11.3" lengthAdjust="spacingAndGlyphs">)</text>
<text transform="translate(78.1,1076.5) scale(0.97,1)" font-family='"Liberation Sans", Arial, sans-serif' font-weight="bold" font-size="62.30" letter-spacing="2.05">332</text>
<text transform="translate(306.3,1076.5) scale(0.97,1)" font-family='"Liberation Sans", Arial, sans-serif' font-weight="bold" font-size="62.30" letter-spacing="0.97">334</text>
<text transform="translate(534.5,1076.5) scale(0.97,1)" font-family='"Liberation Sans", Arial, sans-serif' font-weight="bold" font-size="62.30" letter-spacing="1.93">336</text>
<text transform="translate(762.7,1076.5) scale(0.97,1)" font-family='"Liberation Sans", Arial, sans-serif' font-weight="bold" font-size="62.30" letter-spacing="1.76">338</text>
<text transform="translate(990.9,1076.5) scale(0.97,1)" font-family='"Liberation Sans", Arial, sans-serif' font-weight="bold" font-size="62.30" letter-spacing="2.08">340</text>
<text transform="translate(1219.1,1076.5) scale(0.97,1)" font-family='"Liberation Sans", Arial, sans-serif' font-weight="bold" font-size="62.30" letter-spacing="2.05">342</text>
<text transform="translate(1447.3,1076.5) scale(0.97,1)" font-family='"Liberation Sans", Arial, sans-serif' font-weight="bold" font-size="62.30" letter-spacing="0.97">344</text>
<text transform="translate(1675.5,1076.5) scale(0.97,1)" font-family='"Liberation Sans", Arial, sans-serif' font-weight="bold" font-size="62.30" letter-spacing="1.93">346</text>
<text transform="translate(1903.7,1076.5) scale(0.97,1)" font-family='"Liberation Sans", Arial, sans-serif' font-weight="bold" font-size="62.30" letter-spacing="1.76">348</text>
<text transform="translate(78.2,2485.0) scale(0.97,1)" font-family='"Liberation Sans", Arial, sans-serif' font-weight="bold" font-size="58.72" letter-spacing="4.93">332</text>
<text transform="translate(306.4,2485.0) scale(0.97,1)" font-family='"Liberation Sans", Arial, sans-serif' font-weight="bold" font-size="58.72" letter-spacing="3.91">334</text>
<text transform="translate(534.6,2485.0) scale(0.97,1)" font-family='"Liberation Sans", Arial, sans-serif' font-weight="bold" font-size="58.72" letter-spacing="4.81">336</text>
<text transform="translate(762.8,2485.0) scale(0.97,1)" font-family='"Liberation Sans", Arial, sans-serif' font-weight="bold" font-size="58.72" letter-spacing="4.65">338</text>
<text transform="translate(991.0,2485.0) scale(0.97,1)" font-family='"Liberation Sans", Arial, sans-serif' font-weight="bold" font-size="58.72" letter-spacing="4.95">340</text>
<text transform="translate(1219.2,2485.0) scale(0.97,1)" font-family='"Liberation Sans", Arial, sans-serif' font-weight="bold" font-size="58.72" letter-spacing="4.93">342</text>
<text transform="translate(1447.4,2485.0) scale(0.97,1)" font-family='"Liberation Sans", Arial, sans-serif' font-weight="bold" font-size="58.72" letter-spacing="3.91">344</text>
<text transform="translate(1675.6,2485.0) scale(0.97,1)" font-family='"Liberation Sans", Arial, sans-serif' font-weight="bold" font-size="58.72" letter-spacing="4.81">346</text>
<text transform="translate(1903.8,2485.0) scale(0.97,1)" font-family='"Liberation Sans", Arial, sans-serif' font-weight="bold" font-size="58.72" letter-spacing="4.65">348</text>
<text transform="translate(78.2,3873.5) scale(0.97,1)" font-family='"Liberation Sans", Arial, sans-serif' font-weight="bold" font-size="59.43" letter-spacing="4.35">332</text>
<text transform="translate(306.4,3873.5) scale(0.97,1)" font-family='"Liberation Sans", Arial, sans-serif' font-weight="bold" font-size="59.43" letter-spacing="3.32">334</text>
<text transform="translate(534.6,3873.5) scale(0.97,1)" font-family='"Liberation Sans", Arial, sans-serif' font-weight="bold" font-size="59.43" letter-spacing="4.24">336</text>
<text transform="translate(762.8,3873.5) scale(0.97,1)" font-family='"Liberation Sans", Arial, sans-serif' font-weight="bold" font-size="59.43" letter-spacing="4.08">338</text>
<text transform="translate(991.0,3873.5) scale(0.97,1)" font-family='"Liberation Sans", Arial, sans-serif' font-weight="bold" font-size="59.43" letter-spacing="4.38">340</text>
<text transform="translate(1219.2,3873.5) scale(0.97,1)" font-family='"Liberation Sans", Arial, sans-serif' font-weight="bold" font-size="59.43" letter-spacing="4.35">342</text>
<text transform="translate(1447.4,3873.5) scale(0.97,1)" font-family='"Liberation Sans", Arial, sans-serif' font-weight="bold" font-size="59.43" letter-spacing="3.32">344</text>
<text transform="translate(1675.6,3873.5) scale(0.97,1)" font-family='"Liberation Sans", Arial, sans-serif' font-weight="bold" font-size="59.43" letter-spacing="4.24">346</text>
<text transform="translate(1903.8,3873.5) scale(0.97,1)" font-family='"Liberation Sans", Arial, sans-serif' font-weight="bold" font-size="59.43" letter-spacing="4.08">348</text>
<text transform="translate(700.8,1230.6) scale(1.0,1)" font-family='"Liberation Sans", Arial, sans-serif' font-weight="bold" font-size="65.26" letter-spacing="2.45">Binding Energy (eV)</text>
<text transform="translate(650.1,2614.0) scale(1.0,1)" font-family='"Liberation Sans", Arial, sans-serif' font-weight="bold" font-size="65.41" letter-spacing="2.43">Binding Energy (eV</text>
<text x="1302.4" y="2613.9" font-family='"Liberation Sans", Arial, sans-serif' font-weight="normal" font-size="56.57" textLength="14.8" lengthAdjust="spacingAndGlyphs">)</text>
<text transform="translate(716.1,4015.6) scale(1.0,1)" font-family='"Liberation Sans", Arial, sans-serif' font-weight="bold" font-size="65.26" letter-spacing="2.58">Binding Energy (eV)</text>
<text transform="rotate(-90)" x="-769.5" y="100.3" font-family='"Liberation Sans", Arial, sans-serif' font-weight="normal" font-size="73.84" textLength="479.5" lengthAdjust="spacingAndGlyphs" stroke="#000" stroke-width="1.6">Intensity, a. u.</text>
<text transform="rotate(-90)" x="-2203.5" y="68.7" font-family='"Liberation Sans", Arial, sans-serif' font-weight="normal" font-size="72.82" textLength="460.4" lengthAdjust="spacingAndGlyphs" stroke="#000" stroke-width="1.6">Intensity, a.u.</text>
<text transform="rotate(-90)" x="-3574.9" y="80.4" font-family='"Liberation Sans", Arial, sans-serif' font-weight="normal" font-size="73.55" textLength="462.1" lengthAdjust="spacingAndGlyphs" stroke="#000" stroke-width="1.6">Intensity, a.u.</text>
<text x="925.1" y="1342.6" font-family='"Liberation Serif", "Times New Roman", serif' font-weight="normal" font-size="85.58" textLength="26.5" lengthAdjust="spacingAndGlyphs">(</text>
<text x="953.0" y="1341.7" font-family='"Liberation Serif", "Times New Roman", serif' font-weight="bold" font-size="87.71" textLength="62.8" lengthAdjust="spacingAndGlyphs">A</text>
<text x="1017.3" y="1342.6" font-family='"Liberation Serif", "Times New Roman", serif' font-weight="normal" font-size="85.58" textLength="26.5" lengthAdjust="spacingAndGlyphs">)</text>
<text x="930.7" y="2729.3" font-family='"Liberation Serif", "Times New Roman", serif' font-weight="normal" font-size="85.14" textLength="25.5" lengthAdjust="spacingAndGlyphs">(</text>
<text x="958.6" y="2728.7" font-family='"Liberation Serif", "Times New Roman", serif' font-weight="bold" font-size="87.97" textLength="51.9" lengthAdjust="spacingAndGlyphs">B</text>
<text x="1012.6" y="2729.3" font-family='"Liberation Serif", "Times New Roman", serif' font-weight="normal" font-size="85.14" textLength="25.7" lengthAdjust="spacingAndGlyphs">)</text>
<text x="927.7" y="4129.6" font-family='"Liberation Serif", "Times New Roman", serif' font-weight="normal" font-size="85.58" textLength="25.4" lengthAdjust="spacingAndGlyphs">(</text>
<text x="953.5" y="4130.0" font-family='"Liberation Serif", "Times New Roman", serif' font-weight="bold" font-size="90.32" textLength="65.4" lengthAdjust="spacingAndGlyphs">C</text>
<text x="1014.6" y="4129.6" font-family='"Liberation Serif", "Times New Roman", serif' font-weight="normal" font-size="85.58" textLength="25.7" lengthAdjust="spacingAndGlyphs">)</text>
</svg>
</body></html>
